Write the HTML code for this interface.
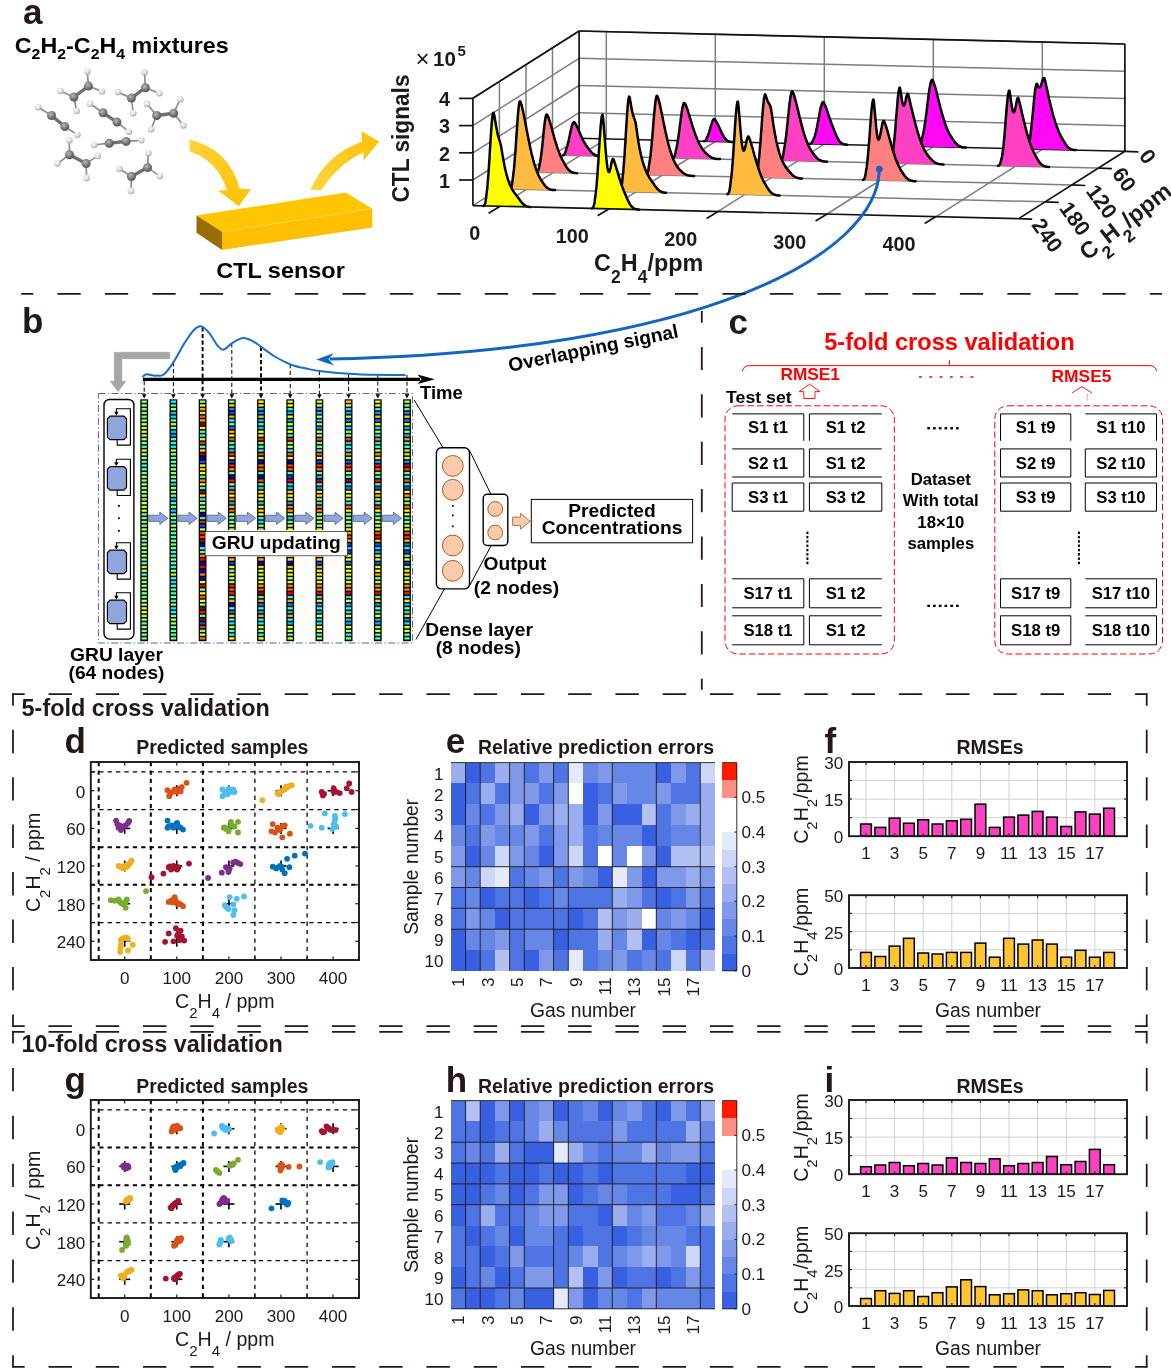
<!DOCTYPE html>
<html lang="en"><head><meta charset="utf-8"><title>Figure: GRU-based CTL sensor analysis</title>
<style>
html,body{margin:0;padding:0;background:#fff;}
svg{display:block;font-family:"Liberation Sans", sans-serif;}
text{white-space:pre;}
</style></head><body>
<svg width="1171" height="1370" viewBox="0 0 1171 1370">
<defs>
<radialGradient id="gC" cx="0.4" cy="0.35" r="0.7"><stop offset="0" stop-color="#b8b8b8"/><stop offset="0.55" stop-color="#7a7a7a"/><stop offset="1" stop-color="#4c4c4c"/></radialGradient>
<radialGradient id="gH" cx="0.4" cy="0.35" r="0.7"><stop offset="0" stop-color="#fbfbfb"/><stop offset="0.55" stop-color="#dcdcdc"/><stop offset="1" stop-color="#9c9c9c"/></radialGradient>
<linearGradient id="gA1" x1="0" y1="0" x2="1" y2="1"><stop offset="0" stop-color="#ffd23c"/><stop offset="1" stop-color="#fdc100"/></linearGradient>
<linearGradient id="gA2" x1="0" y1="1" x2="1" y2="0"><stop offset="0" stop-color="#ffd446"/><stop offset="1" stop-color="#fdc100"/></linearGradient>
</defs>
<rect width="1171" height="1370" fill="#fff"/>

<g id="panel-a">
<text x="23.0" y="23.5" font-size="35" font-weight="bold" fill="#231815">a</text>
<text x="14.8" y="53.2" font-size="22.3" font-weight="bold" textLength="213.8" lengthAdjust="spacingAndGlyphs">C<tspan font-size="15.2" dy="6.2">2</tspan><tspan dy="-6.2" font-size="22.3">&#8203;</tspan>H<tspan font-size="15.2" dy="6.2">2</tspan><tspan dy="-6.2" font-size="22.3">&#8203;</tspan>-C<tspan font-size="15.2" dy="6.2">2</tspan><tspan dy="-6.2" font-size="22.3">&#8203;</tspan>H<tspan font-size="15.2" dy="6.2">4</tspan><tspan dy="-6.2" font-size="22.3">&#8203;</tspan> mixtures</text>
<line x1="73.9" y1="97.0" x2="88.4" y2="86.1" stroke="#707070" stroke-width="3.4" stroke-linecap="round"/>
<line x1="73.9" y1="97.0" x2="60.4" y2="91.0" stroke="#8e8e8e" stroke-width="1.7" />
<line x1="73.9" y1="97.0" x2="76.6" y2="111.0" stroke="#8e8e8e" stroke-width="1.7" />
<line x1="88.4" y1="86.1" x2="87.3" y2="71.5" stroke="#8e8e8e" stroke-width="1.7" />
<line x1="88.4" y1="86.1" x2="102.1" y2="91.5" stroke="#8e8e8e" stroke-width="1.7" />
<circle cx="60.4" cy="91.0" r="3.3" fill="url(#gH)" stroke="none" stroke-width="1" />
<circle cx="76.6" cy="111.0" r="3.3" fill="url(#gH)" stroke="none" stroke-width="1" />
<circle cx="87.3" cy="71.5" r="3.3" fill="url(#gH)" stroke="none" stroke-width="1" />
<circle cx="102.1" cy="91.5" r="3.3" fill="url(#gH)" stroke="none" stroke-width="1" />
<circle cx="73.9" cy="97.0" r="4.5" fill="url(#gC)" stroke="none" stroke-width="1" />
<circle cx="88.4" cy="86.1" r="4.5" fill="url(#gC)" stroke="none" stroke-width="1" />
<line x1="131.4" y1="98.1" x2="145.4" y2="87.7" stroke="#707070" stroke-width="3.4" stroke-linecap="round"/>
<line x1="131.4" y1="98.1" x2="117.9" y2="92.1" stroke="#8e8e8e" stroke-width="1.7" />
<line x1="131.4" y1="98.1" x2="133.2" y2="113.2" stroke="#8e8e8e" stroke-width="1.7" />
<line x1="145.4" y1="87.7" x2="144.5" y2="72.2" stroke="#8e8e8e" stroke-width="1.7" />
<line x1="145.4" y1="87.7" x2="159.4" y2="93.3" stroke="#8e8e8e" stroke-width="1.7" />
<circle cx="117.9" cy="92.1" r="3.3" fill="url(#gH)" stroke="none" stroke-width="1" />
<circle cx="133.2" cy="113.2" r="3.3" fill="url(#gH)" stroke="none" stroke-width="1" />
<circle cx="144.5" cy="72.2" r="3.3" fill="url(#gH)" stroke="none" stroke-width="1" />
<circle cx="159.4" cy="93.3" r="3.3" fill="url(#gH)" stroke="none" stroke-width="1" />
<circle cx="131.4" cy="98.1" r="4.5" fill="url(#gC)" stroke="none" stroke-width="1" />
<circle cx="145.4" cy="87.7" r="4.5" fill="url(#gC)" stroke="none" stroke-width="1" />
<line x1="156.7" y1="115.5" x2="173.6" y2="113.2" stroke="#707070" stroke-width="3.4" stroke-linecap="round"/>
<line x1="156.7" y1="115.5" x2="147.0" y2="103.9" stroke="#8e8e8e" stroke-width="1.7" />
<line x1="156.7" y1="115.5" x2="151.0" y2="129.2" stroke="#8e8e8e" stroke-width="1.7" />
<line x1="173.6" y1="113.2" x2="180.3" y2="99.2" stroke="#8e8e8e" stroke-width="1.7" />
<line x1="173.6" y1="113.2" x2="183.4" y2="125.4" stroke="#8e8e8e" stroke-width="1.7" />
<circle cx="147.0" cy="103.9" r="3.3" fill="url(#gH)" stroke="none" stroke-width="1" />
<circle cx="151.0" cy="129.2" r="3.3" fill="url(#gH)" stroke="none" stroke-width="1" />
<circle cx="180.3" cy="99.2" r="3.3" fill="url(#gH)" stroke="none" stroke-width="1" />
<circle cx="183.4" cy="125.4" r="3.3" fill="url(#gH)" stroke="none" stroke-width="1" />
<circle cx="156.7" cy="115.5" r="4.5" fill="url(#gC)" stroke="none" stroke-width="1" />
<circle cx="173.6" cy="113.2" r="4.5" fill="url(#gC)" stroke="none" stroke-width="1" />
<line x1="51.5" y1="115.5" x2="64.8" y2="126.6" stroke="#707070" stroke-width="3.4" stroke-linecap="round"/>
<line x1="51.5" y1="115.5" x2="38.2" y2="107.2" stroke="#8e8e8e" stroke-width="1.7" />
<line x1="64.8" y1="126.6" x2="77.3" y2="134.8" stroke="#8e8e8e" stroke-width="1.7" />
<circle cx="38.2" cy="107.2" r="3.3" fill="url(#gH)" stroke="none" stroke-width="1" />
<circle cx="77.3" cy="134.8" r="3.3" fill="url(#gH)" stroke="none" stroke-width="1" />
<circle cx="51.5" cy="115.5" r="4.5" fill="url(#gC)" stroke="none" stroke-width="1" />
<circle cx="64.8" cy="126.6" r="4.5" fill="url(#gC)" stroke="none" stroke-width="1" />
<line x1="103.0" y1="112.8" x2="117.0" y2="122.1" stroke="#707070" stroke-width="3.4" stroke-linecap="round"/>
<line x1="103.0" y1="112.8" x2="90.1" y2="103.7" stroke="#8e8e8e" stroke-width="1.7" />
<line x1="117.0" y1="122.1" x2="128.8" y2="131.7" stroke="#8e8e8e" stroke-width="1.7" />
<circle cx="90.1" cy="103.7" r="3.3" fill="url(#gH)" stroke="none" stroke-width="1" />
<circle cx="128.8" cy="131.7" r="3.3" fill="url(#gH)" stroke="none" stroke-width="1" />
<circle cx="103.0" cy="112.8" r="4.5" fill="url(#gC)" stroke="none" stroke-width="1" />
<circle cx="117.0" cy="122.1" r="4.5" fill="url(#gC)" stroke="none" stroke-width="1" />
<line x1="109.2" y1="143.2" x2="126.1" y2="141.4" stroke="#707070" stroke-width="3.4" stroke-linecap="round"/>
<line x1="109.2" y1="143.2" x2="94.1" y2="145.0" stroke="#8e8e8e" stroke-width="1.7" />
<line x1="126.1" y1="141.4" x2="141.4" y2="140.3" stroke="#8e8e8e" stroke-width="1.7" />
<circle cx="94.1" cy="145.0" r="3.3" fill="url(#gH)" stroke="none" stroke-width="1" />
<circle cx="141.4" cy="140.3" r="3.3" fill="url(#gH)" stroke="none" stroke-width="1" />
<circle cx="109.2" cy="143.2" r="4.5" fill="url(#gC)" stroke="none" stroke-width="1" />
<circle cx="126.1" cy="141.4" r="4.5" fill="url(#gC)" stroke="none" stroke-width="1" />
<line x1="69.5" y1="154.8" x2="86.1" y2="163.6" stroke="#707070" stroke-width="3.4" stroke-linecap="round"/>
<line x1="69.5" y1="154.8" x2="69.3" y2="140.3" stroke="#8e8e8e" stroke-width="1.7" />
<line x1="69.5" y1="154.8" x2="57.3" y2="163.6" stroke="#8e8e8e" stroke-width="1.7" />
<line x1="86.1" y1="163.6" x2="97.7" y2="155.9" stroke="#8e8e8e" stroke-width="1.7" />
<line x1="86.1" y1="163.6" x2="86.6" y2="178.1" stroke="#8e8e8e" stroke-width="1.7" />
<circle cx="69.3" cy="140.3" r="3.3" fill="url(#gH)" stroke="none" stroke-width="1" />
<circle cx="57.3" cy="163.6" r="3.3" fill="url(#gH)" stroke="none" stroke-width="1" />
<circle cx="97.7" cy="155.9" r="3.3" fill="url(#gH)" stroke="none" stroke-width="1" />
<circle cx="86.6" cy="178.1" r="3.3" fill="url(#gH)" stroke="none" stroke-width="1" />
<circle cx="69.5" cy="154.8" r="4.5" fill="url(#gC)" stroke="none" stroke-width="1" />
<circle cx="86.1" cy="163.6" r="4.5" fill="url(#gC)" stroke="none" stroke-width="1" />
<line x1="131.4" y1="176.5" x2="147.6" y2="167.6" stroke="#707070" stroke-width="3.4" stroke-linecap="round"/>
<line x1="131.4" y1="176.5" x2="119.4" y2="168.7" stroke="#8e8e8e" stroke-width="1.7" />
<line x1="131.4" y1="176.5" x2="131.0" y2="190.9" stroke="#8e8e8e" stroke-width="1.7" />
<line x1="147.6" y1="167.6" x2="148.3" y2="153.2" stroke="#8e8e8e" stroke-width="1.7" />
<line x1="147.6" y1="167.6" x2="159.9" y2="176.1" stroke="#8e8e8e" stroke-width="1.7" />
<circle cx="119.4" cy="168.7" r="3.3" fill="url(#gH)" stroke="none" stroke-width="1" />
<circle cx="131.0" cy="190.9" r="3.3" fill="url(#gH)" stroke="none" stroke-width="1" />
<circle cx="148.3" cy="153.2" r="3.3" fill="url(#gH)" stroke="none" stroke-width="1" />
<circle cx="159.9" cy="176.1" r="3.3" fill="url(#gH)" stroke="none" stroke-width="1" />
<circle cx="131.4" cy="176.5" r="4.5" fill="url(#gC)" stroke="none" stroke-width="1" />
<circle cx="147.6" cy="167.6" r="4.5" fill="url(#gC)" stroke="none" stroke-width="1" />
<path d="M189.6,139.5 Q229,149 239.7,188.8 L250.9,189.2 L238.7,206.2 L218.1,190.5 L227,190.1 Q217,160 189.6,151.2 Z" fill="url(#gA1)" stroke="none" stroke-width="1" />
<path d="M310.4,189.8 Q325,155 362.1,141.4 L361.5,131.2 L379.2,141.4 L363.5,160.7 L363.5,152.2 Q337,165 321.6,190.1 Z" fill="url(#gA2)" stroke="none" stroke-width="1" />
<path d="M196.5,215.5 L345.8,192.5 L372.3,208.8 L222.1,231.8 Z" fill="#ffc600" stroke="none" stroke-width="1" />
<path d="M222.1,231.8 L372.3,208.8 L372.3,227.5 L222.1,249.9 Z" fill="#fdbf00" stroke="none" stroke-width="1" />
<path d="M196.5,215.5 L222.1,231.8 L222.1,249.9 L196.5,232.8 Z" fill="#9a6d00" stroke="none" stroke-width="1" />
<path d="M222.1,231.8 L372.3,208.8" fill="none" stroke="#ffd65a" stroke-width="0.6" />
<text x="280.5" y="277.8" font-size="22.4" font-weight="bold" text-anchor="middle" textLength="128.6" lengthAdjust="spacingAndGlyphs">CTL sensor</text>
<line x1="472.9" y1="180.0" x2="579.1" y2="112.7" stroke="#7d7d7d" stroke-width="1.5" />
<line x1="579.1" y1="112.7" x2="1124.9" y2="125.7" stroke="#7d7d7d" stroke-width="1.5" />
<line x1="472.9" y1="152.8" x2="579.1" y2="85.5" stroke="#7d7d7d" stroke-width="1.5" />
<line x1="579.1" y1="85.5" x2="1124.9" y2="98.5" stroke="#7d7d7d" stroke-width="1.5" />
<line x1="472.9" y1="125.6" x2="579.1" y2="58.3" stroke="#7d7d7d" stroke-width="1.5" />
<line x1="579.1" y1="58.3" x2="1124.9" y2="71.3" stroke="#7d7d7d" stroke-width="1.5" />
<line x1="472.9" y1="98.4" x2="579.1" y2="31.1" stroke="#7d7d7d" stroke-width="1.5" />
<line x1="579.1" y1="31.1" x2="1124.9" y2="44.1" stroke="#7d7d7d" stroke-width="1.5" />
<line x1="552.5" y1="155.1" x2="552.5" y2="47.8" stroke="#7d7d7d" stroke-width="1.5" />
<line x1="552.5" y1="155.1" x2="1098.4" y2="168.1" stroke="#7d7d7d" stroke-width="1.5" />
<line x1="526.0" y1="171.9" x2="526.0" y2="64.6" stroke="#7d7d7d" stroke-width="1.5" />
<line x1="526.0" y1="171.9" x2="1071.8" y2="184.9" stroke="#7d7d7d" stroke-width="1.5" />
<line x1="499.4" y1="188.8" x2="499.4" y2="81.5" stroke="#7d7d7d" stroke-width="1.5" />
<line x1="499.4" y1="188.8" x2="1045.2" y2="201.8" stroke="#7d7d7d" stroke-width="1.5" />
<line x1="606.3" y1="138.9" x2="606.3" y2="31.6" stroke="#7d7d7d" stroke-width="1.5" />
<line x1="606.3" y1="138.9" x2="500.1" y2="206.2" stroke="#7d7d7d" stroke-width="1.5" />
<line x1="715.3" y1="141.5" x2="715.3" y2="34.2" stroke="#7d7d7d" stroke-width="1.5" />
<line x1="715.3" y1="141.5" x2="609.1" y2="208.8" stroke="#7d7d7d" stroke-width="1.5" />
<line x1="824.3" y1="144.1" x2="824.3" y2="36.8" stroke="#7d7d7d" stroke-width="1.5" />
<line x1="824.3" y1="144.1" x2="718.1" y2="211.4" stroke="#7d7d7d" stroke-width="1.5" />
<line x1="933.3" y1="146.7" x2="933.3" y2="39.4" stroke="#7d7d7d" stroke-width="1.5" />
<line x1="933.3" y1="146.7" x2="827.1" y2="214.0" stroke="#7d7d7d" stroke-width="1.5" />
<line x1="1042.3" y1="149.3" x2="1042.3" y2="42.0" stroke="#7d7d7d" stroke-width="1.5" />
<line x1="1042.3" y1="149.3" x2="936.1" y2="216.6" stroke="#7d7d7d" stroke-width="1.5" />
<line x1="472.9" y1="205.6" x2="579.1" y2="138.3" stroke="#7d7d7d" stroke-width="1.5" />
<line x1="579.1" y1="138.3" x2="1124.9" y2="151.3" stroke="#111" stroke-width="1.5" />
<line x1="472.9" y1="205.6" x2="472.9" y2="98.3" stroke="#111" stroke-width="1.7" />
<line x1="472.9" y1="98.3" x2="579.1" y2="31.0" stroke="#111" stroke-width="1.7" />
<line x1="579.1" y1="31.0" x2="579.1" y2="138.3" stroke="#111" stroke-width="1.7" />
<line x1="579.1" y1="31.0" x2="1124.9" y2="44.0" stroke="#111" stroke-width="1.7" />
<line x1="1124.9" y1="44.0" x2="1124.9" y2="151.3" stroke="#111" stroke-width="1.7" />
<path d="M704.0,141.3 L704.2,141.2 L704.4,141.2 L704.6,141.1 L704.8,141.0 L705.0,140.8 L705.2,140.7 L705.5,140.5 L705.7,140.3 L705.9,140.0 L706.1,139.7 L706.3,139.3 L706.5,138.9 L706.7,138.4 L706.9,137.8 L707.1,137.3 L707.3,136.9 L707.5,136.4 L707.7,136.0 L707.9,135.5 L708.1,134.9 L708.4,134.4 L708.6,133.8 L708.8,133.2 L709.0,132.6 L709.2,131.9 L709.4,131.3 L709.6,130.6 L709.8,129.9 L710.0,129.2 L710.2,128.5 L710.4,127.7 L710.6,127.0 L710.8,126.3 L711.0,125.6 L711.2,124.9 L711.5,124.2 L711.7,123.6 L711.9,122.9 L712.1,122.4 L712.3,121.8 L712.5,121.3 L712.7,120.8 L712.9,120.4 L713.1,120.0 L713.3,119.7 L713.5,119.4 L713.7,119.2 L713.9,119.1 L714.1,119.0 L714.4,119.0 L714.6,119.1 L714.8,119.3 L715.0,119.5 L715.2,119.8 L715.4,120.1 L715.6,120.4 L715.8,120.7 L716.0,121.0 L716.2,121.4 L716.4,121.7 L716.6,122.1 L716.8,122.5 L717.0,122.9 L717.3,123.3 L717.5,123.7 L717.7,124.1 L717.9,124.5 L718.1,124.9 L718.3,125.3 L718.5,125.7 L718.7,126.1 L718.9,126.5 L719.1,127.0 L719.3,127.4 L719.5,127.8 L719.7,128.3 L720.0,128.7 L720.2,129.2 L720.4,129.7 L720.6,130.1 L720.8,130.6 L721.0,131.1 L721.2,131.6 L721.4,132.0 L721.6,132.5 L721.8,132.9 L722.0,133.4 L722.2,133.8 L722.4,134.2 L722.6,134.6 L722.9,135.0 L723.1,135.4 L723.3,135.8 L723.5,136.2 L723.7,136.5 L723.9,136.9 L724.1,137.2 L724.3,137.5 L724.5,137.8 L724.7,138.1 L724.9,138.4 L725.1,138.6 L725.3,138.9 L725.5,139.1 L725.8,139.3 L726.0,139.5 L726.2,139.7 L726.4,139.9 L726.6,140.1 L726.8,140.2 L727.0,140.4 L727.2,140.5 L727.4,140.7 L727.6,140.8 L727.8,140.9 L728.0,141.0 L728.2,141.1 L728.4,141.2 L728.6,141.3 L728.9,141.4 L729.1,141.4 L729.3,141.5 L729.5,141.6 L729.7,141.6 L729.9,141.7 L730.1,141.7 L730.3,141.7 L730.5,141.8 L730.7,141.8 L730.9,141.8 L731.1,141.9 L731.3,141.9 L731.5,141.9 L731.8,141.9 L732.0,141.9 L732.2,141.9 L732.4,141.9 L732.6,142.0 L732.8,142.0 L733.0,142.0 Z" fill="#ff08f4" stroke="none" stroke-width="1" />
<path d="M704.0,141.3 L704.2,141.2 L704.4,141.2 L704.6,141.1 L704.8,141.0 L705.0,140.8 L705.2,140.7 L705.5,140.5 L705.7,140.3 L705.9,140.0 L706.1,139.7 L706.3,139.3 L706.5,138.9 L706.7,138.4 L706.9,137.8 L707.1,137.3 L707.3,136.9 L707.5,136.4 L707.7,136.0 L707.9,135.5 L708.1,134.9 L708.4,134.4 L708.6,133.8 L708.8,133.2 L709.0,132.6 L709.2,131.9 L709.4,131.3 L709.6,130.6 L709.8,129.9 L710.0,129.2 L710.2,128.5 L710.4,127.7 L710.6,127.0 L710.8,126.3 L711.0,125.6 L711.2,124.9 L711.5,124.2 L711.7,123.6 L711.9,122.9 L712.1,122.4 L712.3,121.8 L712.5,121.3 L712.7,120.8 L712.9,120.4 L713.1,120.0 L713.3,119.7 L713.5,119.4 L713.7,119.2 L713.9,119.1 L714.1,119.0 L714.4,119.0 L714.6,119.1 L714.8,119.3 L715.0,119.5 L715.2,119.8 L715.4,120.1 L715.6,120.4 L715.8,120.7 L716.0,121.0 L716.2,121.4 L716.4,121.7 L716.6,122.1 L716.8,122.5 L717.0,122.9 L717.3,123.3 L717.5,123.7 L717.7,124.1 L717.9,124.5 L718.1,124.9 L718.3,125.3 L718.5,125.7 L718.7,126.1 L718.9,126.5 L719.1,127.0 L719.3,127.4 L719.5,127.8 L719.7,128.3 L720.0,128.7 L720.2,129.2 L720.4,129.7 L720.6,130.1 L720.8,130.6 L721.0,131.1 L721.2,131.6 L721.4,132.0 L721.6,132.5 L721.8,132.9 L722.0,133.4 L722.2,133.8 L722.4,134.2 L722.6,134.6 L722.9,135.0 L723.1,135.4 L723.3,135.8 L723.5,136.2 L723.7,136.5 L723.9,136.9 L724.1,137.2 L724.3,137.5 L724.5,137.8 L724.7,138.1 L724.9,138.4 L725.1,138.6 L725.3,138.9 L725.5,139.1 L725.8,139.3 L726.0,139.5 L726.2,139.7 L726.4,139.9 L726.6,140.1 L726.8,140.2 L727.0,140.4 L727.2,140.5 L727.4,140.7 L727.6,140.8 L727.8,140.9 L728.0,141.0 L728.2,141.1 L728.4,141.2 L728.6,141.3 L728.9,141.4 L729.1,141.4 L729.3,141.5 L729.5,141.6 L729.7,141.6 L729.9,141.7 L730.1,141.7 L730.3,141.7 L730.5,141.8 L730.7,141.8 L730.9,141.8 L731.1,141.9 L731.3,141.9 L731.5,141.9 L731.8,141.9 L732.0,141.9 L732.2,141.9 L732.4,141.9 L732.6,142.0 L732.8,142.0 L733.0,142.0" fill="none" stroke="#000" stroke-width="2.5" stroke-linejoin="round" stroke-linecap="round"/>
<path d="M810.0,143.8 L810.3,143.7 L810.5,143.6 L810.8,143.5 L811.1,143.4 L811.3,143.2 L811.6,142.9 L811.9,142.6 L812.1,142.2 L812.4,141.8 L812.6,141.2 L812.9,140.6 L813.2,140.0 L813.4,139.5 L813.7,138.9 L814.0,138.3 L814.2,137.6 L814.5,136.9 L814.8,136.1 L815.0,135.3 L815.3,134.4 L815.5,133.4 L815.8,132.4 L816.1,131.3 L816.3,130.1 L816.6,128.9 L816.9,127.7 L817.1,126.4 L817.4,125.0 L817.7,123.6 L817.9,122.2 L818.2,120.8 L818.5,119.3 L818.7,117.9 L819.0,116.4 L819.2,115.0 L819.5,113.6 L819.8,112.2 L820.0,110.9 L820.3,109.6 L820.6,108.4 L820.8,107.3 L821.1,106.2 L821.4,105.3 L821.6,104.5 L821.9,103.7 L822.2,103.2 L822.4,102.7 L822.7,102.4 L823.0,102.2 L823.2,102.1 L823.5,102.3 L823.7,102.6 L824.0,103.0 L824.3,103.5 L824.5,104.0 L824.8,104.6 L825.1,105.2 L825.3,105.8 L825.6,106.5 L825.9,107.2 L826.1,107.9 L826.4,108.7 L826.6,109.4 L826.9,110.2 L827.2,110.9 L827.4,111.7 L827.7,112.5 L828.0,113.3 L828.2,114.1 L828.5,114.9 L828.8,115.7 L829.0,116.5 L829.3,117.3 L829.6,118.0 L829.8,118.8 L830.1,119.6 L830.4,120.3 L830.6,121.1 L830.9,121.8 L831.1,122.6 L831.4,123.3 L831.7,124.0 L831.9,124.7 L832.2,125.3 L832.5,126.0 L832.7,126.6 L833.0,127.3 L833.3,127.9 L833.5,128.6 L833.8,129.2 L834.0,129.9 L834.3,130.6 L834.6,131.3 L834.8,131.9 L835.1,132.6 L835.4,133.3 L835.6,133.9 L835.9,134.5 L836.2,135.2 L836.4,135.8 L836.7,136.3 L837.0,136.9 L837.2,137.4 L837.5,137.9 L837.8,138.4 L838.0,138.9 L838.3,139.4 L838.5,139.8 L838.8,140.2 L839.1,140.6 L839.3,140.9 L839.6,141.3 L839.9,141.6 L840.1,141.9 L840.4,142.2 L840.7,142.4 L840.9,142.7 L841.2,142.9 L841.5,143.1 L841.7,143.3 L842.0,143.4 L842.2,143.6 L842.5,143.7 L842.8,143.9 L843.0,144.0 L843.3,144.1 L843.6,144.2 L843.8,144.3 L844.1,144.3 L844.4,144.4 L844.6,144.4 L844.9,144.5 L845.1,144.5 L845.4,144.6 L845.7,144.6 L845.9,144.6 L846.2,144.6 L846.5,144.7 L846.7,144.7 L847.0,144.7 Z" fill="#ff08f4" stroke="none" stroke-width="1" />
<path d="M810.0,143.8 L810.3,143.7 L810.5,143.6 L810.8,143.5 L811.1,143.4 L811.3,143.2 L811.6,142.9 L811.9,142.6 L812.1,142.2 L812.4,141.8 L812.6,141.2 L812.9,140.6 L813.2,140.0 L813.4,139.5 L813.7,138.9 L814.0,138.3 L814.2,137.6 L814.5,136.9 L814.8,136.1 L815.0,135.3 L815.3,134.4 L815.5,133.4 L815.8,132.4 L816.1,131.3 L816.3,130.1 L816.6,128.9 L816.9,127.7 L817.1,126.4 L817.4,125.0 L817.7,123.6 L817.9,122.2 L818.2,120.8 L818.5,119.3 L818.7,117.9 L819.0,116.4 L819.2,115.0 L819.5,113.6 L819.8,112.2 L820.0,110.9 L820.3,109.6 L820.6,108.4 L820.8,107.3 L821.1,106.2 L821.4,105.3 L821.6,104.5 L821.9,103.7 L822.2,103.2 L822.4,102.7 L822.7,102.4 L823.0,102.2 L823.2,102.1 L823.5,102.3 L823.7,102.6 L824.0,103.0 L824.3,103.5 L824.5,104.0 L824.8,104.6 L825.1,105.2 L825.3,105.8 L825.6,106.5 L825.9,107.2 L826.1,107.9 L826.4,108.7 L826.6,109.4 L826.9,110.2 L827.2,110.9 L827.4,111.7 L827.7,112.5 L828.0,113.3 L828.2,114.1 L828.5,114.9 L828.8,115.7 L829.0,116.5 L829.3,117.3 L829.6,118.0 L829.8,118.8 L830.1,119.6 L830.4,120.3 L830.6,121.1 L830.9,121.8 L831.1,122.6 L831.4,123.3 L831.7,124.0 L831.9,124.7 L832.2,125.3 L832.5,126.0 L832.7,126.6 L833.0,127.3 L833.3,127.9 L833.5,128.6 L833.8,129.2 L834.0,129.9 L834.3,130.6 L834.6,131.3 L834.8,131.9 L835.1,132.6 L835.4,133.3 L835.6,133.9 L835.9,134.5 L836.2,135.2 L836.4,135.8 L836.7,136.3 L837.0,136.9 L837.2,137.4 L837.5,137.9 L837.8,138.4 L838.0,138.9 L838.3,139.4 L838.5,139.8 L838.8,140.2 L839.1,140.6 L839.3,140.9 L839.6,141.3 L839.9,141.6 L840.1,141.9 L840.4,142.2 L840.7,142.4 L840.9,142.7 L841.2,142.9 L841.5,143.1 L841.7,143.3 L842.0,143.4 L842.2,143.6 L842.5,143.7 L842.8,143.9 L843.0,144.0 L843.3,144.1 L843.6,144.2 L843.8,144.3 L844.1,144.3 L844.4,144.4 L844.6,144.4 L844.9,144.5 L845.1,144.5 L845.4,144.6 L845.7,144.6 L845.9,144.6 L846.2,144.6 L846.5,144.7 L846.7,144.7 L847.0,144.7" fill="none" stroke="#000" stroke-width="2.5" stroke-linejoin="round" stroke-linecap="round"/>
<path d="M919.0,146.4 L919.3,146.1 L919.7,145.8 L920.0,145.3 L920.3,144.7 L920.7,143.9 L921.0,142.9 L921.4,141.7 L921.7,140.2 L922.0,138.4 L922.4,137.2 L922.7,135.9 L923.0,134.5 L923.4,132.9 L923.7,131.2 L924.0,129.3 L924.4,127.3 L924.7,125.2 L925.0,123.0 L925.4,120.6 L925.7,118.2 L926.0,115.6 L926.4,113.0 L926.7,110.3 L927.1,107.5 L927.4,104.8 L927.7,102.1 L928.1,99.4 L928.4,96.7 L928.7,94.2 L929.1,91.8 L929.4,89.5 L929.7,87.4 L930.1,85.5 L930.4,83.9 L930.8,82.5 L931.1,81.4 L931.4,80.5 L931.8,80.0 L932.1,79.7 L932.4,79.9 L932.8,80.4 L933.1,81.0 L933.4,81.8 L933.8,82.7 L934.1,83.6 L934.4,84.7 L934.8,85.8 L935.1,86.9 L935.5,88.1 L935.8,89.3 L936.1,90.6 L936.5,91.9 L936.8,93.2 L937.1,94.5 L937.5,95.9 L937.8,97.2 L938.1,98.5 L938.5,99.9 L938.8,101.2 L939.1,102.6 L939.5,103.9 L939.8,105.2 L940.1,106.6 L940.5,107.9 L940.8,109.1 L941.2,110.4 L941.5,111.6 L941.8,112.9 L942.2,114.1 L942.5,115.2 L942.8,116.4 L943.2,117.5 L943.5,118.6 L943.8,119.7 L944.2,120.8 L944.5,121.8 L944.9,122.8 L945.2,123.8 L945.5,124.7 L945.9,125.7 L946.2,126.5 L946.5,127.4 L946.9,128.3 L947.2,129.1 L947.5,129.9 L947.9,130.6 L948.2,131.4 L948.5,132.1 L948.9,132.8 L949.2,133.4 L949.5,134.1 L949.9,134.7 L950.2,135.3 L950.6,135.8 L950.9,136.4 L951.2,136.9 L951.6,137.4 L951.9,137.9 L952.2,138.4 L952.6,138.9 L952.9,139.4 L953.2,139.8 L953.6,140.3 L953.9,140.8 L954.2,141.2 L954.6,141.7 L954.9,142.1 L955.3,142.5 L955.6,142.9 L955.9,143.3 L956.3,143.7 L956.6,144.0 L956.9,144.3 L957.3,144.6 L957.6,144.9 L957.9,145.2 L958.3,145.4 L958.6,145.7 L959.0,145.9 L959.3,146.1 L959.6,146.2 L960.0,146.4 L960.3,146.5 L960.6,146.7 L961.0,146.8 L961.3,146.9 L961.6,147.0 L962.0,147.1 L962.3,147.2 L962.6,147.2 L963.0,147.3 L963.3,147.3 L963.6,147.4 L964.0,147.4 L964.3,147.4 L964.7,147.5 L965.0,147.5 L965.3,147.5 L965.7,147.5 L966.0,147.5 Z" fill="#ff08f4" stroke="none" stroke-width="1" />
<path d="M919.0,146.4 L919.3,146.1 L919.7,145.8 L920.0,145.3 L920.3,144.7 L920.7,143.9 L921.0,142.9 L921.4,141.7 L921.7,140.2 L922.0,138.4 L922.4,137.2 L922.7,135.9 L923.0,134.5 L923.4,132.9 L923.7,131.2 L924.0,129.3 L924.4,127.3 L924.7,125.2 L925.0,123.0 L925.4,120.6 L925.7,118.2 L926.0,115.6 L926.4,113.0 L926.7,110.3 L927.1,107.5 L927.4,104.8 L927.7,102.1 L928.1,99.4 L928.4,96.7 L928.7,94.2 L929.1,91.8 L929.4,89.5 L929.7,87.4 L930.1,85.5 L930.4,83.9 L930.8,82.5 L931.1,81.4 L931.4,80.5 L931.8,80.0 L932.1,79.7 L932.4,79.9 L932.8,80.4 L933.1,81.0 L933.4,81.8 L933.8,82.7 L934.1,83.6 L934.4,84.7 L934.8,85.8 L935.1,86.9 L935.5,88.1 L935.8,89.3 L936.1,90.6 L936.5,91.9 L936.8,93.2 L937.1,94.5 L937.5,95.9 L937.8,97.2 L938.1,98.5 L938.5,99.9 L938.8,101.2 L939.1,102.6 L939.5,103.9 L939.8,105.2 L940.1,106.6 L940.5,107.9 L940.8,109.1 L941.2,110.4 L941.5,111.6 L941.8,112.9 L942.2,114.1 L942.5,115.2 L942.8,116.4 L943.2,117.5 L943.5,118.6 L943.8,119.7 L944.2,120.8 L944.5,121.8 L944.9,122.8 L945.2,123.8 L945.5,124.7 L945.9,125.7 L946.2,126.5 L946.5,127.4 L946.9,128.3 L947.2,129.1 L947.5,129.9 L947.9,130.6 L948.2,131.4 L948.5,132.1 L948.9,132.8 L949.2,133.4 L949.5,134.1 L949.9,134.7 L950.2,135.3 L950.6,135.8 L950.9,136.4 L951.2,136.9 L951.6,137.4 L951.9,137.9 L952.2,138.4 L952.6,138.9 L952.9,139.4 L953.2,139.8 L953.6,140.3 L953.9,140.8 L954.2,141.2 L954.6,141.7 L954.9,142.1 L955.3,142.5 L955.6,142.9 L955.9,143.3 L956.3,143.7 L956.6,144.0 L956.9,144.3 L957.3,144.6 L957.6,144.9 L957.9,145.2 L958.3,145.4 L958.6,145.7 L959.0,145.9 L959.3,146.1 L959.6,146.2 L960.0,146.4 L960.3,146.5 L960.6,146.7 L961.0,146.8 L961.3,146.9 L961.6,147.0 L962.0,147.1 L962.3,147.2 L962.6,147.2 L963.0,147.3 L963.3,147.3 L963.6,147.4 L964.0,147.4 L964.3,147.4 L964.7,147.5 L965.0,147.5 L965.3,147.5 L965.7,147.5 L966.0,147.5" fill="none" stroke="#000" stroke-width="2.5" stroke-linejoin="round" stroke-linecap="round"/>
<path d="M1027.0,149.0 L1027.3,148.7 L1027.7,148.3 L1028.0,147.7 L1028.4,146.9 L1028.8,145.7 L1029.1,144.2 L1029.5,142.1 L1029.8,139.4 L1030.2,136.7 L1030.5,134.3 L1030.8,131.7 L1031.2,128.9 L1031.5,125.8 L1031.9,122.4 L1032.2,118.9 L1032.6,115.2 L1033.0,111.5 L1033.3,107.7 L1033.7,104.0 L1034.0,100.3 L1034.3,96.9 L1034.7,93.8 L1035.0,91.0 L1035.4,88.5 L1035.8,86.5 L1036.1,85.0 L1036.5,83.9 L1036.8,83.7 L1037.2,84.1 L1037.5,84.8 L1037.8,85.6 L1038.2,86.3 L1038.5,86.9 L1038.9,87.4 L1039.2,87.6 L1039.6,87.6 L1040.0,87.4 L1040.3,87.0 L1040.7,86.3 L1041.0,85.4 L1041.3,84.3 L1041.7,83.1 L1042.0,81.9 L1042.4,80.8 L1042.8,79.7 L1043.1,78.8 L1043.5,78.2 L1043.8,77.9 L1044.2,78.0 L1044.5,78.5 L1044.8,79.4 L1045.2,80.8 L1045.5,82.4 L1045.9,84.0 L1046.2,85.6 L1046.6,87.3 L1047.0,88.9 L1047.3,90.6 L1047.7,92.2 L1048.0,93.8 L1048.3,95.4 L1048.7,97.0 L1049.0,98.6 L1049.4,100.1 L1049.8,101.6 L1050.1,103.1 L1050.5,104.6 L1050.8,106.0 L1051.2,107.5 L1051.5,108.8 L1051.8,110.2 L1052.2,111.5 L1052.5,112.9 L1052.9,114.2 L1053.2,115.4 L1053.6,116.6 L1054.0,117.9 L1054.3,119.0 L1054.7,120.2 L1055.0,121.3 L1055.3,122.4 L1055.7,123.5 L1056.0,124.5 L1056.4,125.5 L1056.8,126.5 L1057.1,127.5 L1057.5,128.4 L1057.8,129.3 L1058.2,130.2 L1058.5,131.0 L1058.8,131.8 L1059.2,132.6 L1059.5,133.4 L1059.9,134.1 L1060.2,134.9 L1060.6,135.6 L1061.0,136.2 L1061.3,136.9 L1061.7,137.5 L1062.0,138.1 L1062.3,138.7 L1062.7,139.3 L1063.0,139.9 L1063.4,140.5 L1063.8,141.1 L1064.1,141.7 L1064.5,142.3 L1064.8,142.9 L1065.2,143.4 L1065.5,144.0 L1065.8,144.5 L1066.2,145.0 L1066.5,145.4 L1066.9,145.9 L1067.2,146.3 L1067.6,146.7 L1068.0,147.0 L1068.3,147.4 L1068.7,147.7 L1069.0,148.0 L1069.3,148.2 L1069.7,148.5 L1070.0,148.7 L1070.4,148.9 L1070.8,149.1 L1071.1,149.2 L1071.5,149.4 L1071.8,149.5 L1072.2,149.6 L1072.5,149.7 L1072.8,149.8 L1073.2,149.9 L1073.5,149.9 L1073.9,150.0 L1074.2,150.0 L1074.6,150.1 L1075.0,150.1 L1075.3,150.1 L1075.7,150.1 L1076.0,150.1 Z" fill="#ff08f4" stroke="none" stroke-width="1" />
<path d="M1027.0,149.0 L1027.3,148.7 L1027.7,148.3 L1028.0,147.7 L1028.4,146.9 L1028.8,145.7 L1029.1,144.2 L1029.5,142.1 L1029.8,139.4 L1030.2,136.7 L1030.5,134.3 L1030.8,131.7 L1031.2,128.9 L1031.5,125.8 L1031.9,122.4 L1032.2,118.9 L1032.6,115.2 L1033.0,111.5 L1033.3,107.7 L1033.7,104.0 L1034.0,100.3 L1034.3,96.9 L1034.7,93.8 L1035.0,91.0 L1035.4,88.5 L1035.8,86.5 L1036.1,85.0 L1036.5,83.9 L1036.8,83.7 L1037.2,84.1 L1037.5,84.8 L1037.8,85.6 L1038.2,86.3 L1038.5,86.9 L1038.9,87.4 L1039.2,87.6 L1039.6,87.6 L1040.0,87.4 L1040.3,87.0 L1040.7,86.3 L1041.0,85.4 L1041.3,84.3 L1041.7,83.1 L1042.0,81.9 L1042.4,80.8 L1042.8,79.7 L1043.1,78.8 L1043.5,78.2 L1043.8,77.9 L1044.2,78.0 L1044.5,78.5 L1044.8,79.4 L1045.2,80.8 L1045.5,82.4 L1045.9,84.0 L1046.2,85.6 L1046.6,87.3 L1047.0,88.9 L1047.3,90.6 L1047.7,92.2 L1048.0,93.8 L1048.3,95.4 L1048.7,97.0 L1049.0,98.6 L1049.4,100.1 L1049.8,101.6 L1050.1,103.1 L1050.5,104.6 L1050.8,106.0 L1051.2,107.5 L1051.5,108.8 L1051.8,110.2 L1052.2,111.5 L1052.5,112.9 L1052.9,114.2 L1053.2,115.4 L1053.6,116.6 L1054.0,117.9 L1054.3,119.0 L1054.7,120.2 L1055.0,121.3 L1055.3,122.4 L1055.7,123.5 L1056.0,124.5 L1056.4,125.5 L1056.8,126.5 L1057.1,127.5 L1057.5,128.4 L1057.8,129.3 L1058.2,130.2 L1058.5,131.0 L1058.8,131.8 L1059.2,132.6 L1059.5,133.4 L1059.9,134.1 L1060.2,134.9 L1060.6,135.6 L1061.0,136.2 L1061.3,136.9 L1061.7,137.5 L1062.0,138.1 L1062.3,138.7 L1062.7,139.3 L1063.0,139.9 L1063.4,140.5 L1063.8,141.1 L1064.1,141.7 L1064.5,142.3 L1064.8,142.9 L1065.2,143.4 L1065.5,144.0 L1065.8,144.5 L1066.2,145.0 L1066.5,145.4 L1066.9,145.9 L1067.2,146.3 L1067.6,146.7 L1068.0,147.0 L1068.3,147.4 L1068.7,147.7 L1069.0,148.0 L1069.3,148.2 L1069.7,148.5 L1070.0,148.7 L1070.4,148.9 L1070.8,149.1 L1071.1,149.2 L1071.5,149.4 L1071.8,149.5 L1072.2,149.6 L1072.5,149.7 L1072.8,149.8 L1073.2,149.9 L1073.5,149.9 L1073.9,150.0 L1074.2,150.0 L1074.6,150.1 L1075.0,150.1 L1075.3,150.1 L1075.7,150.1 L1076.0,150.1" fill="none" stroke="#000" stroke-width="2.5" stroke-linejoin="round" stroke-linecap="round"/>
<path d="M563.0,155.4 L563.3,155.3 L563.6,155.1 L563.8,154.9 L564.1,154.6 L564.4,154.2 L564.7,153.7 L565.0,153.2 L565.2,152.5 L565.5,151.7 L565.8,150.7 L566.1,149.6 L566.3,148.9 L566.6,148.1 L566.9,147.2 L567.2,146.3 L567.5,145.3 L567.7,144.2 L568.0,143.1 L568.3,141.9 L568.6,140.7 L568.9,139.5 L569.1,138.2 L569.4,136.9 L569.7,135.6 L570.0,134.2 L570.2,132.9 L570.5,131.6 L570.8,130.4 L571.1,129.1 L571.4,128.0 L571.6,126.9 L571.9,125.9 L572.2,125.0 L572.5,124.2 L572.8,123.5 L573.0,123.0 L573.3,122.6 L573.6,122.3 L573.9,122.1 L574.1,122.2 L574.4,122.4 L574.7,122.7 L575.0,123.0 L575.3,123.4 L575.5,123.9 L575.8,124.3 L576.1,124.9 L576.4,125.4 L576.6,125.9 L576.9,126.5 L577.2,127.1 L577.5,127.7 L577.8,128.3 L578.0,128.9 L578.3,129.6 L578.6,130.2 L578.9,130.8 L579.2,131.5 L579.4,132.1 L579.7,132.7 L580.0,133.4 L580.3,134.0 L580.5,134.6 L580.8,135.3 L581.1,135.9 L581.4,136.5 L581.7,137.1 L581.9,137.7 L582.2,138.3 L582.5,138.9 L582.8,139.4 L583.1,140.0 L583.3,140.5 L583.6,141.1 L583.9,141.6 L584.2,142.1 L584.5,142.6 L584.7,143.1 L585.0,143.6 L585.3,144.1 L585.6,144.5 L585.8,145.0 L586.1,145.4 L586.4,145.8 L586.7,146.2 L587.0,146.6 L587.2,147.0 L587.5,147.4 L587.8,147.7 L588.1,148.1 L588.4,148.4 L588.6,148.8 L588.9,149.2 L589.2,149.5 L589.5,149.9 L589.7,150.2 L590.0,150.6 L590.3,150.9 L590.6,151.2 L590.9,151.6 L591.1,151.9 L591.4,152.2 L591.7,152.5 L592.0,152.7 L592.2,153.0 L592.5,153.2 L592.8,153.5 L593.1,153.7 L593.4,153.9 L593.6,154.1 L593.9,154.3 L594.2,154.5 L594.5,154.7 L594.8,154.8 L595.0,155.0 L595.3,155.1 L595.6,155.2 L595.9,155.3 L596.1,155.4 L596.4,155.5 L596.7,155.6 L597.0,155.7 L597.3,155.8 L597.5,155.8 L597.8,155.9 L598.1,156.0 L598.4,156.0 L598.7,156.1 L598.9,156.1 L599.2,156.1 L599.5,156.2 L599.8,156.2 L600.0,156.2 L600.3,156.2 L600.6,156.2 L600.9,156.3 L601.2,156.3 L601.4,156.3 L601.7,156.3 L602.0,156.3 Z" fill="#ff40c2" stroke="none" stroke-width="1" />
<path d="M563.0,155.4 L563.3,155.3 L563.6,155.1 L563.8,154.9 L564.1,154.6 L564.4,154.2 L564.7,153.7 L565.0,153.2 L565.2,152.5 L565.5,151.7 L565.8,150.7 L566.1,149.6 L566.3,148.9 L566.6,148.1 L566.9,147.2 L567.2,146.3 L567.5,145.3 L567.7,144.2 L568.0,143.1 L568.3,141.9 L568.6,140.7 L568.9,139.5 L569.1,138.2 L569.4,136.9 L569.7,135.6 L570.0,134.2 L570.2,132.9 L570.5,131.6 L570.8,130.4 L571.1,129.1 L571.4,128.0 L571.6,126.9 L571.9,125.9 L572.2,125.0 L572.5,124.2 L572.8,123.5 L573.0,123.0 L573.3,122.6 L573.6,122.3 L573.9,122.1 L574.1,122.2 L574.4,122.4 L574.7,122.7 L575.0,123.0 L575.3,123.4 L575.5,123.9 L575.8,124.3 L576.1,124.9 L576.4,125.4 L576.6,125.9 L576.9,126.5 L577.2,127.1 L577.5,127.7 L577.8,128.3 L578.0,128.9 L578.3,129.6 L578.6,130.2 L578.9,130.8 L579.2,131.5 L579.4,132.1 L579.7,132.7 L580.0,133.4 L580.3,134.0 L580.5,134.6 L580.8,135.3 L581.1,135.9 L581.4,136.5 L581.7,137.1 L581.9,137.7 L582.2,138.3 L582.5,138.9 L582.8,139.4 L583.1,140.0 L583.3,140.5 L583.6,141.1 L583.9,141.6 L584.2,142.1 L584.5,142.6 L584.7,143.1 L585.0,143.6 L585.3,144.1 L585.6,144.5 L585.8,145.0 L586.1,145.4 L586.4,145.8 L586.7,146.2 L587.0,146.6 L587.2,147.0 L587.5,147.4 L587.8,147.7 L588.1,148.1 L588.4,148.4 L588.6,148.8 L588.9,149.2 L589.2,149.5 L589.5,149.9 L589.7,150.2 L590.0,150.6 L590.3,150.9 L590.6,151.2 L590.9,151.6 L591.1,151.9 L591.4,152.2 L591.7,152.5 L592.0,152.7 L592.2,153.0 L592.5,153.2 L592.8,153.5 L593.1,153.7 L593.4,153.9 L593.6,154.1 L593.9,154.3 L594.2,154.5 L594.5,154.7 L594.8,154.8 L595.0,155.0 L595.3,155.1 L595.6,155.2 L595.9,155.3 L596.1,155.4 L596.4,155.5 L596.7,155.6 L597.0,155.7 L597.3,155.8 L597.5,155.8 L597.8,155.9 L598.1,156.0 L598.4,156.0 L598.7,156.1 L598.9,156.1 L599.2,156.1 L599.5,156.2 L599.8,156.2 L600.0,156.2 L600.3,156.2 L600.6,156.2 L600.9,156.3 L601.2,156.3 L601.4,156.3 L601.7,156.3 L602.0,156.3" fill="none" stroke="#000" stroke-width="2.5" stroke-linejoin="round" stroke-linecap="round"/>
<path d="M673.0,158.0 L673.3,157.8 L673.7,157.5 L674.0,157.0 L674.3,156.4 L674.7,155.7 L675.0,154.7 L675.4,153.4 L675.7,151.7 L676.0,149.8 L676.4,148.5 L676.7,147.0 L677.0,145.3 L677.4,143.5 L677.7,141.6 L678.0,139.5 L678.4,137.3 L678.7,134.9 L679.0,132.4 L679.4,129.9 L679.7,127.3 L680.0,124.6 L680.4,122.0 L680.7,119.4 L681.1,116.8 L681.4,114.4 L681.7,112.1 L682.1,110.0 L682.4,108.1 L682.7,106.5 L683.1,105.1 L683.4,104.1 L683.7,103.3 L684.1,102.9 L684.4,102.9 L684.8,103.3 L685.1,103.7 L685.4,104.4 L685.8,105.1 L686.1,105.8 L686.4,106.7 L686.8,107.6 L687.1,108.5 L687.4,109.5 L687.8,110.5 L688.1,111.5 L688.4,112.6 L688.8,113.7 L689.1,114.8 L689.5,115.9 L689.8,117.0 L690.1,118.1 L690.5,119.2 L690.8,120.3 L691.1,121.4 L691.5,122.5 L691.8,123.6 L692.1,124.7 L692.5,125.8 L692.8,126.9 L693.1,127.9 L693.5,129.0 L693.8,130.0 L694.1,131.0 L694.5,132.0 L694.8,132.9 L695.2,133.9 L695.5,134.8 L695.8,135.7 L696.2,136.6 L696.5,137.4 L696.8,138.3 L697.2,139.1 L697.5,139.9 L697.8,140.6 L698.2,141.4 L698.5,142.1 L698.9,142.8 L699.2,143.5 L699.5,144.2 L699.9,144.8 L700.2,145.4 L700.5,146.0 L700.9,146.6 L701.2,147.2 L701.5,147.7 L701.9,148.2 L702.2,148.7 L702.5,149.2 L702.9,149.7 L703.2,150.1 L703.5,150.5 L703.9,150.9 L704.2,151.3 L704.6,151.7 L704.9,152.1 L705.2,152.4 L705.6,152.7 L705.9,153.1 L706.2,153.4 L706.6,153.7 L706.9,154.0 L707.2,154.3 L707.6,154.6 L707.9,154.9 L708.2,155.2 L708.6,155.5 L708.9,155.8 L709.3,156.0 L709.6,156.3 L709.9,156.5 L710.3,156.7 L710.6,156.9 L710.9,157.1 L711.3,157.3 L711.6,157.5 L711.9,157.7 L712.3,157.8 L712.6,157.9 L713.0,158.1 L713.3,158.2 L713.6,158.3 L714.0,158.4 L714.3,158.5 L714.6,158.6 L715.0,158.6 L715.3,158.7 L715.6,158.8 L716.0,158.8 L716.3,158.9 L716.6,158.9 L717.0,158.9 L717.3,159.0 L717.6,159.0 L718.0,159.0 L718.3,159.0 L718.7,159.1 L719.0,159.1 L719.3,159.1 L719.7,159.1 L720.0,159.1 Z" fill="#ff40c2" stroke="none" stroke-width="1" />
<path d="M673.0,158.0 L673.3,157.8 L673.7,157.5 L674.0,157.0 L674.3,156.4 L674.7,155.7 L675.0,154.7 L675.4,153.4 L675.7,151.7 L676.0,149.8 L676.4,148.5 L676.7,147.0 L677.0,145.3 L677.4,143.5 L677.7,141.6 L678.0,139.5 L678.4,137.3 L678.7,134.9 L679.0,132.4 L679.4,129.9 L679.7,127.3 L680.0,124.6 L680.4,122.0 L680.7,119.4 L681.1,116.8 L681.4,114.4 L681.7,112.1 L682.1,110.0 L682.4,108.1 L682.7,106.5 L683.1,105.1 L683.4,104.1 L683.7,103.3 L684.1,102.9 L684.4,102.9 L684.8,103.3 L685.1,103.7 L685.4,104.4 L685.8,105.1 L686.1,105.8 L686.4,106.7 L686.8,107.6 L687.1,108.5 L687.4,109.5 L687.8,110.5 L688.1,111.5 L688.4,112.6 L688.8,113.7 L689.1,114.8 L689.5,115.9 L689.8,117.0 L690.1,118.1 L690.5,119.2 L690.8,120.3 L691.1,121.4 L691.5,122.5 L691.8,123.6 L692.1,124.7 L692.5,125.8 L692.8,126.9 L693.1,127.9 L693.5,129.0 L693.8,130.0 L694.1,131.0 L694.5,132.0 L694.8,132.9 L695.2,133.9 L695.5,134.8 L695.8,135.7 L696.2,136.6 L696.5,137.4 L696.8,138.3 L697.2,139.1 L697.5,139.9 L697.8,140.6 L698.2,141.4 L698.5,142.1 L698.9,142.8 L699.2,143.5 L699.5,144.2 L699.9,144.8 L700.2,145.4 L700.5,146.0 L700.9,146.6 L701.2,147.2 L701.5,147.7 L701.9,148.2 L702.2,148.7 L702.5,149.2 L702.9,149.7 L703.2,150.1 L703.5,150.5 L703.9,150.9 L704.2,151.3 L704.6,151.7 L704.9,152.1 L705.2,152.4 L705.6,152.7 L705.9,153.1 L706.2,153.4 L706.6,153.7 L706.9,154.0 L707.2,154.3 L707.6,154.6 L707.9,154.9 L708.2,155.2 L708.6,155.5 L708.9,155.8 L709.3,156.0 L709.6,156.3 L709.9,156.5 L710.3,156.7 L710.6,156.9 L710.9,157.1 L711.3,157.3 L711.6,157.5 L711.9,157.7 L712.3,157.8 L712.6,157.9 L713.0,158.1 L713.3,158.2 L713.6,158.3 L714.0,158.4 L714.3,158.5 L714.6,158.6 L715.0,158.6 L715.3,158.7 L715.6,158.8 L716.0,158.8 L716.3,158.9 L716.6,158.9 L717.0,158.9 L717.3,159.0 L717.6,159.0 L718.0,159.0 L718.3,159.0 L718.7,159.1 L719.0,159.1 L719.3,159.1 L719.7,159.1 L720.0,159.1" fill="none" stroke="#000" stroke-width="2.5" stroke-linejoin="round" stroke-linecap="round"/>
<path d="M781.0,160.6 L781.3,160.3 L781.7,159.9 L782.0,159.3 L782.3,158.6 L782.6,157.6 L783.0,156.3 L783.3,154.7 L783.6,152.7 L784.0,150.3 L784.3,148.4 L784.6,146.6 L784.9,144.6 L785.3,142.4 L785.6,140.0 L785.9,137.4 L786.3,134.6 L786.6,131.7 L786.9,128.7 L787.2,125.6 L787.6,122.4 L787.9,119.1 L788.2,115.9 L788.6,112.7 L788.9,109.5 L789.2,106.5 L789.5,103.6 L789.9,101.0 L790.2,98.6 L790.5,96.5 L790.9,94.7 L791.2,93.3 L791.5,92.2 L791.8,91.6 L792.2,91.3 L792.5,91.6 L792.8,92.1 L793.2,92.8 L793.5,93.6 L793.8,94.5 L794.1,95.5 L794.5,96.6 L794.8,97.7 L795.1,98.9 L795.5,100.1 L795.8,101.3 L796.1,102.6 L796.4,103.9 L796.8,105.2 L797.1,106.6 L797.4,107.9 L797.8,109.3 L798.1,110.7 L798.4,112.0 L798.7,113.4 L799.1,114.8 L799.4,116.1 L799.7,117.5 L800.1,118.8 L800.4,120.1 L800.7,121.4 L801.0,122.7 L801.4,124.0 L801.7,125.2 L802.0,126.5 L802.4,127.7 L802.7,128.8 L803.0,130.0 L803.3,131.1 L803.7,132.3 L804.0,133.3 L804.3,134.4 L804.7,135.4 L805.0,136.4 L805.3,137.4 L805.6,138.4 L806.0,139.3 L806.3,140.2 L806.6,141.1 L807.0,141.9 L807.3,142.7 L807.6,143.5 L807.9,144.3 L808.3,145.0 L808.6,145.8 L808.9,146.5 L809.3,147.1 L809.6,147.8 L809.9,148.4 L810.2,149.0 L810.6,149.6 L810.9,150.1 L811.2,150.7 L811.6,151.2 L811.9,151.7 L812.2,152.1 L812.5,152.6 L812.9,153.0 L813.2,153.5 L813.5,153.9 L813.9,154.3 L814.2,154.7 L814.5,155.2 L814.8,155.6 L815.2,156.0 L815.5,156.4 L815.8,156.8 L816.2,157.1 L816.5,157.5 L816.8,157.8 L817.1,158.2 L817.5,158.5 L817.8,158.7 L818.1,159.0 L818.5,159.3 L818.8,159.5 L819.1,159.7 L819.4,159.9 L819.8,160.1 L820.1,160.3 L820.4,160.4 L820.8,160.6 L821.1,160.7 L821.4,160.8 L821.7,161.0 L822.1,161.1 L822.4,161.1 L822.7,161.2 L823.1,161.3 L823.4,161.4 L823.7,161.4 L824.0,161.5 L824.4,161.5 L824.7,161.5 L825.0,161.6 L825.4,161.6 L825.7,161.6 L826.0,161.6 L826.3,161.6 L826.7,161.7 L827.0,161.7 Z" fill="#ff40c2" stroke="none" stroke-width="1" />
<path d="M781.0,160.6 L781.3,160.3 L781.7,159.9 L782.0,159.3 L782.3,158.6 L782.6,157.6 L783.0,156.3 L783.3,154.7 L783.6,152.7 L784.0,150.3 L784.3,148.4 L784.6,146.6 L784.9,144.6 L785.3,142.4 L785.6,140.0 L785.9,137.4 L786.3,134.6 L786.6,131.7 L786.9,128.7 L787.2,125.6 L787.6,122.4 L787.9,119.1 L788.2,115.9 L788.6,112.7 L788.9,109.5 L789.2,106.5 L789.5,103.6 L789.9,101.0 L790.2,98.6 L790.5,96.5 L790.9,94.7 L791.2,93.3 L791.5,92.2 L791.8,91.6 L792.2,91.3 L792.5,91.6 L792.8,92.1 L793.2,92.8 L793.5,93.6 L793.8,94.5 L794.1,95.5 L794.5,96.6 L794.8,97.7 L795.1,98.9 L795.5,100.1 L795.8,101.3 L796.1,102.6 L796.4,103.9 L796.8,105.2 L797.1,106.6 L797.4,107.9 L797.8,109.3 L798.1,110.7 L798.4,112.0 L798.7,113.4 L799.1,114.8 L799.4,116.1 L799.7,117.5 L800.1,118.8 L800.4,120.1 L800.7,121.4 L801.0,122.7 L801.4,124.0 L801.7,125.2 L802.0,126.5 L802.4,127.7 L802.7,128.8 L803.0,130.0 L803.3,131.1 L803.7,132.3 L804.0,133.3 L804.3,134.4 L804.7,135.4 L805.0,136.4 L805.3,137.4 L805.6,138.4 L806.0,139.3 L806.3,140.2 L806.6,141.1 L807.0,141.9 L807.3,142.7 L807.6,143.5 L807.9,144.3 L808.3,145.0 L808.6,145.8 L808.9,146.5 L809.3,147.1 L809.6,147.8 L809.9,148.4 L810.2,149.0 L810.6,149.6 L810.9,150.1 L811.2,150.7 L811.6,151.2 L811.9,151.7 L812.2,152.1 L812.5,152.6 L812.9,153.0 L813.2,153.5 L813.5,153.9 L813.9,154.3 L814.2,154.7 L814.5,155.2 L814.8,155.6 L815.2,156.0 L815.5,156.4 L815.8,156.8 L816.2,157.1 L816.5,157.5 L816.8,157.8 L817.1,158.2 L817.5,158.5 L817.8,158.7 L818.1,159.0 L818.5,159.3 L818.8,159.5 L819.1,159.7 L819.4,159.9 L819.8,160.1 L820.1,160.3 L820.4,160.4 L820.8,160.6 L821.1,160.7 L821.4,160.8 L821.7,161.0 L822.1,161.1 L822.4,161.1 L822.7,161.2 L823.1,161.3 L823.4,161.4 L823.7,161.4 L824.0,161.5 L824.4,161.5 L824.7,161.5 L825.0,161.6 L825.4,161.6 L825.7,161.6 L826.0,161.6 L826.3,161.6 L826.7,161.7 L827.0,161.7" fill="none" stroke="#000" stroke-width="2.5" stroke-linejoin="round" stroke-linecap="round"/>
<path d="M890.0,163.2 L890.4,162.9 L890.8,162.4 L891.1,161.7 L891.5,160.6 L891.9,159.0 L892.3,156.9 L892.7,154.0 L893.1,150.5 L893.4,147.7 L893.8,144.6 L894.2,141.0 L894.6,137.1 L895.0,132.9 L895.4,128.3 L895.7,123.6 L896.1,118.7 L896.5,113.8 L896.9,109.0 L897.3,104.5 L897.6,100.2 L898.0,96.4 L898.4,93.2 L898.8,90.6 L899.2,88.7 L899.6,87.6 L899.9,87.7 L900.3,89.5 L900.7,91.8 L901.1,94.3 L901.5,97.0 L901.8,99.4 L902.2,101.6 L902.6,103.3 L903.0,104.6 L903.4,105.4 L903.8,105.6 L904.1,105.3 L904.5,104.5 L904.9,103.2 L905.3,101.7 L905.7,100.0 L906.0,98.2 L906.4,96.6 L906.8,95.2 L907.2,94.3 L907.6,93.8 L908.0,94.0 L908.3,94.9 L908.7,96.4 L909.1,98.0 L909.5,99.6 L909.9,101.2 L910.3,102.8 L910.6,104.5 L911.0,106.1 L911.4,107.7 L911.8,109.3 L912.2,110.9 L912.5,112.4 L912.9,114.0 L913.3,115.6 L913.7,117.1 L914.1,118.6 L914.5,120.1 L914.8,121.6 L915.2,123.0 L915.6,124.5 L916.0,125.9 L916.4,127.3 L916.8,128.7 L917.1,130.0 L917.5,131.3 L917.9,132.6 L918.3,133.9 L918.7,135.1 L919.0,136.3 L919.4,137.5 L919.8,138.6 L920.2,139.7 L920.6,140.8 L921.0,141.9 L921.3,142.9 L921.7,143.9 L922.1,144.8 L922.5,145.7 L922.9,146.6 L923.2,147.5 L923.6,148.3 L924.0,149.1 L924.4,149.8 L924.8,150.6 L925.2,151.3 L925.5,151.9 L925.9,152.6 L926.3,153.2 L926.7,153.8 L927.1,154.4 L927.5,154.9 L927.8,155.4 L928.2,155.9 L928.6,156.4 L929.0,156.8 L929.4,157.3 L929.7,157.7 L930.1,158.1 L930.5,158.5 L930.9,158.9 L931.3,159.3 L931.7,159.7 L932.0,160.1 L932.4,160.5 L932.8,160.8 L933.2,161.1 L933.6,161.5 L933.9,161.8 L934.3,162.0 L934.7,162.3 L935.1,162.5 L935.5,162.7 L935.9,162.9 L936.2,163.1 L936.6,163.3 L937.0,163.4 L937.4,163.6 L937.8,163.7 L938.1,163.8 L938.5,163.9 L938.9,164.0 L939.3,164.1 L939.7,164.1 L940.1,164.2 L940.4,164.2 L940.8,164.3 L941.2,164.3 L941.6,164.4 L942.0,164.4 L942.4,164.4 L942.7,164.4 L943.1,164.4 L943.5,164.4 Z" fill="#ff40c2" stroke="none" stroke-width="1" />
<path d="M890.0,163.2 L890.4,162.9 L890.8,162.4 L891.1,161.7 L891.5,160.6 L891.9,159.0 L892.3,156.9 L892.7,154.0 L893.1,150.5 L893.4,147.7 L893.8,144.6 L894.2,141.0 L894.6,137.1 L895.0,132.9 L895.4,128.3 L895.7,123.6 L896.1,118.7 L896.5,113.8 L896.9,109.0 L897.3,104.5 L897.6,100.2 L898.0,96.4 L898.4,93.2 L898.8,90.6 L899.2,88.7 L899.6,87.6 L899.9,87.7 L900.3,89.5 L900.7,91.8 L901.1,94.3 L901.5,97.0 L901.8,99.4 L902.2,101.6 L902.6,103.3 L903.0,104.6 L903.4,105.4 L903.8,105.6 L904.1,105.3 L904.5,104.5 L904.9,103.2 L905.3,101.7 L905.7,100.0 L906.0,98.2 L906.4,96.6 L906.8,95.2 L907.2,94.3 L907.6,93.8 L908.0,94.0 L908.3,94.9 L908.7,96.4 L909.1,98.0 L909.5,99.6 L909.9,101.2 L910.3,102.8 L910.6,104.5 L911.0,106.1 L911.4,107.7 L911.8,109.3 L912.2,110.9 L912.5,112.4 L912.9,114.0 L913.3,115.6 L913.7,117.1 L914.1,118.6 L914.5,120.1 L914.8,121.6 L915.2,123.0 L915.6,124.5 L916.0,125.9 L916.4,127.3 L916.8,128.7 L917.1,130.0 L917.5,131.3 L917.9,132.6 L918.3,133.9 L918.7,135.1 L919.0,136.3 L919.4,137.5 L919.8,138.6 L920.2,139.7 L920.6,140.8 L921.0,141.9 L921.3,142.9 L921.7,143.9 L922.1,144.8 L922.5,145.7 L922.9,146.6 L923.2,147.5 L923.6,148.3 L924.0,149.1 L924.4,149.8 L924.8,150.6 L925.2,151.3 L925.5,151.9 L925.9,152.6 L926.3,153.2 L926.7,153.8 L927.1,154.4 L927.5,154.9 L927.8,155.4 L928.2,155.9 L928.6,156.4 L929.0,156.8 L929.4,157.3 L929.7,157.7 L930.1,158.1 L930.5,158.5 L930.9,158.9 L931.3,159.3 L931.7,159.7 L932.0,160.1 L932.4,160.5 L932.8,160.8 L933.2,161.1 L933.6,161.5 L933.9,161.8 L934.3,162.0 L934.7,162.3 L935.1,162.5 L935.5,162.7 L935.9,162.9 L936.2,163.1 L936.6,163.3 L937.0,163.4 L937.4,163.6 L937.8,163.7 L938.1,163.8 L938.5,163.9 L938.9,164.0 L939.3,164.1 L939.7,164.1 L940.1,164.2 L940.4,164.2 L940.8,164.3 L941.2,164.3 L941.6,164.4 L942.0,164.4 L942.4,164.4 L942.7,164.4 L943.1,164.4 L943.5,164.4" fill="none" stroke="#000" stroke-width="2.5" stroke-linejoin="round" stroke-linecap="round"/>
<path d="M998.0,165.7 L998.4,165.7 L998.7,165.5 L999.1,165.3 L999.5,165.0 L999.8,164.4 L1000.2,163.7 L1000.5,162.6 L1000.9,161.1 L1001.3,159.7 L1001.6,158.2 L1002.0,156.4 L1002.4,154.3 L1002.7,151.8 L1003.1,149.0 L1003.5,145.8 L1003.8,142.3 L1004.2,138.5 L1004.6,134.3 L1004.9,130.0 L1005.3,125.4 L1005.6,120.8 L1006.0,116.1 L1006.4,111.6 L1006.7,107.2 L1007.1,103.2 L1007.5,99.5 L1007.8,96.4 L1008.2,93.9 L1008.6,92.1 L1008.9,90.9 L1009.3,90.6 L1009.7,91.9 L1010.0,93.9 L1010.4,96.3 L1010.8,98.9 L1011.1,101.5 L1011.5,104.0 L1011.8,106.3 L1012.2,108.3 L1012.6,110.0 L1012.9,111.2 L1013.3,112.0 L1013.7,112.3 L1014.0,112.1 L1014.4,111.5 L1014.8,110.4 L1015.1,109.0 L1015.5,107.3 L1015.9,105.4 L1016.2,103.6 L1016.6,101.8 L1016.9,100.2 L1017.3,98.9 L1017.7,98.1 L1018.0,97.9 L1018.4,98.3 L1018.8,99.3 L1019.1,100.7 L1019.5,102.2 L1019.9,103.7 L1020.2,105.3 L1020.6,106.8 L1021.0,108.4 L1021.3,110.0 L1021.7,111.6 L1022.0,113.2 L1022.4,114.7 L1022.8,116.3 L1023.1,117.8 L1023.5,119.4 L1023.9,120.9 L1024.2,122.4 L1024.6,123.9 L1025.0,125.3 L1025.3,126.8 L1025.7,128.2 L1026.0,129.6 L1026.4,130.9 L1026.8,132.3 L1027.1,133.6 L1027.5,134.9 L1027.9,136.1 L1028.2,137.4 L1028.6,138.6 L1029.0,139.7 L1029.3,140.9 L1029.7,142.0 L1030.1,143.0 L1030.4,144.1 L1030.8,145.1 L1031.2,146.1 L1031.5,147.0 L1031.9,147.9 L1032.2,148.8 L1032.6,149.7 L1033.0,150.5 L1033.3,151.3 L1033.7,152.1 L1034.1,152.8 L1034.4,153.5 L1034.8,154.2 L1035.2,154.9 L1035.5,155.5 L1035.9,156.2 L1036.2,156.9 L1036.6,157.5 L1037.0,158.2 L1037.3,158.9 L1037.7,159.5 L1038.1,160.1 L1038.4,160.7 L1038.8,161.2 L1039.2,161.7 L1039.5,162.2 L1039.9,162.7 L1040.3,163.1 L1040.6,163.6 L1041.0,163.9 L1041.3,164.3 L1041.7,164.6 L1042.1,164.9 L1042.4,165.2 L1042.8,165.4 L1043.2,165.6 L1043.5,165.8 L1043.9,166.0 L1044.3,166.1 L1044.6,166.3 L1045.0,166.4 L1045.4,166.5 L1045.7,166.6 L1046.1,166.7 L1046.5,166.7 L1046.8,166.8 L1047.2,166.8 L1047.5,166.9 L1047.9,166.9 L1048.3,166.9 L1048.6,166.9 L1049.0,166.9 Z" fill="#ff40c2" stroke="none" stroke-width="1" />
<path d="M998.0,165.7 L998.4,165.7 L998.7,165.5 L999.1,165.3 L999.5,165.0 L999.8,164.4 L1000.2,163.7 L1000.5,162.6 L1000.9,161.1 L1001.3,159.7 L1001.6,158.2 L1002.0,156.4 L1002.4,154.3 L1002.7,151.8 L1003.1,149.0 L1003.5,145.8 L1003.8,142.3 L1004.2,138.5 L1004.6,134.3 L1004.9,130.0 L1005.3,125.4 L1005.6,120.8 L1006.0,116.1 L1006.4,111.6 L1006.7,107.2 L1007.1,103.2 L1007.5,99.5 L1007.8,96.4 L1008.2,93.9 L1008.6,92.1 L1008.9,90.9 L1009.3,90.6 L1009.7,91.9 L1010.0,93.9 L1010.4,96.3 L1010.8,98.9 L1011.1,101.5 L1011.5,104.0 L1011.8,106.3 L1012.2,108.3 L1012.6,110.0 L1012.9,111.2 L1013.3,112.0 L1013.7,112.3 L1014.0,112.1 L1014.4,111.5 L1014.8,110.4 L1015.1,109.0 L1015.5,107.3 L1015.9,105.4 L1016.2,103.6 L1016.6,101.8 L1016.9,100.2 L1017.3,98.9 L1017.7,98.1 L1018.0,97.9 L1018.4,98.3 L1018.8,99.3 L1019.1,100.7 L1019.5,102.2 L1019.9,103.7 L1020.2,105.3 L1020.6,106.8 L1021.0,108.4 L1021.3,110.0 L1021.7,111.6 L1022.0,113.2 L1022.4,114.7 L1022.8,116.3 L1023.1,117.8 L1023.5,119.4 L1023.9,120.9 L1024.2,122.4 L1024.6,123.9 L1025.0,125.3 L1025.3,126.8 L1025.7,128.2 L1026.0,129.6 L1026.4,130.9 L1026.8,132.3 L1027.1,133.6 L1027.5,134.9 L1027.9,136.1 L1028.2,137.4 L1028.6,138.6 L1029.0,139.7 L1029.3,140.9 L1029.7,142.0 L1030.1,143.0 L1030.4,144.1 L1030.8,145.1 L1031.2,146.1 L1031.5,147.0 L1031.9,147.9 L1032.2,148.8 L1032.6,149.7 L1033.0,150.5 L1033.3,151.3 L1033.7,152.1 L1034.1,152.8 L1034.4,153.5 L1034.8,154.2 L1035.2,154.9 L1035.5,155.5 L1035.9,156.2 L1036.2,156.9 L1036.6,157.5 L1037.0,158.2 L1037.3,158.9 L1037.7,159.5 L1038.1,160.1 L1038.4,160.7 L1038.8,161.2 L1039.2,161.7 L1039.5,162.2 L1039.9,162.7 L1040.3,163.1 L1040.6,163.6 L1041.0,163.9 L1041.3,164.3 L1041.7,164.6 L1042.1,164.9 L1042.4,165.2 L1042.8,165.4 L1043.2,165.6 L1043.5,165.8 L1043.9,166.0 L1044.3,166.1 L1044.6,166.3 L1045.0,166.4 L1045.4,166.5 L1045.7,166.6 L1046.1,166.7 L1046.5,166.7 L1046.8,166.8 L1047.2,166.8 L1047.5,166.9 L1047.9,166.9 L1048.3,166.9 L1048.6,166.9 L1049.0,166.9" fill="none" stroke="#000" stroke-width="2.5" stroke-linejoin="round" stroke-linecap="round"/>
<path d="M536.5,172.2 L536.8,172.1 L537.1,171.9 L537.4,171.7 L537.7,171.4 L537.9,170.9 L538.2,170.3 L538.5,169.5 L538.8,168.5 L539.1,167.3 L539.4,165.7 L539.7,164.2 L540.0,162.8 L540.3,161.2 L540.5,159.5 L540.8,157.6 L541.1,155.6 L541.4,153.3 L541.7,150.9 L542.0,148.4 L542.3,145.7 L542.6,143.0 L542.9,140.2 L543.2,137.3 L543.4,134.4 L543.7,131.6 L544.0,128.8 L544.3,126.2 L544.6,123.8 L544.9,121.5 L545.2,119.5 L545.5,117.8 L545.8,116.4 L546.0,115.4 L546.3,114.7 L546.6,114.5 L546.9,114.6 L547.2,115.0 L547.5,115.4 L547.8,116.0 L548.1,116.7 L548.4,117.4 L548.6,118.2 L548.9,119.0 L549.2,119.9 L549.5,120.7 L549.8,121.7 L550.1,122.6 L550.4,123.6 L550.7,124.6 L551.0,125.6 L551.3,126.6 L551.5,127.7 L551.8,128.7 L552.1,129.8 L552.4,130.8 L552.7,131.9 L553.0,132.9 L553.3,134.0 L553.6,135.0 L553.9,136.0 L554.1,137.0 L554.4,138.1 L554.7,139.1 L555.0,140.1 L555.3,141.0 L555.6,142.0 L555.9,143.0 L556.2,143.9 L556.5,144.8 L556.8,145.7 L557.0,146.6 L557.3,147.5 L557.6,148.4 L557.9,149.2 L558.2,150.0 L558.5,150.8 L558.8,151.6 L559.1,152.4 L559.4,153.1 L559.6,153.8 L559.9,154.5 L560.2,155.2 L560.5,155.9 L560.8,156.6 L561.1,157.2 L561.4,157.8 L561.7,158.4 L562.0,159.0 L562.2,159.5 L562.5,160.1 L562.8,160.6 L563.1,161.1 L563.4,161.6 L563.7,162.2 L564.0,162.7 L564.3,163.2 L564.6,163.8 L564.9,164.3 L565.1,164.8 L565.4,165.3 L565.7,165.8 L566.0,166.3 L566.3,166.7 L566.6,167.2 L566.9,167.6 L567.2,168.0 L567.5,168.4 L567.7,168.8 L568.0,169.1 L568.3,169.5 L568.6,169.8 L568.9,170.1 L569.2,170.4 L569.5,170.6 L569.8,170.9 L570.1,171.1 L570.3,171.3 L570.6,171.5 L570.9,171.7 L571.2,171.9 L571.5,172.0 L571.8,172.2 L572.1,172.3 L572.4,172.4 L572.7,172.5 L573.0,172.6 L573.2,172.7 L573.5,172.8 L573.8,172.8 L574.1,172.9 L574.4,172.9 L574.7,173.0 L575.0,173.0 L575.3,173.1 L575.6,173.1 L575.8,173.1 L576.1,173.1 L576.4,173.1 L576.7,173.2 L577.0,173.2 Z" fill="#ff8080" stroke="none" stroke-width="1" />
<path d="M536.5,172.2 L536.8,172.1 L537.1,171.9 L537.4,171.7 L537.7,171.4 L537.9,170.9 L538.2,170.3 L538.5,169.5 L538.8,168.5 L539.1,167.3 L539.4,165.7 L539.7,164.2 L540.0,162.8 L540.3,161.2 L540.5,159.5 L540.8,157.6 L541.1,155.6 L541.4,153.3 L541.7,150.9 L542.0,148.4 L542.3,145.7 L542.6,143.0 L542.9,140.2 L543.2,137.3 L543.4,134.4 L543.7,131.6 L544.0,128.8 L544.3,126.2 L544.6,123.8 L544.9,121.5 L545.2,119.5 L545.5,117.8 L545.8,116.4 L546.0,115.4 L546.3,114.7 L546.6,114.5 L546.9,114.6 L547.2,115.0 L547.5,115.4 L547.8,116.0 L548.1,116.7 L548.4,117.4 L548.6,118.2 L548.9,119.0 L549.2,119.9 L549.5,120.7 L549.8,121.7 L550.1,122.6 L550.4,123.6 L550.7,124.6 L551.0,125.6 L551.3,126.6 L551.5,127.7 L551.8,128.7 L552.1,129.8 L552.4,130.8 L552.7,131.9 L553.0,132.9 L553.3,134.0 L553.6,135.0 L553.9,136.0 L554.1,137.0 L554.4,138.1 L554.7,139.1 L555.0,140.1 L555.3,141.0 L555.6,142.0 L555.9,143.0 L556.2,143.9 L556.5,144.8 L556.8,145.7 L557.0,146.6 L557.3,147.5 L557.6,148.4 L557.9,149.2 L558.2,150.0 L558.5,150.8 L558.8,151.6 L559.1,152.4 L559.4,153.1 L559.6,153.8 L559.9,154.5 L560.2,155.2 L560.5,155.9 L560.8,156.6 L561.1,157.2 L561.4,157.8 L561.7,158.4 L562.0,159.0 L562.2,159.5 L562.5,160.1 L562.8,160.6 L563.1,161.1 L563.4,161.6 L563.7,162.2 L564.0,162.7 L564.3,163.2 L564.6,163.8 L564.9,164.3 L565.1,164.8 L565.4,165.3 L565.7,165.8 L566.0,166.3 L566.3,166.7 L566.6,167.2 L566.9,167.6 L567.2,168.0 L567.5,168.4 L567.7,168.8 L568.0,169.1 L568.3,169.5 L568.6,169.8 L568.9,170.1 L569.2,170.4 L569.5,170.6 L569.8,170.9 L570.1,171.1 L570.3,171.3 L570.6,171.5 L570.9,171.7 L571.2,171.9 L571.5,172.0 L571.8,172.2 L572.1,172.3 L572.4,172.4 L572.7,172.5 L573.0,172.6 L573.2,172.7 L573.5,172.8 L573.8,172.8 L574.1,172.9 L574.4,172.9 L574.7,173.0 L575.0,173.0 L575.3,173.1 L575.6,173.1 L575.8,173.1 L576.1,173.1 L576.4,173.1 L576.7,173.2 L577.0,173.2" fill="none" stroke="#000" stroke-width="2.5" stroke-linejoin="round" stroke-linecap="round"/>
<path d="M646.0,174.8 L646.3,174.6 L646.7,174.3 L647.0,173.8 L647.4,173.1 L647.7,172.2 L648.1,171.0 L648.4,169.4 L648.7,167.3 L649.1,164.9 L649.4,163.0 L649.8,160.8 L650.1,158.4 L650.5,155.7 L650.8,152.7 L651.1,149.4 L651.5,145.9 L651.8,142.2 L652.2,138.3 L652.5,134.2 L652.9,130.0 L653.2,125.8 L653.5,121.6 L653.9,117.4 L654.2,113.5 L654.6,109.8 L654.9,106.3 L655.3,103.3 L655.6,100.7 L655.9,98.6 L656.3,97.1 L656.6,96.1 L657.0,95.8 L657.3,96.1 L657.7,96.8 L658.0,97.7 L658.3,98.7 L658.7,99.9 L659.0,101.1 L659.4,102.5 L659.7,103.9 L660.1,105.4 L660.4,107.0 L660.7,108.5 L661.1,110.2 L661.4,111.8 L661.8,113.5 L662.1,115.2 L662.5,116.8 L662.8,118.5 L663.1,120.2 L663.5,121.9 L663.8,123.6 L664.2,125.3 L664.5,126.9 L664.9,128.6 L665.2,130.2 L665.5,131.8 L665.9,133.3 L666.2,134.9 L666.6,136.4 L666.9,137.9 L667.3,139.3 L667.6,140.8 L667.9,142.1 L668.3,143.5 L668.6,144.8 L669.0,146.1 L669.3,147.3 L669.7,148.5 L670.0,149.7 L670.3,150.8 L670.7,151.9 L671.0,153.0 L671.4,154.0 L671.7,155.0 L672.1,156.0 L672.4,156.9 L672.7,157.8 L673.1,158.7 L673.4,159.5 L673.8,160.3 L674.1,161.0 L674.5,161.8 L674.8,162.5 L675.1,163.1 L675.5,163.8 L675.8,164.4 L676.2,165.0 L676.5,165.6 L676.9,166.1 L677.2,166.6 L677.5,167.1 L677.9,167.6 L678.2,168.0 L678.6,168.5 L678.9,168.9 L679.3,169.3 L679.6,169.6 L679.9,170.0 L680.3,170.3 L680.6,170.7 L681.0,171.0 L681.3,171.3 L681.7,171.6 L682.0,172.0 L682.3,172.3 L682.7,172.6 L683.0,172.8 L683.4,173.1 L683.7,173.3 L684.1,173.6 L684.4,173.8 L684.7,174.0 L685.1,174.2 L685.4,174.4 L685.8,174.5 L686.1,174.7 L686.5,174.8 L686.8,175.0 L687.1,175.1 L687.5,175.2 L687.8,175.3 L688.2,175.4 L688.5,175.4 L688.9,175.5 L689.2,175.6 L689.5,175.6 L689.9,175.7 L690.2,175.7 L690.6,175.8 L690.9,175.8 L691.3,175.8 L691.6,175.8 L691.9,175.9 L692.3,175.9 L692.6,175.9 L693.0,175.9 L693.3,175.9 L693.7,175.9 L694.0,176.0 Z" fill="#ff8080" stroke="none" stroke-width="1" />
<path d="M646.0,174.8 L646.3,174.6 L646.7,174.3 L647.0,173.8 L647.4,173.1 L647.7,172.2 L648.1,171.0 L648.4,169.4 L648.7,167.3 L649.1,164.9 L649.4,163.0 L649.8,160.8 L650.1,158.4 L650.5,155.7 L650.8,152.7 L651.1,149.4 L651.5,145.9 L651.8,142.2 L652.2,138.3 L652.5,134.2 L652.9,130.0 L653.2,125.8 L653.5,121.6 L653.9,117.4 L654.2,113.5 L654.6,109.8 L654.9,106.3 L655.3,103.3 L655.6,100.7 L655.9,98.6 L656.3,97.1 L656.6,96.1 L657.0,95.8 L657.3,96.1 L657.7,96.8 L658.0,97.7 L658.3,98.7 L658.7,99.9 L659.0,101.1 L659.4,102.5 L659.7,103.9 L660.1,105.4 L660.4,107.0 L660.7,108.5 L661.1,110.2 L661.4,111.8 L661.8,113.5 L662.1,115.2 L662.5,116.8 L662.8,118.5 L663.1,120.2 L663.5,121.9 L663.8,123.6 L664.2,125.3 L664.5,126.9 L664.9,128.6 L665.2,130.2 L665.5,131.8 L665.9,133.3 L666.2,134.9 L666.6,136.4 L666.9,137.9 L667.3,139.3 L667.6,140.8 L667.9,142.1 L668.3,143.5 L668.6,144.8 L669.0,146.1 L669.3,147.3 L669.7,148.5 L670.0,149.7 L670.3,150.8 L670.7,151.9 L671.0,153.0 L671.4,154.0 L671.7,155.0 L672.1,156.0 L672.4,156.9 L672.7,157.8 L673.1,158.7 L673.4,159.5 L673.8,160.3 L674.1,161.0 L674.5,161.8 L674.8,162.5 L675.1,163.1 L675.5,163.8 L675.8,164.4 L676.2,165.0 L676.5,165.6 L676.9,166.1 L677.2,166.6 L677.5,167.1 L677.9,167.6 L678.2,168.0 L678.6,168.5 L678.9,168.9 L679.3,169.3 L679.6,169.6 L679.9,170.0 L680.3,170.3 L680.6,170.7 L681.0,171.0 L681.3,171.3 L681.7,171.6 L682.0,172.0 L682.3,172.3 L682.7,172.6 L683.0,172.8 L683.4,173.1 L683.7,173.3 L684.1,173.6 L684.4,173.8 L684.7,174.0 L685.1,174.2 L685.4,174.4 L685.8,174.5 L686.1,174.7 L686.5,174.8 L686.8,175.0 L687.1,175.1 L687.5,175.2 L687.8,175.3 L688.2,175.4 L688.5,175.4 L688.9,175.5 L689.2,175.6 L689.5,175.6 L689.9,175.7 L690.2,175.7 L690.6,175.8 L690.9,175.8 L691.3,175.8 L691.6,175.8 L691.9,175.9 L692.3,175.9 L692.6,175.9 L693.0,175.9 L693.3,175.9 L693.7,175.9 L694.0,176.0" fill="none" stroke="#000" stroke-width="2.5" stroke-linejoin="round" stroke-linecap="round"/>
<path d="M755.5,177.4 L755.8,177.1 L756.2,176.6 L756.5,175.9 L756.8,175.0 L757.2,173.6 L757.5,171.8 L757.8,169.5 L758.2,166.5 L758.5,162.7 L758.8,159.9 L759.2,156.9 L759.5,153.5 L759.8,149.8 L760.1,145.9 L760.5,141.7 L760.8,137.3 L761.1,132.8 L761.5,128.2 L761.8,123.6 L762.1,119.0 L762.5,114.6 L762.8,110.5 L763.1,106.7 L763.5,103.3 L763.8,100.4 L764.1,98.0 L764.5,96.2 L764.8,94.9 L765.1,94.4 L765.5,94.9 L765.8,95.7 L766.1,96.7 L766.5,97.7 L766.8,98.7 L767.1,99.7 L767.5,100.6 L767.8,101.4 L768.1,102.1 L768.5,102.7 L768.8,103.2 L769.1,103.7 L769.5,104.2 L769.8,104.9 L770.1,105.6 L770.4,106.6 L770.8,107.9 L771.1,109.4 L771.4,111.4 L771.8,113.6 L772.1,115.9 L772.4,118.3 L772.8,120.6 L773.1,122.8 L773.4,125.0 L773.8,127.1 L774.1,129.1 L774.4,131.1 L774.8,133.0 L775.1,134.9 L775.4,136.6 L775.8,138.3 L776.1,140.0 L776.4,141.5 L776.8,143.0 L777.1,144.5 L777.4,145.9 L777.8,147.2 L778.1,148.5 L778.4,149.7 L778.8,150.9 L779.1,152.0 L779.4,153.1 L779.7,154.1 L780.1,155.1 L780.4,156.0 L780.7,156.9 L781.1,157.8 L781.4,158.7 L781.7,159.5 L782.1,160.2 L782.4,161.0 L782.7,161.7 L783.1,162.4 L783.4,163.0 L783.7,163.7 L784.1,164.3 L784.4,164.9 L784.7,165.4 L785.1,166.0 L785.4,166.5 L785.7,167.0 L786.1,167.5 L786.4,168.0 L786.7,168.4 L787.1,168.8 L787.4,169.3 L787.7,169.7 L788.0,170.0 L788.4,170.4 L788.7,170.8 L789.0,171.2 L789.4,171.6 L789.7,172.0 L790.0,172.4 L790.4,172.8 L790.7,173.2 L791.0,173.5 L791.4,173.9 L791.7,174.3 L792.0,174.6 L792.4,174.9 L792.7,175.2 L793.0,175.5 L793.4,175.8 L793.7,176.0 L794.0,176.3 L794.4,176.5 L794.7,176.7 L795.0,176.9 L795.4,177.1 L795.7,177.2 L796.0,177.4 L796.4,177.5 L796.7,177.7 L797.0,177.8 L797.4,177.9 L797.7,178.0 L798.0,178.1 L798.3,178.1 L798.7,178.2 L799.0,178.3 L799.3,178.3 L799.7,178.4 L800.0,178.4 L800.3,178.4 L800.7,178.5 L801.0,178.5 L801.3,178.5 L801.7,178.5 L802.0,178.5 Z" fill="#ff8080" stroke="none" stroke-width="1" />
<path d="M755.5,177.4 L755.8,177.1 L756.2,176.6 L756.5,175.9 L756.8,175.0 L757.2,173.6 L757.5,171.8 L757.8,169.5 L758.2,166.5 L758.5,162.7 L758.8,159.9 L759.2,156.9 L759.5,153.5 L759.8,149.8 L760.1,145.9 L760.5,141.7 L760.8,137.3 L761.1,132.8 L761.5,128.2 L761.8,123.6 L762.1,119.0 L762.5,114.6 L762.8,110.5 L763.1,106.7 L763.5,103.3 L763.8,100.4 L764.1,98.0 L764.5,96.2 L764.8,94.9 L765.1,94.4 L765.5,94.9 L765.8,95.7 L766.1,96.7 L766.5,97.7 L766.8,98.7 L767.1,99.7 L767.5,100.6 L767.8,101.4 L768.1,102.1 L768.5,102.7 L768.8,103.2 L769.1,103.7 L769.5,104.2 L769.8,104.9 L770.1,105.6 L770.4,106.6 L770.8,107.9 L771.1,109.4 L771.4,111.4 L771.8,113.6 L772.1,115.9 L772.4,118.3 L772.8,120.6 L773.1,122.8 L773.4,125.0 L773.8,127.1 L774.1,129.1 L774.4,131.1 L774.8,133.0 L775.1,134.9 L775.4,136.6 L775.8,138.3 L776.1,140.0 L776.4,141.5 L776.8,143.0 L777.1,144.5 L777.4,145.9 L777.8,147.2 L778.1,148.5 L778.4,149.7 L778.8,150.9 L779.1,152.0 L779.4,153.1 L779.7,154.1 L780.1,155.1 L780.4,156.0 L780.7,156.9 L781.1,157.8 L781.4,158.7 L781.7,159.5 L782.1,160.2 L782.4,161.0 L782.7,161.7 L783.1,162.4 L783.4,163.0 L783.7,163.7 L784.1,164.3 L784.4,164.9 L784.7,165.4 L785.1,166.0 L785.4,166.5 L785.7,167.0 L786.1,167.5 L786.4,168.0 L786.7,168.4 L787.1,168.8 L787.4,169.3 L787.7,169.7 L788.0,170.0 L788.4,170.4 L788.7,170.8 L789.0,171.2 L789.4,171.6 L789.7,172.0 L790.0,172.4 L790.4,172.8 L790.7,173.2 L791.0,173.5 L791.4,173.9 L791.7,174.3 L792.0,174.6 L792.4,174.9 L792.7,175.2 L793.0,175.5 L793.4,175.8 L793.7,176.0 L794.0,176.3 L794.4,176.5 L794.7,176.7 L795.0,176.9 L795.4,177.1 L795.7,177.2 L796.0,177.4 L796.4,177.5 L796.7,177.7 L797.0,177.8 L797.4,177.9 L797.7,178.0 L798.0,178.1 L798.3,178.1 L798.7,178.2 L799.0,178.3 L799.3,178.3 L799.7,178.4 L800.0,178.4 L800.3,178.4 L800.7,178.5 L801.0,178.5 L801.3,178.5 L801.7,178.5 L802.0,178.5" fill="none" stroke="#000" stroke-width="2.5" stroke-linejoin="round" stroke-linecap="round"/>
<path d="M863.0,180.0 L863.4,179.8 L863.8,179.5 L864.1,179.0 L864.5,178.3 L864.9,177.3 L865.2,175.8 L865.6,173.8 L866.0,171.1 L866.4,168.9 L866.8,166.4 L867.1,163.5 L867.5,160.2 L867.9,156.5 L868.2,152.4 L868.6,148.0 L869.0,143.2 L869.4,138.3 L869.8,133.2 L870.1,128.0 L870.5,122.9 L870.9,118.1 L871.2,113.5 L871.6,109.4 L872.0,105.9 L872.4,103.1 L872.8,101.0 L873.1,99.7 L873.5,99.5 L873.9,101.8 L874.2,105.4 L874.6,109.5 L875.0,113.9 L875.4,118.4 L875.8,122.7 L876.1,126.6 L876.5,130.2 L876.9,133.3 L877.2,135.8 L877.6,137.6 L878.0,138.9 L878.4,139.5 L878.8,139.6 L879.1,139.1 L879.5,138.1 L879.9,136.7 L880.2,135.0 L880.6,133.0 L881.0,130.9 L881.4,128.8 L881.8,126.7 L882.1,124.8 L882.5,123.2 L882.9,122.0 L883.2,121.2 L883.6,120.8 L884.0,121.1 L884.4,121.8 L884.8,122.6 L885.1,123.6 L885.5,124.7 L885.9,125.8 L886.2,127.0 L886.6,128.2 L887.0,129.4 L887.4,130.7 L887.8,132.1 L888.1,133.4 L888.5,134.8 L888.9,136.1 L889.2,137.5 L889.6,138.9 L890.0,140.2 L890.4,141.6 L890.8,142.9 L891.1,144.3 L891.5,145.6 L891.9,146.9 L892.2,148.2 L892.6,149.5 L893.0,150.7 L893.4,151.9 L893.8,153.1 L894.1,154.3 L894.5,155.4 L894.9,156.5 L895.2,157.6 L895.6,158.7 L896.0,159.7 L896.4,160.7 L896.8,161.6 L897.1,162.6 L897.5,163.4 L897.9,164.3 L898.2,165.1 L898.6,165.9 L899.0,166.7 L899.4,167.4 L899.8,168.1 L900.1,168.8 L900.5,169.5 L900.9,170.1 L901.2,170.7 L901.6,171.3 L902.0,171.8 L902.4,172.4 L902.8,173.0 L903.1,173.6 L903.5,174.1 L903.9,174.7 L904.2,175.2 L904.6,175.7 L905.0,176.2 L905.4,176.7 L905.8,177.1 L906.1,177.5 L906.5,177.9 L906.9,178.3 L907.2,178.6 L907.6,178.9 L908.0,179.2 L908.4,179.4 L908.8,179.7 L909.1,179.9 L909.5,180.1 L909.9,180.2 L910.2,180.4 L910.6,180.5 L911.0,180.6 L911.4,180.7 L911.8,180.8 L912.1,180.9 L912.5,181.0 L912.9,181.0 L913.2,181.1 L913.6,181.1 L914.0,181.2 L914.4,181.2 L914.8,181.2 L915.1,181.2 L915.5,181.2 Z" fill="#ff8080" stroke="none" stroke-width="1" />
<path d="M863.0,180.0 L863.4,179.8 L863.8,179.5 L864.1,179.0 L864.5,178.3 L864.9,177.3 L865.2,175.8 L865.6,173.8 L866.0,171.1 L866.4,168.9 L866.8,166.4 L867.1,163.5 L867.5,160.2 L867.9,156.5 L868.2,152.4 L868.6,148.0 L869.0,143.2 L869.4,138.3 L869.8,133.2 L870.1,128.0 L870.5,122.9 L870.9,118.1 L871.2,113.5 L871.6,109.4 L872.0,105.9 L872.4,103.1 L872.8,101.0 L873.1,99.7 L873.5,99.5 L873.9,101.8 L874.2,105.4 L874.6,109.5 L875.0,113.9 L875.4,118.4 L875.8,122.7 L876.1,126.6 L876.5,130.2 L876.9,133.3 L877.2,135.8 L877.6,137.6 L878.0,138.9 L878.4,139.5 L878.8,139.6 L879.1,139.1 L879.5,138.1 L879.9,136.7 L880.2,135.0 L880.6,133.0 L881.0,130.9 L881.4,128.8 L881.8,126.7 L882.1,124.8 L882.5,123.2 L882.9,122.0 L883.2,121.2 L883.6,120.8 L884.0,121.1 L884.4,121.8 L884.8,122.6 L885.1,123.6 L885.5,124.7 L885.9,125.8 L886.2,127.0 L886.6,128.2 L887.0,129.4 L887.4,130.7 L887.8,132.1 L888.1,133.4 L888.5,134.8 L888.9,136.1 L889.2,137.5 L889.6,138.9 L890.0,140.2 L890.4,141.6 L890.8,142.9 L891.1,144.3 L891.5,145.6 L891.9,146.9 L892.2,148.2 L892.6,149.5 L893.0,150.7 L893.4,151.9 L893.8,153.1 L894.1,154.3 L894.5,155.4 L894.9,156.5 L895.2,157.6 L895.6,158.7 L896.0,159.7 L896.4,160.7 L896.8,161.6 L897.1,162.6 L897.5,163.4 L897.9,164.3 L898.2,165.1 L898.6,165.9 L899.0,166.7 L899.4,167.4 L899.8,168.1 L900.1,168.8 L900.5,169.5 L900.9,170.1 L901.2,170.7 L901.6,171.3 L902.0,171.8 L902.4,172.4 L902.8,173.0 L903.1,173.6 L903.5,174.1 L903.9,174.7 L904.2,175.2 L904.6,175.7 L905.0,176.2 L905.4,176.7 L905.8,177.1 L906.1,177.5 L906.5,177.9 L906.9,178.3 L907.2,178.6 L907.6,178.9 L908.0,179.2 L908.4,179.4 L908.8,179.7 L909.1,179.9 L909.5,180.1 L909.9,180.2 L910.2,180.4 L910.6,180.5 L911.0,180.6 L911.4,180.7 L911.8,180.8 L912.1,180.9 L912.5,181.0 L912.9,181.0 L913.2,181.1 L913.6,181.1 L914.0,181.2 L914.4,181.2 L914.8,181.2 L915.1,181.2 L915.5,181.2" fill="none" stroke="#000" stroke-width="2.5" stroke-linejoin="round" stroke-linecap="round"/>
<path d="M510.0,189.0 L510.3,188.8 L510.6,188.5 L511.0,188.0 L511.3,187.2 L511.6,186.2 L511.9,184.9 L512.2,183.1 L512.6,180.8 L512.9,177.8 L513.2,175.2 L513.5,172.6 L513.9,169.7 L514.2,166.4 L514.5,162.9 L514.8,159.0 L515.1,154.9 L515.5,150.5 L515.8,145.9 L516.1,141.2 L516.4,136.3 L516.8,131.5 L517.1,126.8 L517.4,122.2 L517.7,117.8 L518.0,113.8 L518.4,110.2 L518.7,107.2 L519.0,104.7 L519.3,102.9 L519.6,101.7 L520.0,101.3 L520.3,101.6 L520.6,102.2 L520.9,103.1 L521.2,104.0 L521.6,105.1 L521.9,106.3 L522.2,107.6 L522.5,109.0 L522.9,110.4 L523.2,111.9 L523.5,113.5 L523.8,115.0 L524.1,116.6 L524.5,118.3 L524.8,119.9 L525.1,121.6 L525.4,123.3 L525.8,125.0 L526.1,126.7 L526.4,128.4 L526.7,130.1 L527.0,131.7 L527.4,133.4 L527.7,135.1 L528.0,136.7 L528.3,138.3 L528.6,139.9 L529.0,141.5 L529.3,143.1 L529.6,144.6 L529.9,146.1 L530.2,147.6 L530.6,149.1 L530.9,150.5 L531.2,151.9 L531.5,153.3 L531.9,154.6 L532.2,155.9 L532.5,157.2 L532.8,158.4 L533.1,159.6 L533.5,160.8 L533.8,162.0 L534.1,163.1 L534.4,164.1 L534.8,165.2 L535.1,166.2 L535.4,167.2 L535.7,168.1 L536.0,169.1 L536.4,170.0 L536.7,170.8 L537.0,171.7 L537.3,172.5 L537.6,173.2 L538.0,174.0 L538.3,174.7 L538.6,175.4 L538.9,176.1 L539.2,176.7 L539.6,177.3 L539.9,177.9 L540.2,178.5 L540.5,179.0 L540.9,179.6 L541.2,180.1 L541.5,180.6 L541.8,181.1 L542.1,181.6 L542.5,182.1 L542.8,182.6 L543.1,183.1 L543.4,183.6 L543.8,184.1 L544.1,184.5 L544.4,184.9 L544.7,185.3 L545.0,185.7 L545.4,186.1 L545.7,186.5 L546.0,186.8 L546.3,187.1 L546.6,187.4 L547.0,187.6 L547.3,187.9 L547.6,188.1 L547.9,188.3 L548.2,188.5 L548.6,188.7 L548.9,188.9 L549.2,189.0 L549.5,189.2 L549.9,189.3 L550.2,189.4 L550.5,189.5 L550.8,189.6 L551.1,189.7 L551.5,189.8 L551.8,189.8 L552.1,189.9 L552.4,189.9 L552.8,190.0 L553.1,190.0 L553.4,190.0 L553.7,190.0 L554.0,190.1 L554.4,190.1 L554.7,190.1 L555.0,190.1 Z" fill="#ffbb40" stroke="none" stroke-width="1" />
<path d="M510.0,189.0 L510.3,188.8 L510.6,188.5 L511.0,188.0 L511.3,187.2 L511.6,186.2 L511.9,184.9 L512.2,183.1 L512.6,180.8 L512.9,177.8 L513.2,175.2 L513.5,172.6 L513.9,169.7 L514.2,166.4 L514.5,162.9 L514.8,159.0 L515.1,154.9 L515.5,150.5 L515.8,145.9 L516.1,141.2 L516.4,136.3 L516.8,131.5 L517.1,126.8 L517.4,122.2 L517.7,117.8 L518.0,113.8 L518.4,110.2 L518.7,107.2 L519.0,104.7 L519.3,102.9 L519.6,101.7 L520.0,101.3 L520.3,101.6 L520.6,102.2 L520.9,103.1 L521.2,104.0 L521.6,105.1 L521.9,106.3 L522.2,107.6 L522.5,109.0 L522.9,110.4 L523.2,111.9 L523.5,113.5 L523.8,115.0 L524.1,116.6 L524.5,118.3 L524.8,119.9 L525.1,121.6 L525.4,123.3 L525.8,125.0 L526.1,126.7 L526.4,128.4 L526.7,130.1 L527.0,131.7 L527.4,133.4 L527.7,135.1 L528.0,136.7 L528.3,138.3 L528.6,139.9 L529.0,141.5 L529.3,143.1 L529.6,144.6 L529.9,146.1 L530.2,147.6 L530.6,149.1 L530.9,150.5 L531.2,151.9 L531.5,153.3 L531.9,154.6 L532.2,155.9 L532.5,157.2 L532.8,158.4 L533.1,159.6 L533.5,160.8 L533.8,162.0 L534.1,163.1 L534.4,164.1 L534.8,165.2 L535.1,166.2 L535.4,167.2 L535.7,168.1 L536.0,169.1 L536.4,170.0 L536.7,170.8 L537.0,171.7 L537.3,172.5 L537.6,173.2 L538.0,174.0 L538.3,174.7 L538.6,175.4 L538.9,176.1 L539.2,176.7 L539.6,177.3 L539.9,177.9 L540.2,178.5 L540.5,179.0 L540.9,179.6 L541.2,180.1 L541.5,180.6 L541.8,181.1 L542.1,181.6 L542.5,182.1 L542.8,182.6 L543.1,183.1 L543.4,183.6 L543.8,184.1 L544.1,184.5 L544.4,184.9 L544.7,185.3 L545.0,185.7 L545.4,186.1 L545.7,186.5 L546.0,186.8 L546.3,187.1 L546.6,187.4 L547.0,187.6 L547.3,187.9 L547.6,188.1 L547.9,188.3 L548.2,188.5 L548.6,188.7 L548.9,188.9 L549.2,189.0 L549.5,189.2 L549.9,189.3 L550.2,189.4 L550.5,189.5 L550.8,189.6 L551.1,189.7 L551.5,189.8 L551.8,189.8 L552.1,189.9 L552.4,189.9 L552.8,190.0 L553.1,190.0 L553.4,190.0 L553.7,190.0 L554.0,190.1 L554.4,190.1 L554.7,190.1 L555.0,190.1" fill="none" stroke="#000" stroke-width="2.5" stroke-linejoin="round" stroke-linecap="round"/>
<path d="M619.5,191.6 L619.8,191.4 L620.2,191.0 L620.5,190.5 L620.8,189.7 L621.2,188.5 L621.5,186.9 L621.8,184.8 L622.2,182.0 L622.5,178.4 L622.8,175.6 L623.2,172.5 L623.5,168.9 L623.8,165.0 L624.1,160.7 L624.5,156.0 L624.8,151.0 L625.1,145.7 L625.5,140.2 L625.8,134.7 L626.1,129.1 L626.5,123.6 L626.8,118.4 L627.1,113.5 L627.5,109.0 L627.8,105.1 L628.1,101.9 L628.5,99.3 L628.8,97.6 L629.1,96.6 L629.5,96.9 L629.8,98.2 L630.1,99.8 L630.5,101.7 L630.8,103.7 L631.1,105.8 L631.5,107.7 L631.8,109.6 L632.1,111.2 L632.5,112.8 L632.8,114.1 L633.1,115.2 L633.5,116.2 L633.8,117.2 L634.1,118.0 L634.4,118.9 L634.8,119.9 L635.1,121.0 L635.4,122.3 L635.8,123.9 L636.1,125.8 L636.4,128.0 L636.8,130.5 L637.1,132.9 L637.4,135.2 L637.8,137.4 L638.1,139.6 L638.4,141.7 L638.8,143.7 L639.1,145.6 L639.4,147.4 L639.8,149.2 L640.1,150.8 L640.4,152.4 L640.8,153.9 L641.1,155.4 L641.4,156.8 L641.8,158.1 L642.1,159.4 L642.4,160.6 L642.8,161.8 L643.1,162.9 L643.4,163.9 L643.7,165.0 L644.1,166.0 L644.4,166.9 L644.7,167.8 L645.1,168.7 L645.4,169.5 L645.7,170.3 L646.1,171.1 L646.4,171.9 L646.7,172.6 L647.1,173.3 L647.4,174.0 L647.7,174.6 L648.1,175.3 L648.4,175.9 L648.7,176.5 L649.1,177.1 L649.4,177.6 L649.7,178.2 L650.1,178.7 L650.4,179.2 L650.7,179.7 L651.1,180.2 L651.4,180.7 L651.7,181.1 L652.0,181.5 L652.4,182.0 L652.7,182.5 L653.0,182.9 L653.4,183.4 L653.7,183.9 L654.0,184.4 L654.4,184.9 L654.7,185.4 L655.0,185.8 L655.4,186.3 L655.7,186.7 L656.0,187.2 L656.4,187.6 L656.7,188.0 L657.0,188.4 L657.4,188.8 L657.7,189.1 L658.0,189.5 L658.4,189.8 L658.7,190.1 L659.0,190.3 L659.4,190.6 L659.7,190.8 L660.0,191.1 L660.4,191.3 L660.7,191.5 L661.0,191.6 L661.4,191.8 L661.7,191.9 L662.0,192.1 L662.3,192.2 L662.7,192.3 L663.0,192.4 L663.3,192.4 L663.7,192.5 L664.0,192.6 L664.3,192.6 L664.7,192.7 L665.0,192.7 L665.3,192.7 L665.7,192.7 L666.0,192.7 Z" fill="#ffbb40" stroke="none" stroke-width="1" />
<path d="M619.5,191.6 L619.8,191.4 L620.2,191.0 L620.5,190.5 L620.8,189.7 L621.2,188.5 L621.5,186.9 L621.8,184.8 L622.2,182.0 L622.5,178.4 L622.8,175.6 L623.2,172.5 L623.5,168.9 L623.8,165.0 L624.1,160.7 L624.5,156.0 L624.8,151.0 L625.1,145.7 L625.5,140.2 L625.8,134.7 L626.1,129.1 L626.5,123.6 L626.8,118.4 L627.1,113.5 L627.5,109.0 L627.8,105.1 L628.1,101.9 L628.5,99.3 L628.8,97.6 L629.1,96.6 L629.5,96.9 L629.8,98.2 L630.1,99.8 L630.5,101.7 L630.8,103.7 L631.1,105.8 L631.5,107.7 L631.8,109.6 L632.1,111.2 L632.5,112.8 L632.8,114.1 L633.1,115.2 L633.5,116.2 L633.8,117.2 L634.1,118.0 L634.4,118.9 L634.8,119.9 L635.1,121.0 L635.4,122.3 L635.8,123.9 L636.1,125.8 L636.4,128.0 L636.8,130.5 L637.1,132.9 L637.4,135.2 L637.8,137.4 L638.1,139.6 L638.4,141.7 L638.8,143.7 L639.1,145.6 L639.4,147.4 L639.8,149.2 L640.1,150.8 L640.4,152.4 L640.8,153.9 L641.1,155.4 L641.4,156.8 L641.8,158.1 L642.1,159.4 L642.4,160.6 L642.8,161.8 L643.1,162.9 L643.4,163.9 L643.7,165.0 L644.1,166.0 L644.4,166.9 L644.7,167.8 L645.1,168.7 L645.4,169.5 L645.7,170.3 L646.1,171.1 L646.4,171.9 L646.7,172.6 L647.1,173.3 L647.4,174.0 L647.7,174.6 L648.1,175.3 L648.4,175.9 L648.7,176.5 L649.1,177.1 L649.4,177.6 L649.7,178.2 L650.1,178.7 L650.4,179.2 L650.7,179.7 L651.1,180.2 L651.4,180.7 L651.7,181.1 L652.0,181.5 L652.4,182.0 L652.7,182.5 L653.0,182.9 L653.4,183.4 L653.7,183.9 L654.0,184.4 L654.4,184.9 L654.7,185.4 L655.0,185.8 L655.4,186.3 L655.7,186.7 L656.0,187.2 L656.4,187.6 L656.7,188.0 L657.0,188.4 L657.4,188.8 L657.7,189.1 L658.0,189.5 L658.4,189.8 L658.7,190.1 L659.0,190.3 L659.4,190.6 L659.7,190.8 L660.0,191.1 L660.4,191.3 L660.7,191.5 L661.0,191.6 L661.4,191.8 L661.7,191.9 L662.0,192.1 L662.3,192.2 L662.7,192.3 L663.0,192.4 L663.3,192.4 L663.7,192.5 L664.0,192.6 L664.3,192.6 L664.7,192.7 L665.0,192.7 L665.3,192.7 L665.7,192.7 L666.0,192.7" fill="none" stroke="#000" stroke-width="2.5" stroke-linejoin="round" stroke-linecap="round"/>
<path d="M727.5,194.2 L727.9,194.0 L728.2,193.6 L728.6,193.1 L729.0,192.2 L729.4,190.9 L729.7,189.2 L730.1,186.8 L730.5,183.6 L730.8,180.9 L731.2,178.0 L731.6,174.6 L732.0,170.7 L732.3,166.4 L732.7,161.6 L733.1,156.5 L733.4,151.1 L733.8,145.4 L734.2,139.5 L734.6,133.6 L734.9,127.8 L735.3,122.3 L735.7,117.2 L736.0,112.6 L736.4,108.6 L736.8,105.5 L737.2,103.2 L737.5,101.8 L737.9,101.7 L738.3,104.1 L738.6,107.6 L739.0,111.7 L739.4,116.3 L739.8,121.0 L740.1,125.6 L740.5,130.1 L740.9,134.3 L741.2,138.2 L741.6,141.6 L742.0,144.5 L742.4,146.9 L742.7,148.7 L743.1,149.9 L743.5,150.6 L743.8,150.7 L744.2,150.3 L744.6,149.4 L745.0,148.2 L745.3,146.8 L745.7,145.1 L746.1,143.3 L746.4,141.5 L746.8,139.9 L747.2,138.5 L747.6,137.4 L747.9,136.7 L748.3,136.4 L748.7,136.7 L749.0,137.4 L749.4,138.4 L749.8,139.4 L750.2,140.5 L750.5,141.7 L750.9,142.9 L751.3,144.1 L751.6,145.4 L752.0,146.7 L752.4,147.9 L752.8,149.2 L753.1,150.6 L753.5,151.9 L753.9,153.2 L754.2,154.5 L754.6,155.8 L755.0,157.1 L755.4,158.4 L755.7,159.7 L756.1,160.9 L756.5,162.2 L756.8,163.4 L757.2,164.6 L757.6,165.8 L758.0,167.0 L758.3,168.1 L758.7,169.2 L759.1,170.3 L759.4,171.4 L759.8,172.4 L760.2,173.4 L760.6,174.4 L760.9,175.3 L761.3,176.3 L761.7,177.1 L762.0,178.0 L762.4,178.8 L762.8,179.6 L763.2,180.4 L763.5,181.1 L763.9,181.9 L764.3,182.5 L764.6,183.2 L765.0,183.8 L765.4,184.4 L765.8,185.0 L766.1,185.6 L766.5,186.2 L766.9,186.8 L767.2,187.4 L767.6,188.0 L768.0,188.6 L768.4,189.2 L768.7,189.7 L769.1,190.2 L769.5,190.7 L769.8,191.1 L770.2,191.6 L770.6,192.0 L771.0,192.3 L771.3,192.7 L771.7,193.0 L772.1,193.3 L772.4,193.6 L772.8,193.8 L773.2,194.0 L773.6,194.2 L773.9,194.4 L774.3,194.6 L774.7,194.7 L775.0,194.8 L775.4,194.9 L775.8,195.0 L776.2,195.1 L776.5,195.2 L776.9,195.2 L777.3,195.3 L777.6,195.3 L778.0,195.4 L778.4,195.4 L778.8,195.4 L779.1,195.4 L779.5,195.4 Z" fill="#ffbb40" stroke="none" stroke-width="1" />
<path d="M727.5,194.2 L727.9,194.0 L728.2,193.6 L728.6,193.1 L729.0,192.2 L729.4,190.9 L729.7,189.2 L730.1,186.8 L730.5,183.6 L730.8,180.9 L731.2,178.0 L731.6,174.6 L732.0,170.7 L732.3,166.4 L732.7,161.6 L733.1,156.5 L733.4,151.1 L733.8,145.4 L734.2,139.5 L734.6,133.6 L734.9,127.8 L735.3,122.3 L735.7,117.2 L736.0,112.6 L736.4,108.6 L736.8,105.5 L737.2,103.2 L737.5,101.8 L737.9,101.7 L738.3,104.1 L738.6,107.6 L739.0,111.7 L739.4,116.3 L739.8,121.0 L740.1,125.6 L740.5,130.1 L740.9,134.3 L741.2,138.2 L741.6,141.6 L742.0,144.5 L742.4,146.9 L742.7,148.7 L743.1,149.9 L743.5,150.6 L743.8,150.7 L744.2,150.3 L744.6,149.4 L745.0,148.2 L745.3,146.8 L745.7,145.1 L746.1,143.3 L746.4,141.5 L746.8,139.9 L747.2,138.5 L747.6,137.4 L747.9,136.7 L748.3,136.4 L748.7,136.7 L749.0,137.4 L749.4,138.4 L749.8,139.4 L750.2,140.5 L750.5,141.7 L750.9,142.9 L751.3,144.1 L751.6,145.4 L752.0,146.7 L752.4,147.9 L752.8,149.2 L753.1,150.6 L753.5,151.9 L753.9,153.2 L754.2,154.5 L754.6,155.8 L755.0,157.1 L755.4,158.4 L755.7,159.7 L756.1,160.9 L756.5,162.2 L756.8,163.4 L757.2,164.6 L757.6,165.8 L758.0,167.0 L758.3,168.1 L758.7,169.2 L759.1,170.3 L759.4,171.4 L759.8,172.4 L760.2,173.4 L760.6,174.4 L760.9,175.3 L761.3,176.3 L761.7,177.1 L762.0,178.0 L762.4,178.8 L762.8,179.6 L763.2,180.4 L763.5,181.1 L763.9,181.9 L764.3,182.5 L764.6,183.2 L765.0,183.8 L765.4,184.4 L765.8,185.0 L766.1,185.6 L766.5,186.2 L766.9,186.8 L767.2,187.4 L767.6,188.0 L768.0,188.6 L768.4,189.2 L768.7,189.7 L769.1,190.2 L769.5,190.7 L769.8,191.1 L770.2,191.6 L770.6,192.0 L771.0,192.3 L771.3,192.7 L771.7,193.0 L772.1,193.3 L772.4,193.6 L772.8,193.8 L773.2,194.0 L773.6,194.2 L773.9,194.4 L774.3,194.6 L774.7,194.7 L775.0,194.8 L775.4,194.9 L775.8,195.0 L776.2,195.1 L776.5,195.2 L776.9,195.2 L777.3,195.3 L777.6,195.3 L778.0,195.4 L778.4,195.4 L778.8,195.4 L779.1,195.4 L779.5,195.4" fill="none" stroke="#000" stroke-width="2.5" stroke-linejoin="round" stroke-linecap="round"/>
<path d="M483.5,205.9 L483.8,205.7 L484.2,205.4 L484.5,204.9 L484.8,204.2 L485.2,203.2 L485.5,201.8 L485.8,199.9 L486.2,197.5 L486.5,194.3 L486.8,191.7 L487.2,188.8 L487.5,185.6 L487.8,181.9 L488.1,177.8 L488.5,173.4 L488.8,168.6 L489.1,163.6 L489.5,158.3 L489.8,152.8 L490.1,147.3 L490.5,141.9 L490.8,136.5 L491.1,131.5 L491.5,126.9 L491.8,122.7 L492.1,119.2 L492.5,116.4 L492.8,114.3 L493.1,113.1 L493.5,112.8 L493.8,113.6 L494.1,114.9 L494.5,116.5 L494.8,118.3 L495.1,120.2 L495.5,122.2 L495.8,124.2 L496.1,126.2 L496.5,128.1 L496.8,129.9 L497.1,131.6 L497.4,133.1 L497.8,134.5 L498.1,135.8 L498.4,137.0 L498.8,138.0 L499.1,139.1 L499.4,140.1 L499.8,141.1 L500.1,142.2 L500.4,143.5 L500.8,144.9 L501.1,146.5 L501.4,148.3 L501.8,150.4 L502.1,152.5 L502.4,154.5 L502.8,156.5 L503.1,158.4 L503.4,160.3 L503.8,162.1 L504.1,163.8 L504.4,165.5 L504.8,167.1 L505.1,168.6 L505.4,170.1 L505.8,171.5 L506.1,172.8 L506.4,174.1 L506.8,175.3 L507.1,176.5 L507.4,177.6 L507.7,178.7 L508.1,179.7 L508.4,180.7 L508.7,181.6 L509.1,182.5 L509.4,183.4 L509.7,184.2 L510.1,185.0 L510.4,185.8 L510.7,186.5 L511.1,187.2 L511.4,187.8 L511.7,188.5 L512.1,189.1 L512.4,189.7 L512.7,190.2 L513.1,190.8 L513.4,191.3 L513.7,191.8 L514.1,192.3 L514.4,192.8 L514.7,193.2 L515.1,193.7 L515.4,194.1 L515.7,194.5 L516.0,194.9 L516.4,195.3 L516.7,195.7 L517.0,196.1 L517.4,196.6 L517.7,197.1 L518.0,197.5 L518.4,198.0 L518.7,198.5 L519.0,199.0 L519.4,199.4 L519.7,199.9 L520.0,200.4 L520.4,200.8 L520.7,201.2 L521.0,201.7 L521.4,202.1 L521.7,202.5 L522.0,202.8 L522.4,203.2 L522.7,203.5 L523.0,203.9 L523.4,204.2 L523.7,204.5 L524.0,204.7 L524.4,205.0 L524.7,205.2 L525.0,205.5 L525.4,205.7 L525.7,205.8 L526.0,206.0 L526.3,206.2 L526.7,206.3 L527.0,206.4 L527.3,206.5 L527.7,206.6 L528.0,206.7 L528.3,206.8 L528.7,206.8 L529.0,206.9 L529.3,206.9 L529.7,206.9 L530.0,207.0 Z" fill="#ffff00" stroke="none" stroke-width="1" />
<path d="M483.5,205.9 L483.8,205.7 L484.2,205.4 L484.5,204.9 L484.8,204.2 L485.2,203.2 L485.5,201.8 L485.8,199.9 L486.2,197.5 L486.5,194.3 L486.8,191.7 L487.2,188.8 L487.5,185.6 L487.8,181.9 L488.1,177.8 L488.5,173.4 L488.8,168.6 L489.1,163.6 L489.5,158.3 L489.8,152.8 L490.1,147.3 L490.5,141.9 L490.8,136.5 L491.1,131.5 L491.5,126.9 L491.8,122.7 L492.1,119.2 L492.5,116.4 L492.8,114.3 L493.1,113.1 L493.5,112.8 L493.8,113.6 L494.1,114.9 L494.5,116.5 L494.8,118.3 L495.1,120.2 L495.5,122.2 L495.8,124.2 L496.1,126.2 L496.5,128.1 L496.8,129.9 L497.1,131.6 L497.4,133.1 L497.8,134.5 L498.1,135.8 L498.4,137.0 L498.8,138.0 L499.1,139.1 L499.4,140.1 L499.8,141.1 L500.1,142.2 L500.4,143.5 L500.8,144.9 L501.1,146.5 L501.4,148.3 L501.8,150.4 L502.1,152.5 L502.4,154.5 L502.8,156.5 L503.1,158.4 L503.4,160.3 L503.8,162.1 L504.1,163.8 L504.4,165.5 L504.8,167.1 L505.1,168.6 L505.4,170.1 L505.8,171.5 L506.1,172.8 L506.4,174.1 L506.8,175.3 L507.1,176.5 L507.4,177.6 L507.7,178.7 L508.1,179.7 L508.4,180.7 L508.7,181.6 L509.1,182.5 L509.4,183.4 L509.7,184.2 L510.1,185.0 L510.4,185.8 L510.7,186.5 L511.1,187.2 L511.4,187.8 L511.7,188.5 L512.1,189.1 L512.4,189.7 L512.7,190.2 L513.1,190.8 L513.4,191.3 L513.7,191.8 L514.1,192.3 L514.4,192.8 L514.7,193.2 L515.1,193.7 L515.4,194.1 L515.7,194.5 L516.0,194.9 L516.4,195.3 L516.7,195.7 L517.0,196.1 L517.4,196.6 L517.7,197.1 L518.0,197.5 L518.4,198.0 L518.7,198.5 L519.0,199.0 L519.4,199.4 L519.7,199.9 L520.0,200.4 L520.4,200.8 L520.7,201.2 L521.0,201.7 L521.4,202.1 L521.7,202.5 L522.0,202.8 L522.4,203.2 L522.7,203.5 L523.0,203.9 L523.4,204.2 L523.7,204.5 L524.0,204.7 L524.4,205.0 L524.7,205.2 L525.0,205.5 L525.4,205.7 L525.7,205.8 L526.0,206.0 L526.3,206.2 L526.7,206.3 L527.0,206.4 L527.3,206.5 L527.7,206.6 L528.0,206.7 L528.3,206.8 L528.7,206.8 L529.0,206.9 L529.3,206.9 L529.7,206.9 L530.0,207.0" fill="none" stroke="#000" stroke-width="2.5" stroke-linejoin="round" stroke-linecap="round"/>
<path d="M592.0,208.4 L592.3,208.3 L592.7,208.0 L593.0,207.6 L593.3,207.0 L593.7,206.1 L594.0,204.9 L594.4,203.3 L594.7,201.2 L595.0,198.5 L595.4,196.3 L595.7,193.8 L596.0,190.9 L596.4,187.7 L596.7,184.1 L597.0,180.1 L597.4,175.7 L597.7,171.1 L598.0,166.1 L598.4,160.9 L598.7,155.6 L599.0,150.2 L599.4,144.8 L599.7,139.6 L600.1,134.6 L600.4,129.9 L600.7,125.7 L601.1,122.1 L601.4,119.1 L601.7,116.8 L602.1,115.3 L602.4,114.7 L602.7,115.6 L603.1,118.2 L603.4,121.6 L603.8,125.5 L604.1,129.8 L604.4,134.2 L604.8,138.7 L605.1,143.1 L605.4,147.5 L605.8,151.6 L606.1,155.5 L606.4,159.1 L606.8,162.3 L607.1,165.1 L607.4,167.5 L607.8,169.4 L608.1,170.8 L608.5,171.7 L608.8,172.1 L609.1,172.1 L609.5,171.6 L609.8,170.7 L610.1,169.5 L610.5,168.1 L610.8,166.5 L611.1,164.8 L611.5,163.1 L611.8,161.7 L612.1,160.4 L612.5,159.5 L612.8,159.0 L613.1,158.9 L613.5,159.4 L613.8,160.2 L614.2,161.1 L614.5,162.1 L614.8,163.1 L615.2,164.2 L615.5,165.3 L615.8,166.4 L616.2,167.5 L616.5,168.6 L616.8,169.7 L617.2,170.8 L617.5,171.9 L617.9,173.1 L618.2,174.2 L618.5,175.3 L618.9,176.4 L619.2,177.5 L619.5,178.6 L619.9,179.6 L620.2,180.7 L620.5,181.7 L620.9,182.8 L621.2,183.8 L621.5,184.8 L621.9,185.7 L622.2,186.7 L622.5,187.6 L622.9,188.5 L623.2,189.4 L623.6,190.2 L623.9,191.1 L624.2,191.9 L624.6,192.7 L624.9,193.4 L625.2,194.2 L625.6,194.9 L625.9,195.7 L626.2,196.5 L626.6,197.3 L626.9,198.1 L627.2,198.9 L627.6,199.6 L627.9,200.3 L628.3,201.0 L628.6,201.7 L628.9,202.4 L629.3,203.0 L629.6,203.6 L629.9,204.1 L630.3,204.7 L630.6,205.1 L630.9,205.6 L631.3,206.0 L631.6,206.4 L632.0,206.8 L632.3,207.1 L632.6,207.4 L633.0,207.7 L633.3,208.0 L633.6,208.2 L634.0,208.4 L634.3,208.6 L634.6,208.7 L635.0,208.9 L635.3,209.0 L635.6,209.1 L636.0,209.2 L636.3,209.3 L636.6,209.3 L637.0,209.4 L637.3,209.4 L637.7,209.5 L638.0,209.5 L638.3,209.5 L638.7,209.5 L639.0,209.6 Z" fill="#ffff00" stroke="none" stroke-width="1" />
<path d="M592.0,208.4 L592.3,208.3 L592.7,208.0 L593.0,207.6 L593.3,207.0 L593.7,206.1 L594.0,204.9 L594.4,203.3 L594.7,201.2 L595.0,198.5 L595.4,196.3 L595.7,193.8 L596.0,190.9 L596.4,187.7 L596.7,184.1 L597.0,180.1 L597.4,175.7 L597.7,171.1 L598.0,166.1 L598.4,160.9 L598.7,155.6 L599.0,150.2 L599.4,144.8 L599.7,139.6 L600.1,134.6 L600.4,129.9 L600.7,125.7 L601.1,122.1 L601.4,119.1 L601.7,116.8 L602.1,115.3 L602.4,114.7 L602.7,115.6 L603.1,118.2 L603.4,121.6 L603.8,125.5 L604.1,129.8 L604.4,134.2 L604.8,138.7 L605.1,143.1 L605.4,147.5 L605.8,151.6 L606.1,155.5 L606.4,159.1 L606.8,162.3 L607.1,165.1 L607.4,167.5 L607.8,169.4 L608.1,170.8 L608.5,171.7 L608.8,172.1 L609.1,172.1 L609.5,171.6 L609.8,170.7 L610.1,169.5 L610.5,168.1 L610.8,166.5 L611.1,164.8 L611.5,163.1 L611.8,161.7 L612.1,160.4 L612.5,159.5 L612.8,159.0 L613.1,158.9 L613.5,159.4 L613.8,160.2 L614.2,161.1 L614.5,162.1 L614.8,163.1 L615.2,164.2 L615.5,165.3 L615.8,166.4 L616.2,167.5 L616.5,168.6 L616.8,169.7 L617.2,170.8 L617.5,171.9 L617.9,173.1 L618.2,174.2 L618.5,175.3 L618.9,176.4 L619.2,177.5 L619.5,178.6 L619.9,179.6 L620.2,180.7 L620.5,181.7 L620.9,182.8 L621.2,183.8 L621.5,184.8 L621.9,185.7 L622.2,186.7 L622.5,187.6 L622.9,188.5 L623.2,189.4 L623.6,190.2 L623.9,191.1 L624.2,191.9 L624.6,192.7 L624.9,193.4 L625.2,194.2 L625.6,194.9 L625.9,195.7 L626.2,196.5 L626.6,197.3 L626.9,198.1 L627.2,198.9 L627.6,199.6 L627.9,200.3 L628.3,201.0 L628.6,201.7 L628.9,202.4 L629.3,203.0 L629.6,203.6 L629.9,204.1 L630.3,204.7 L630.6,205.1 L630.9,205.6 L631.3,206.0 L631.6,206.4 L632.0,206.8 L632.3,207.1 L632.6,207.4 L633.0,207.7 L633.3,208.0 L633.6,208.2 L634.0,208.4 L634.3,208.6 L634.6,208.7 L635.0,208.9 L635.3,209.0 L635.6,209.1 L636.0,209.2 L636.3,209.3 L636.6,209.3 L637.0,209.4 L637.3,209.4 L637.7,209.5 L638.0,209.5 L638.3,209.5 L638.7,209.5 L639.0,209.6" fill="none" stroke="#000" stroke-width="2.5" stroke-linejoin="round" stroke-linecap="round"/>
<line x1="472.9" y1="205.6" x2="1018.7" y2="218.6" stroke="#111" stroke-width="1.7" />
<line x1="1018.7" y1="218.6" x2="1124.9" y2="151.3" stroke="#111" stroke-width="1.7" />
<line x1="459.1" y1="180.0" x2="472.9" y2="180.0" stroke="#111" stroke-width="1.7" />
<line x1="459.1" y1="152.8" x2="472.9" y2="152.8" stroke="#111" stroke-width="1.7" />
<line x1="459.1" y1="125.6" x2="472.9" y2="125.6" stroke="#111" stroke-width="1.7" />
<line x1="459.1" y1="98.4" x2="472.9" y2="98.4" stroke="#111" stroke-width="1.7" />
<line x1="500.1" y1="206.2" x2="488.6" y2="213.2" stroke="#111" stroke-width="1.7" />
<line x1="609.1" y1="208.8" x2="597.6" y2="215.8" stroke="#111" stroke-width="1.7" />
<line x1="718.1" y1="211.4" x2="706.6" y2="218.4" stroke="#111" stroke-width="1.7" />
<line x1="827.1" y1="214.0" x2="815.6" y2="221.0" stroke="#111" stroke-width="1.7" />
<line x1="936.1" y1="216.6" x2="924.6" y2="223.6" stroke="#111" stroke-width="1.7" />
<line x1="1124.9" y1="151.3" x2="1138.4" y2="151.9" stroke="#111" stroke-width="1.7" />
<line x1="1098.4" y1="168.1" x2="1111.9" y2="168.7" stroke="#111" stroke-width="1.7" />
<line x1="1071.8" y1="184.9" x2="1085.3" y2="185.5" stroke="#111" stroke-width="1.7" />
<line x1="1045.2" y1="201.8" x2="1058.8" y2="202.4" stroke="#111" stroke-width="1.7" />
<line x1="1018.7" y1="218.6" x2="1032.2" y2="219.2" stroke="#111" stroke-width="1.7" />
<text x="444.5" y="106.0" font-size="19.8" font-weight="bold" text-anchor="middle" fill="#1a1a1a">4</text>
<text x="444.5" y="133.4" font-size="19.8" font-weight="bold" text-anchor="middle" fill="#1a1a1a">3</text>
<text x="444.5" y="160.7" font-size="19.8" font-weight="bold" text-anchor="middle" fill="#1a1a1a">2</text>
<text x="444.5" y="188.0" font-size="19.8" font-weight="bold" text-anchor="middle" fill="#1a1a1a">1</text>
<text x="474.7" y="239.7" font-size="19.8" font-weight="bold" text-anchor="middle" fill="#1a1a1a">0</text>
<text x="572.3" y="242.9" font-size="19.8" font-weight="bold" text-anchor="middle" fill="#1a1a1a">100</text>
<text x="680.8" y="245.7" font-size="19.8" font-weight="bold" text-anchor="middle" fill="#1a1a1a">200</text>
<text x="789.8" y="248.6" font-size="19.8" font-weight="bold" text-anchor="middle" fill="#1a1a1a">300</text>
<text x="899.0" y="251.1" font-size="19.8" font-weight="bold" text-anchor="middle" fill="#1a1a1a">400</text>
<text font-size="21.5" font-weight="bold" text-anchor="middle" fill="#1a1a1a" transform="translate(1148.0,156.3) rotate(54)" y="7.7">0</text>
<text font-size="21.5" font-weight="bold" text-anchor="middle" fill="#1a1a1a" transform="translate(1124.5,179.1) rotate(54)" y="7.7">60</text>
<text font-size="21.5" font-weight="bold" text-anchor="middle" fill="#1a1a1a" transform="translate(1102.0,201.4) rotate(54)" y="7.7">120</text>
<text font-size="21.5" font-weight="bold" text-anchor="middle" fill="#1a1a1a" transform="translate(1075.2,218.5) rotate(54)" y="7.7">180</text>
<text font-size="21.5" font-weight="bold" text-anchor="middle" fill="#1a1a1a" transform="translate(1047.5,235.1) rotate(54)" y="7.7">240</text>
<text x="415.6" y="67.0" font-size="24" fill="#1a1a1a">×</text>
<text x="433.0" y="66.2" font-size="20.5" font-weight="bold" fill="#1a1a1a">10</text>
<text x="457.6" y="56.3" font-size="15" font-weight="bold" fill="#1a1a1a">5</text>
<text font-size="23.6" font-weight="bold" text-anchor="middle" fill="#1a1a1a" transform="translate(408.8,138.5) rotate(-90)" textLength="128" lengthAdjust="spacingAndGlyphs">CTL signals</text>
<text x="648.7" y="271.3" font-size="23.4" font-weight="bold" text-anchor="middle" fill="#1a1a1a">C<tspan font-size="17.5" dy="11.4">2</tspan><tspan dy="-11.4" font-size="23.4">&#8203;</tspan>H<tspan font-size="17.5" dy="11.4">4</tspan><tspan dy="-11.4" font-size="23.4">&#8203;</tspan>/ppm</text>
<text font-size="23.4" font-weight="bold" text-anchor="middle" fill="#1a1a1a" transform="translate(1130.3,227.6) rotate(-38)">C<tspan font-size="17.5" dy="11.4">2</tspan><tspan dy="-11.4" font-size="23.4">&#8203;</tspan>H<tspan font-size="17.5" dy="11.4">2</tspan><tspan dy="-11.4" font-size="23.4">&#8203;</tspan>/ppm</text>
<circle cx="879.3" cy="169.1" r="3.4" fill="#1464c4" stroke="none" stroke-width="1" />
<path d="M879.3,169.1 C879,255 700,352 330,358.9" fill="none" stroke="#1464c4" stroke-width="3.0" />
<path d="M316.4,359.6 L333.5,353.2 L328.5,359.2 L334,365.6 Z" fill="#1464c4" stroke="none" stroke-width="1" />
</g>
<line x1="21.2" y1="293.8" x2="1162.0" y2="293.8" stroke="#231815" stroke-width="1.8" stroke-dasharray="23.3 24.2" stroke-dashoffset="11.3"/>
<line x1="701.8" y1="311.0" x2="701.8" y2="689.7" stroke="#231815" stroke-width="1.8" stroke-dasharray="23.2 24.2" stroke-dashoffset="11.5"/>
<g id="panel-b">
<text x="22.0" y="332.7" font-size="35" font-weight="bold" fill="#231815">b</text>
<path d="M169.7,352.3 L114.3,352.3 L114.3,381.2 L110.2,381.2 L118.1,391.6 L125.9,381.2 L121.8,381.2 L121.8,358.7 L169.7,358.7 Z" fill="#a6a6a6" stroke="#999" stroke-width="0.5" />
<rect x="98.4" y="393.5" width="314.1" height="249.5" fill="none" stroke="#3558a0" stroke-width="0.9" rx="0" stroke-dasharray="7 2.5 1.2 2.5"/>
<rect x="104.0" y="399.5" width="29.9" height="239.6" fill="#fff" stroke="#000" stroke-width="1.4" rx="5.5" />
<path d="M110.0,416.2 L123.9,416.2 L126.5,418.8 L126.5,437.1 L123.9,439.7 L110.0,439.7 L107.4,437.1 L107.4,418.8 Z" fill="#8ea6dc" stroke="#000" stroke-width="1.2" />
<path d="M117.2,439.7 L117.2,445.1 L130.4,445.1 L130.4,408.8 L116.4,408.8 L116.4,414.7" fill="none" stroke="#000" stroke-width="1.1" />
<path d="M114.2,411.8 L118.6,411.8 L116.4,415.6 Z" fill="#000" stroke="none" stroke-width="1" />
<path d="M110.0,466.6 L123.9,466.6 L126.5,469.2 L126.5,487.5 L123.9,490.1 L110.0,490.1 L107.4,487.5 L107.4,469.2 Z" fill="#8ea6dc" stroke="#000" stroke-width="1.2" />
<path d="M117.2,490.1 L117.2,495.5 L130.4,495.5 L130.4,459.2 L116.4,459.2 L116.4,465.1" fill="none" stroke="#000" stroke-width="1.1" />
<path d="M114.2,462.2 L118.6,462.2 L116.4,466.0 Z" fill="#000" stroke="none" stroke-width="1" />
<path d="M110.0,550.2 L123.9,550.2 L126.5,552.8 L126.5,571.1 L123.9,573.7 L110.0,573.7 L107.4,571.1 L107.4,552.8 Z" fill="#8ea6dc" stroke="#000" stroke-width="1.2" />
<path d="M117.2,573.7 L117.2,579.1 L130.4,579.1 L130.4,542.8 L116.4,542.8 L116.4,548.7" fill="none" stroke="#000" stroke-width="1.1" />
<path d="M114.2,545.8 L118.6,545.8 L116.4,549.6 Z" fill="#000" stroke="none" stroke-width="1" />
<path d="M110.0,600.2 L123.9,600.2 L126.5,602.8 L126.5,621.1 L123.9,623.7 L110.0,623.7 L107.4,621.1 L107.4,602.8 Z" fill="#8ea6dc" stroke="#000" stroke-width="1.2" />
<path d="M117.2,623.7 L117.2,629.1 L130.4,629.1 L130.4,592.8 L116.4,592.8 L116.4,598.7" fill="none" stroke="#000" stroke-width="1.1" />
<path d="M114.2,595.8 L118.6,595.8 L116.4,599.6 Z" fill="#000" stroke="none" stroke-width="1" />
<rect x="118.0" y="505.0" width="1.8" height="1.8" fill="#000" stroke="none" stroke-width="1" rx="0" />
<rect x="118.0" y="517.3" width="1.8" height="1.8" fill="#000" stroke="none" stroke-width="1" rx="0" />
<rect x="118.0" y="529.9" width="1.8" height="1.8" fill="#000" stroke="none" stroke-width="1" rx="0" />
<line x1="142.9" y1="379.3" x2="420.0" y2="379.3" stroke="#000" stroke-width="3.3" />
<path d="M434.8,379.3 L417.5,374.6 L421.5,379.3 L417.5,384.0 Z" fill="#000" stroke="none" stroke-width="1" />
<text x="420.0" y="398.5" font-size="18.5" font-weight="bold">Time</text>
<rect x="140.3" y="399.3" width="7.8" height="241.9" fill="#000" stroke="none" stroke-width="1" rx="0" />
<rect x="141.6" y="400.50" width="5.2" height="2.33" fill="#85ff79"/><rect x="141.6" y="404.26" width="5.2" height="2.33" fill="#b0ff4e"/><rect x="141.6" y="408.02" width="5.2" height="2.33" fill="#87ff77"/><rect x="141.6" y="411.77" width="5.2" height="2.33" fill="#82ff7c"/><rect x="141.6" y="415.53" width="5.2" height="2.33" fill="#5fff9f"/><rect x="141.6" y="419.29" width="5.2" height="2.33" fill="#87ff77"/><rect x="141.6" y="423.05" width="5.2" height="2.33" fill="#d2ff2c"/><rect x="141.6" y="426.80" width="5.2" height="2.33" fill="#abff53"/><rect x="141.6" y="430.56" width="5.2" height="2.33" fill="#ceff30"/><rect x="141.6" y="434.32" width="5.2" height="2.33" fill="#a1ff5d"/><rect x="141.6" y="438.08" width="5.2" height="2.33" fill="#aaff54"/><rect x="141.6" y="441.84" width="5.2" height="2.33" fill="#9eff60"/><rect x="141.6" y="445.59" width="5.2" height="2.33" fill="#36ffc8"/><rect x="141.6" y="449.35" width="5.2" height="2.33" fill="#c3ff3b"/><rect x="141.6" y="453.11" width="5.2" height="2.33" fill="#b0ff4e"/><rect x="141.6" y="456.87" width="5.2" height="2.33" fill="#afff4f"/><rect x="141.6" y="460.62" width="5.2" height="2.33" fill="#35ffc9"/><rect x="141.6" y="464.38" width="5.2" height="2.33" fill="#32ffcc"/><rect x="141.6" y="468.14" width="5.2" height="2.33" fill="#61ff9d"/><rect x="141.6" y="471.90" width="5.2" height="2.33" fill="#79ff85"/><rect x="141.6" y="475.66" width="5.2" height="2.33" fill="#a5ff59"/><rect x="141.6" y="479.41" width="5.2" height="2.33" fill="#91ff6d"/><rect x="141.6" y="483.17" width="5.2" height="2.33" fill="#b1ff4d"/><rect x="141.6" y="486.93" width="5.2" height="2.33" fill="#6fff8f"/><rect x="141.6" y="490.69" width="5.2" height="2.33" fill="#a5ff59"/><rect x="141.6" y="494.45" width="5.2" height="2.33" fill="#aaff54"/><rect x="141.6" y="498.20" width="5.2" height="2.33" fill="#6eff90"/><rect x="141.6" y="501.96" width="5.2" height="2.33" fill="#f4ff0a"/><rect x="141.6" y="505.72" width="5.2" height="2.33" fill="#b3ff4b"/><rect x="141.6" y="509.48" width="5.2" height="2.33" fill="#d7ff27"/><rect x="141.6" y="513.23" width="5.2" height="2.33" fill="#71ff8d"/><rect x="141.6" y="516.99" width="5.2" height="2.33" fill="#6aff94"/><rect x="141.6" y="520.75" width="5.2" height="2.33" fill="#80ff7e"/><rect x="141.6" y="524.51" width="5.2" height="2.33" fill="#8dff71"/><rect x="141.6" y="528.27" width="5.2" height="2.33" fill="#b7ff47"/><rect x="141.6" y="532.02" width="5.2" height="2.33" fill="#a1ff5d"/><rect x="141.6" y="535.78" width="5.2" height="2.33" fill="#7aff84"/><rect x="141.6" y="539.54" width="5.2" height="2.33" fill="#5effa0"/><rect x="141.6" y="543.30" width="5.2" height="2.33" fill="#76ff88"/><rect x="141.6" y="547.05" width="5.2" height="2.33" fill="#d8ff26"/><rect x="141.6" y="550.81" width="5.2" height="2.33" fill="#66ff98"/><rect x="141.6" y="554.57" width="5.2" height="2.33" fill="#a1ff5d"/><rect x="141.6" y="558.33" width="5.2" height="2.33" fill="#abff53"/><rect x="141.6" y="562.09" width="5.2" height="2.33" fill="#40ffbe"/><rect x="141.6" y="565.84" width="5.2" height="2.33" fill="#96ff68"/><rect x="141.6" y="569.60" width="5.2" height="2.33" fill="#ddff21"/><rect x="141.6" y="573.36" width="5.2" height="2.33" fill="#22ffdc"/><rect x="141.6" y="577.12" width="5.2" height="2.33" fill="#81ff7d"/><rect x="141.6" y="580.88" width="5.2" height="2.33" fill="#8dff71"/><rect x="141.6" y="584.63" width="5.2" height="2.33" fill="#66ff98"/><rect x="141.6" y="588.39" width="5.2" height="2.33" fill="#afff4f"/><rect x="141.6" y="592.15" width="5.2" height="2.33" fill="#90ff6e"/><rect x="141.6" y="595.91" width="5.2" height="2.33" fill="#41ffbd"/><rect x="141.6" y="599.66" width="5.2" height="2.33" fill="#c2ff3c"/><rect x="141.6" y="603.42" width="5.2" height="2.33" fill="#b9ff45"/><rect x="141.6" y="607.18" width="5.2" height="2.33" fill="#c8ff36"/><rect x="141.6" y="610.94" width="5.2" height="2.33" fill="#e4ff1a"/><rect x="141.6" y="614.70" width="5.2" height="2.33" fill="#a8ff56"/><rect x="141.6" y="618.45" width="5.2" height="2.33" fill="#9aff64"/><rect x="141.6" y="622.21" width="5.2" height="2.33" fill="#4bffb3"/><rect x="141.6" y="625.97" width="5.2" height="2.33" fill="#b6ff48"/><rect x="141.6" y="629.73" width="5.2" height="2.33" fill="#71ff8d"/><rect x="141.6" y="633.48" width="5.2" height="2.33" fill="#7aff84"/><rect x="141.6" y="637.24" width="5.2" height="2.33" fill="#4cffb2"/>
<rect x="169.5" y="399.3" width="7.8" height="241.9" fill="#000" stroke="none" stroke-width="1" rx="0" />
<rect x="170.8" y="400.50" width="5.2" height="2.33" fill="#07fff7"/><rect x="170.8" y="404.26" width="5.2" height="2.33" fill="#26ffd8"/><rect x="170.8" y="408.02" width="5.2" height="2.33" fill="#a8ff56"/><rect x="170.8" y="411.77" width="5.2" height="2.33" fill="#00baff"/><rect x="170.8" y="415.53" width="5.2" height="2.33" fill="#00e3ff"/><rect x="170.8" y="419.29" width="5.2" height="2.33" fill="#5dffa1"/><rect x="170.8" y="423.05" width="5.2" height="2.33" fill="#b3ff4b"/><rect x="170.8" y="426.80" width="5.2" height="2.33" fill="#75ff89"/><rect x="170.8" y="430.56" width="5.2" height="2.33" fill="#00c3ff"/><rect x="170.8" y="434.32" width="5.2" height="2.33" fill="#0097ff"/><rect x="170.8" y="438.08" width="5.2" height="2.33" fill="#66ff98"/><rect x="170.8" y="441.84" width="5.2" height="2.33" fill="#17ffe7"/><rect x="170.8" y="445.59" width="5.2" height="2.33" fill="#00fbff"/><rect x="170.8" y="449.35" width="5.2" height="2.33" fill="#92ff6c"/><rect x="170.8" y="453.11" width="5.2" height="2.33" fill="#9bff63"/><rect x="170.8" y="456.87" width="5.2" height="2.33" fill="#57ffa7"/><rect x="170.8" y="460.62" width="5.2" height="2.33" fill="#5effa0"/><rect x="170.8" y="464.38" width="5.2" height="2.33" fill="#6bff93"/><rect x="170.8" y="468.14" width="5.2" height="2.33" fill="#beff40"/><rect x="170.8" y="471.90" width="5.2" height="2.33" fill="#78ff86"/><rect x="170.8" y="475.66" width="5.2" height="2.33" fill="#71ff8d"/><rect x="170.8" y="479.41" width="5.2" height="2.33" fill="#73ff8b"/><rect x="170.8" y="483.17" width="5.2" height="2.33" fill="#00dbff"/><rect x="170.8" y="486.93" width="5.2" height="2.33" fill="#a8ff56"/><rect x="170.8" y="490.69" width="5.2" height="2.33" fill="#90ff6e"/><rect x="170.8" y="494.45" width="5.2" height="2.33" fill="#72ff8c"/><rect x="170.8" y="498.20" width="5.2" height="2.33" fill="#00beff"/><rect x="170.8" y="501.96" width="5.2" height="2.33" fill="#1fffdf"/><rect x="170.8" y="505.72" width="5.2" height="2.33" fill="#88ff76"/><rect x="170.8" y="509.48" width="5.2" height="2.33" fill="#00caff"/><rect x="170.8" y="513.23" width="5.2" height="2.33" fill="#3fffbf"/><rect x="170.8" y="516.99" width="5.2" height="2.33" fill="#95ff69"/><rect x="170.8" y="520.75" width="5.2" height="2.33" fill="#00edff"/><rect x="170.8" y="524.51" width="5.2" height="2.33" fill="#bfff3f"/><rect x="170.8" y="528.27" width="5.2" height="2.33" fill="#73ff8b"/><rect x="170.8" y="532.02" width="5.2" height="2.33" fill="#41ffbd"/><rect x="170.8" y="535.78" width="5.2" height="2.33" fill="#63ff9b"/><rect x="170.8" y="539.54" width="5.2" height="2.33" fill="#7aff84"/><rect x="170.8" y="543.30" width="5.2" height="2.33" fill="#55ffa9"/><rect x="170.8" y="547.05" width="5.2" height="2.33" fill="#9eff60"/><rect x="170.8" y="550.81" width="5.2" height="2.33" fill="#1dffe1"/><rect x="170.8" y="554.57" width="5.2" height="2.33" fill="#2effd0"/><rect x="170.8" y="558.33" width="5.2" height="2.33" fill="#96ff68"/><rect x="170.8" y="562.09" width="5.2" height="2.33" fill="#4effb0"/><rect x="170.8" y="565.84" width="5.2" height="2.33" fill="#0dfff1"/><rect x="170.8" y="569.60" width="5.2" height="2.33" fill="#90ff6e"/><rect x="170.8" y="573.36" width="5.2" height="2.33" fill="#b5ff49"/><rect x="170.8" y="577.12" width="5.2" height="2.33" fill="#2cffd2"/><rect x="170.8" y="580.88" width="5.2" height="2.33" fill="#00e8ff"/><rect x="170.8" y="584.63" width="5.2" height="2.33" fill="#42ffbc"/><rect x="170.8" y="588.39" width="5.2" height="2.33" fill="#41ffbd"/><rect x="170.8" y="592.15" width="5.2" height="2.33" fill="#37ffc7"/><rect x="170.8" y="595.91" width="5.2" height="2.33" fill="#b0ff4e"/><rect x="170.8" y="599.66" width="5.2" height="2.33" fill="#03fffb"/><rect x="170.8" y="603.42" width="5.2" height="2.33" fill="#a6ff58"/><rect x="170.8" y="607.18" width="5.2" height="2.33" fill="#00f0ff"/><rect x="170.8" y="610.94" width="5.2" height="2.33" fill="#14ffea"/><rect x="170.8" y="614.70" width="5.2" height="2.33" fill="#79ff85"/><rect x="170.8" y="618.45" width="5.2" height="2.33" fill="#9dff61"/><rect x="170.8" y="622.21" width="5.2" height="2.33" fill="#89ff75"/><rect x="170.8" y="625.97" width="5.2" height="2.33" fill="#65ff99"/><rect x="170.8" y="629.73" width="5.2" height="2.33" fill="#56ffa8"/><rect x="170.8" y="633.48" width="5.2" height="2.33" fill="#57ffa7"/><rect x="170.8" y="637.24" width="5.2" height="2.33" fill="#75ff89"/>
<rect x="198.7" y="399.3" width="7.8" height="241.9" fill="#000" stroke="none" stroke-width="1" rx="0" />
<rect x="200.0" y="400.50" width="5.2" height="2.33" fill="#7cff82"/><rect x="200.0" y="404.26" width="5.2" height="2.33" fill="#fff600"/><rect x="200.0" y="408.02" width="5.2" height="2.33" fill="#ff9c00"/><rect x="200.0" y="411.77" width="5.2" height="2.33" fill="#b2ff4c"/><rect x="200.0" y="415.53" width="5.2" height="2.33" fill="#ff6100"/><rect x="200.0" y="419.29" width="5.2" height="2.33" fill="#ff9e00"/><rect x="200.0" y="423.05" width="5.2" height="2.33" fill="#9e0000"/><rect x="200.0" y="426.80" width="5.2" height="2.33" fill="#ffe800"/><rect x="200.0" y="430.56" width="5.2" height="2.33" fill="#2fffcf"/><rect x="200.0" y="434.32" width="5.2" height="2.33" fill="#40ffbe"/><rect x="200.0" y="438.08" width="5.2" height="2.33" fill="#aeff50"/><rect x="200.0" y="441.84" width="5.2" height="2.33" fill="#ff3000"/><rect x="200.0" y="445.59" width="5.2" height="2.33" fill="#4bffb3"/><rect x="200.0" y="449.35" width="5.2" height="2.33" fill="#ffd500"/><rect x="200.0" y="453.11" width="5.2" height="2.33" fill="#9e0000"/><rect x="200.0" y="456.87" width="5.2" height="2.33" fill="#0000bc"/><rect x="200.0" y="460.62" width="5.2" height="2.33" fill="#0059ff"/><rect x="200.0" y="464.38" width="5.2" height="2.33" fill="#fdff01"/><rect x="200.0" y="468.14" width="5.2" height="2.33" fill="#ffd100"/><rect x="200.0" y="471.90" width="5.2" height="2.33" fill="#fbff03"/><rect x="200.0" y="475.66" width="5.2" height="2.33" fill="#2effd0"/><rect x="200.0" y="479.41" width="5.2" height="2.33" fill="#ff8300"/><rect x="200.0" y="483.17" width="5.2" height="2.33" fill="#fff500"/><rect x="200.0" y="486.93" width="5.2" height="2.33" fill="#12ffec"/><rect x="200.0" y="490.69" width="5.2" height="2.33" fill="#9e0000"/><rect x="200.0" y="494.45" width="5.2" height="2.33" fill="#ffde00"/><rect x="200.0" y="498.20" width="5.2" height="2.33" fill="#08fff6"/><rect x="200.0" y="501.96" width="5.2" height="2.33" fill="#94ff6a"/><rect x="200.0" y="505.72" width="5.2" height="2.33" fill="#6dff91"/><rect x="200.0" y="509.48" width="5.2" height="2.33" fill="#9fff5f"/><rect x="200.0" y="513.23" width="5.2" height="2.33" fill="#0000bc"/><rect x="200.0" y="516.99" width="5.2" height="2.33" fill="#1dffe1"/><rect x="200.0" y="520.75" width="5.2" height="2.33" fill="#ff1600"/><rect x="200.0" y="524.51" width="5.2" height="2.33" fill="#004bff"/><rect x="200.0" y="528.27" width="5.2" height="2.33" fill="#9eff60"/><rect x="200.0" y="532.02" width="5.2" height="2.33" fill="#ff2700"/><rect x="200.0" y="535.78" width="5.2" height="2.33" fill="#ff4500"/><rect x="200.0" y="539.54" width="5.2" height="2.33" fill="#9e0000"/><rect x="200.0" y="543.30" width="5.2" height="2.33" fill="#0000bc"/><rect x="200.0" y="547.05" width="5.2" height="2.33" fill="#46ffb8"/><rect x="200.0" y="550.81" width="5.2" height="2.33" fill="#4affb4"/><rect x="200.0" y="554.57" width="5.2" height="2.33" fill="#ff8c00"/><rect x="200.0" y="558.33" width="5.2" height="2.33" fill="#fc0000"/><rect x="200.0" y="562.09" width="5.2" height="2.33" fill="#0000bc"/><rect x="200.0" y="565.84" width="5.2" height="2.33" fill="#fd0000"/><rect x="200.0" y="569.60" width="5.2" height="2.33" fill="#0000f5"/><rect x="200.0" y="573.36" width="5.2" height="2.33" fill="#ff7a00"/><rect x="200.0" y="577.12" width="5.2" height="2.33" fill="#0000e7"/><rect x="200.0" y="580.88" width="5.2" height="2.33" fill="#e8ff16"/><rect x="200.0" y="584.63" width="5.2" height="2.33" fill="#dc0000"/><rect x="200.0" y="588.39" width="5.2" height="2.33" fill="#84ff7a"/><rect x="200.0" y="592.15" width="5.2" height="2.33" fill="#ecff12"/><rect x="200.0" y="595.91" width="5.2" height="2.33" fill="#ff5700"/><rect x="200.0" y="599.66" width="5.2" height="2.33" fill="#ddff21"/><rect x="200.0" y="603.42" width="5.2" height="2.33" fill="#97ff67"/><rect x="200.0" y="607.18" width="5.2" height="2.33" fill="#9e0000"/><rect x="200.0" y="610.94" width="5.2" height="2.33" fill="#ff0a00"/><rect x="200.0" y="614.70" width="5.2" height="2.33" fill="#58ffa6"/><rect x="200.0" y="618.45" width="5.2" height="2.33" fill="#9e0000"/><rect x="200.0" y="622.21" width="5.2" height="2.33" fill="#0052ff"/><rect x="200.0" y="625.97" width="5.2" height="2.33" fill="#ff3300"/><rect x="200.0" y="629.73" width="5.2" height="2.33" fill="#61ff9d"/><rect x="200.0" y="633.48" width="5.2" height="2.33" fill="#dbff23"/><rect x="200.0" y="637.24" width="5.2" height="2.33" fill="#ff7300"/>
<rect x="227.9" y="399.3" width="7.8" height="241.9" fill="#000" stroke="none" stroke-width="1" rx="0" />
<rect x="229.2" y="400.50" width="5.2" height="2.33" fill="#97ff67"/><rect x="229.2" y="404.26" width="5.2" height="2.33" fill="#ffda00"/><rect x="229.2" y="408.02" width="5.2" height="2.33" fill="#008dff"/><rect x="229.2" y="411.77" width="5.2" height="2.33" fill="#004aff"/><rect x="229.2" y="415.53" width="5.2" height="2.33" fill="#ffa300"/><rect x="229.2" y="419.29" width="5.2" height="2.33" fill="#00fffe"/><rect x="229.2" y="423.05" width="5.2" height="2.33" fill="#59ffa5"/><rect x="229.2" y="426.80" width="5.2" height="2.33" fill="#007aff"/><rect x="229.2" y="430.56" width="5.2" height="2.33" fill="#ffb000"/><rect x="229.2" y="434.32" width="5.2" height="2.33" fill="#eaff14"/><rect x="229.2" y="438.08" width="5.2" height="2.33" fill="#ff5300"/><rect x="229.2" y="441.84" width="5.2" height="2.33" fill="#31ffcd"/><rect x="229.2" y="445.59" width="5.2" height="2.33" fill="#56ffa8"/><rect x="229.2" y="449.35" width="5.2" height="2.33" fill="#00c5ff"/><rect x="229.2" y="453.11" width="5.2" height="2.33" fill="#ff3600"/><rect x="229.2" y="456.87" width="5.2" height="2.33" fill="#fbff03"/><rect x="229.2" y="460.62" width="5.2" height="2.33" fill="#003fff"/><rect x="229.2" y="464.38" width="5.2" height="2.33" fill="#ff2200"/><rect x="229.2" y="468.14" width="5.2" height="2.33" fill="#ff8400"/><rect x="229.2" y="471.90" width="5.2" height="2.33" fill="#78ff86"/><rect x="229.2" y="475.66" width="5.2" height="2.33" fill="#0000bc"/><rect x="229.2" y="479.41" width="5.2" height="2.33" fill="#ff0f00"/><rect x="229.2" y="483.17" width="5.2" height="2.33" fill="#8eff70"/><rect x="229.2" y="486.93" width="5.2" height="2.33" fill="#00c3ff"/><rect x="229.2" y="490.69" width="5.2" height="2.33" fill="#ff8100"/><rect x="229.2" y="494.45" width="5.2" height="2.33" fill="#feff00"/><rect x="229.2" y="498.20" width="5.2" height="2.33" fill="#ff9000"/><rect x="229.2" y="501.96" width="5.2" height="2.33" fill="#00a2ff"/><rect x="229.2" y="505.72" width="5.2" height="2.33" fill="#ffb200"/><rect x="229.2" y="509.48" width="5.2" height="2.33" fill="#ff5600"/><rect x="229.2" y="513.23" width="5.2" height="2.33" fill="#dfff1f"/><rect x="229.2" y="516.99" width="5.2" height="2.33" fill="#1fffdf"/><rect x="229.2" y="520.75" width="5.2" height="2.33" fill="#63ff9b"/><rect x="229.2" y="524.51" width="5.2" height="2.33" fill="#c0ff3e"/><rect x="229.2" y="528.27" width="5.2" height="2.33" fill="#8eff70"/><rect x="229.2" y="532.02" width="5.2" height="2.33" fill="#fff000"/><rect x="229.2" y="535.78" width="5.2" height="2.33" fill="#f20000"/><rect x="229.2" y="539.54" width="5.2" height="2.33" fill="#f5ff09"/><rect x="229.2" y="543.30" width="5.2" height="2.33" fill="#0000bc"/><rect x="229.2" y="547.05" width="5.2" height="2.33" fill="#05fff9"/><rect x="229.2" y="550.81" width="5.2" height="2.33" fill="#0000d9"/><rect x="229.2" y="554.57" width="5.2" height="2.33" fill="#ff8b00"/><rect x="229.2" y="558.33" width="5.2" height="2.33" fill="#ffb800"/><rect x="229.2" y="562.09" width="5.2" height="2.33" fill="#0039ff"/><rect x="229.2" y="565.84" width="5.2" height="2.33" fill="#fffb00"/><rect x="229.2" y="569.60" width="5.2" height="2.33" fill="#78ff86"/><rect x="229.2" y="573.36" width="5.2" height="2.33" fill="#e3ff1b"/><rect x="229.2" y="577.12" width="5.2" height="2.33" fill="#d7ff27"/><rect x="229.2" y="580.88" width="5.2" height="2.33" fill="#88ff76"/><rect x="229.2" y="584.63" width="5.2" height="2.33" fill="#ff1800"/><rect x="229.2" y="588.39" width="5.2" height="2.33" fill="#ff6000"/><rect x="229.2" y="592.15" width="5.2" height="2.33" fill="#ff1e00"/><rect x="229.2" y="595.91" width="5.2" height="2.33" fill="#58ffa6"/><rect x="229.2" y="599.66" width="5.2" height="2.33" fill="#ffb900"/><rect x="229.2" y="603.42" width="5.2" height="2.33" fill="#0000f3"/><rect x="229.2" y="607.18" width="5.2" height="2.33" fill="#4dffb1"/><rect x="229.2" y="610.94" width="5.2" height="2.33" fill="#006eff"/><rect x="229.2" y="614.70" width="5.2" height="2.33" fill="#ffc800"/><rect x="229.2" y="618.45" width="5.2" height="2.33" fill="#2fffcf"/><rect x="229.2" y="622.21" width="5.2" height="2.33" fill="#00efff"/><rect x="229.2" y="625.97" width="5.2" height="2.33" fill="#c8ff36"/><rect x="229.2" y="629.73" width="5.2" height="2.33" fill="#59ffa5"/><rect x="229.2" y="633.48" width="5.2" height="2.33" fill="#17ffe7"/><rect x="229.2" y="637.24" width="5.2" height="2.33" fill="#fff800"/>
<rect x="257.1" y="399.3" width="7.8" height="241.9" fill="#000" stroke="none" stroke-width="1" rx="0" />
<rect x="258.4" y="400.50" width="5.2" height="2.33" fill="#fbff03"/><rect x="258.4" y="404.26" width="5.2" height="2.33" fill="#ffe200"/><rect x="258.4" y="408.02" width="5.2" height="2.33" fill="#00bcff"/><rect x="258.4" y="411.77" width="5.2" height="2.33" fill="#0099ff"/><rect x="258.4" y="415.53" width="5.2" height="2.33" fill="#ffbc00"/><rect x="258.4" y="419.29" width="5.2" height="2.33" fill="#00c2ff"/><rect x="258.4" y="423.05" width="5.2" height="2.33" fill="#3dffc1"/><rect x="258.4" y="426.80" width="5.2" height="2.33" fill="#00c9ff"/><rect x="258.4" y="430.56" width="5.2" height="2.33" fill="#e3ff1b"/><rect x="258.4" y="434.32" width="5.2" height="2.33" fill="#c2ff3c"/><rect x="258.4" y="438.08" width="5.2" height="2.33" fill="#ff2e00"/><rect x="258.4" y="441.84" width="5.2" height="2.33" fill="#64ff9a"/><rect x="258.4" y="445.59" width="5.2" height="2.33" fill="#5affa4"/><rect x="258.4" y="449.35" width="5.2" height="2.33" fill="#01fffd"/><rect x="258.4" y="453.11" width="5.2" height="2.33" fill="#ff4300"/><rect x="258.4" y="456.87" width="5.2" height="2.33" fill="#b2ff4c"/><rect x="258.4" y="460.62" width="5.2" height="2.33" fill="#0000fd"/><rect x="258.4" y="464.38" width="5.2" height="2.33" fill="#ff5d00"/><rect x="258.4" y="468.14" width="5.2" height="2.33" fill="#ff6000"/><rect x="258.4" y="471.90" width="5.2" height="2.33" fill="#5affa4"/><rect x="258.4" y="475.66" width="5.2" height="2.33" fill="#0000d1"/><rect x="258.4" y="479.41" width="5.2" height="2.33" fill="#ff5300"/><rect x="258.4" y="483.17" width="5.2" height="2.33" fill="#38ffc6"/><rect x="258.4" y="486.93" width="5.2" height="2.33" fill="#00cbff"/><rect x="258.4" y="490.69" width="5.2" height="2.33" fill="#ffd400"/><rect x="258.4" y="494.45" width="5.2" height="2.33" fill="#fff200"/><rect x="258.4" y="498.20" width="5.2" height="2.33" fill="#d9ff25"/><rect x="258.4" y="501.96" width="5.2" height="2.33" fill="#00c5ff"/><rect x="258.4" y="505.72" width="5.2" height="2.33" fill="#ffe300"/><rect x="258.4" y="509.48" width="5.2" height="2.33" fill="#ffd700"/><rect x="258.4" y="513.23" width="5.2" height="2.33" fill="#fffb00"/><rect x="258.4" y="516.99" width="5.2" height="2.33" fill="#17ffe7"/><rect x="258.4" y="520.75" width="5.2" height="2.33" fill="#00e8ff"/><rect x="258.4" y="524.51" width="5.2" height="2.33" fill="#8bff73"/><rect x="258.4" y="528.27" width="5.2" height="2.33" fill="#9fff5f"/><rect x="258.4" y="532.02" width="5.2" height="2.33" fill="#eaff14"/><rect x="258.4" y="535.78" width="5.2" height="2.33" fill="#e10000"/><rect x="258.4" y="539.54" width="5.2" height="2.33" fill="#ffe600"/><rect x="258.4" y="543.30" width="5.2" height="2.33" fill="#0003ff"/><rect x="258.4" y="547.05" width="5.2" height="2.33" fill="#21ffdd"/><rect x="258.4" y="550.81" width="5.2" height="2.33" fill="#0043ff"/><rect x="258.4" y="554.57" width="5.2" height="2.33" fill="#ff7600"/><rect x="258.4" y="558.33" width="5.2" height="2.33" fill="#ffab00"/><rect x="258.4" y="562.09" width="5.2" height="2.33" fill="#0000db"/><rect x="258.4" y="565.84" width="5.2" height="2.33" fill="#ffd100"/><rect x="258.4" y="569.60" width="5.2" height="2.33" fill="#c3ff3b"/><rect x="258.4" y="573.36" width="5.2" height="2.33" fill="#ccff32"/><rect x="258.4" y="577.12" width="5.2" height="2.33" fill="#b7ff47"/><rect x="258.4" y="580.88" width="5.2" height="2.33" fill="#f5ff09"/><rect x="258.4" y="584.63" width="5.2" height="2.33" fill="#ff9200"/><rect x="258.4" y="588.39" width="5.2" height="2.33" fill="#ff5900"/><rect x="258.4" y="592.15" width="5.2" height="2.33" fill="#b20000"/><rect x="258.4" y="595.91" width="5.2" height="2.33" fill="#27ffd7"/><rect x="258.4" y="599.66" width="5.2" height="2.33" fill="#ff9f00"/><rect x="258.4" y="603.42" width="5.2" height="2.33" fill="#007bff"/><rect x="258.4" y="607.18" width="5.2" height="2.33" fill="#4bffb3"/><rect x="258.4" y="610.94" width="5.2" height="2.33" fill="#00a1ff"/><rect x="258.4" y="614.70" width="5.2" height="2.33" fill="#ffa100"/><rect x="258.4" y="618.45" width="5.2" height="2.33" fill="#03fffb"/><rect x="258.4" y="622.21" width="5.2" height="2.33" fill="#00f5ff"/><rect x="258.4" y="625.97" width="5.2" height="2.33" fill="#d4ff2a"/><rect x="258.4" y="629.73" width="5.2" height="2.33" fill="#8bff73"/><rect x="258.4" y="633.48" width="5.2" height="2.33" fill="#1dffe1"/><rect x="258.4" y="637.24" width="5.2" height="2.33" fill="#f2ff0c"/>
<rect x="286.3" y="399.3" width="7.8" height="241.9" fill="#000" stroke="none" stroke-width="1" rx="0" />
<rect x="287.6" y="400.50" width="5.2" height="2.33" fill="#baff44"/><rect x="287.6" y="404.26" width="5.2" height="2.33" fill="#fdff01"/><rect x="287.6" y="408.02" width="5.2" height="2.33" fill="#00fdff"/><rect x="287.6" y="411.77" width="5.2" height="2.33" fill="#00b0ff"/><rect x="287.6" y="415.53" width="5.2" height="2.33" fill="#fff900"/><rect x="287.6" y="419.29" width="5.2" height="2.33" fill="#00a1ff"/><rect x="287.6" y="423.05" width="5.2" height="2.33" fill="#d9ff25"/><rect x="287.6" y="426.80" width="5.2" height="2.33" fill="#18ffe6"/><rect x="287.6" y="430.56" width="5.2" height="2.33" fill="#fffc00"/><rect x="287.6" y="434.32" width="5.2" height="2.33" fill="#2dffd1"/><rect x="287.6" y="438.08" width="5.2" height="2.33" fill="#ff2200"/><rect x="287.6" y="441.84" width="5.2" height="2.33" fill="#82ff7c"/><rect x="287.6" y="445.59" width="5.2" height="2.33" fill="#bcff42"/><rect x="287.6" y="449.35" width="5.2" height="2.33" fill="#23ffdb"/><rect x="287.6" y="453.11" width="5.2" height="2.33" fill="#ff5c00"/><rect x="287.6" y="456.87" width="5.2" height="2.33" fill="#ccff32"/><rect x="287.6" y="460.62" width="5.2" height="2.33" fill="#0000d1"/><rect x="287.6" y="464.38" width="5.2" height="2.33" fill="#ff3600"/><rect x="287.6" y="468.14" width="5.2" height="2.33" fill="#ff6100"/><rect x="287.6" y="471.90" width="5.2" height="2.33" fill="#36ffc8"/><rect x="287.6" y="475.66" width="5.2" height="2.33" fill="#003bff"/><rect x="287.6" y="479.41" width="5.2" height="2.33" fill="#ff0100"/><rect x="287.6" y="483.17" width="5.2" height="2.33" fill="#00eeff"/><rect x="287.6" y="486.93" width="5.2" height="2.33" fill="#00b3ff"/><rect x="287.6" y="490.69" width="5.2" height="2.33" fill="#ffcf00"/><rect x="287.6" y="494.45" width="5.2" height="2.33" fill="#fff100"/><rect x="287.6" y="498.20" width="5.2" height="2.33" fill="#bdff41"/><rect x="287.6" y="501.96" width="5.2" height="2.33" fill="#009cff"/><rect x="287.6" y="505.72" width="5.2" height="2.33" fill="#ff7600"/><rect x="287.6" y="509.48" width="5.2" height="2.33" fill="#ffa700"/><rect x="287.6" y="513.23" width="5.2" height="2.33" fill="#b7ff47"/><rect x="287.6" y="516.99" width="5.2" height="2.33" fill="#00d3ff"/><rect x="287.6" y="520.75" width="5.2" height="2.33" fill="#54ffaa"/><rect x="287.6" y="524.51" width="5.2" height="2.33" fill="#c3ff3b"/><rect x="287.6" y="528.27" width="5.2" height="2.33" fill="#fff900"/><rect x="287.6" y="532.02" width="5.2" height="2.33" fill="#ffec00"/><rect x="287.6" y="535.78" width="5.2" height="2.33" fill="#ff2e00"/><rect x="287.6" y="539.54" width="5.2" height="2.33" fill="#ffe100"/><rect x="287.6" y="543.30" width="5.2" height="2.33" fill="#0000d1"/><rect x="287.6" y="547.05" width="5.2" height="2.33" fill="#00fdff"/><rect x="287.6" y="550.81" width="5.2" height="2.33" fill="#0057ff"/><rect x="287.6" y="554.57" width="5.2" height="2.33" fill="#ff6a00"/><rect x="287.6" y="558.33" width="5.2" height="2.33" fill="#ffe200"/><rect x="287.6" y="562.09" width="5.2" height="2.33" fill="#0000f3"/><rect x="287.6" y="565.84" width="5.2" height="2.33" fill="#ffc200"/><rect x="287.6" y="569.60" width="5.2" height="2.33" fill="#d4ff2a"/><rect x="287.6" y="573.36" width="5.2" height="2.33" fill="#ecff12"/><rect x="287.6" y="577.12" width="5.2" height="2.33" fill="#c0ff3e"/><rect x="287.6" y="580.88" width="5.2" height="2.33" fill="#dcff22"/><rect x="287.6" y="584.63" width="5.2" height="2.33" fill="#ff7500"/><rect x="287.6" y="588.39" width="5.2" height="2.33" fill="#ff6900"/><rect x="287.6" y="592.15" width="5.2" height="2.33" fill="#ff0000"/><rect x="287.6" y="595.91" width="5.2" height="2.33" fill="#0bfff3"/><rect x="287.6" y="599.66" width="5.2" height="2.33" fill="#ffae00"/><rect x="287.6" y="603.42" width="5.2" height="2.33" fill="#0088ff"/><rect x="287.6" y="607.18" width="5.2" height="2.33" fill="#59ffa5"/><rect x="287.6" y="610.94" width="5.2" height="2.33" fill="#00b2ff"/><rect x="287.6" y="614.70" width="5.2" height="2.33" fill="#ffa600"/><rect x="287.6" y="618.45" width="5.2" height="2.33" fill="#05fff9"/><rect x="287.6" y="622.21" width="5.2" height="2.33" fill="#00b9ff"/><rect x="287.6" y="625.97" width="5.2" height="2.33" fill="#e7ff17"/><rect x="287.6" y="629.73" width="5.2" height="2.33" fill="#c6ff38"/><rect x="287.6" y="633.48" width="5.2" height="2.33" fill="#3dffc1"/><rect x="287.6" y="637.24" width="5.2" height="2.33" fill="#e0ff1e"/>
<rect x="315.5" y="399.3" width="7.8" height="241.9" fill="#000" stroke="none" stroke-width="1" rx="0" />
<rect x="316.8" y="400.50" width="5.2" height="2.33" fill="#d0ff2e"/><rect x="316.8" y="404.26" width="5.2" height="2.33" fill="#bfff3f"/><rect x="316.8" y="408.02" width="5.2" height="2.33" fill="#009dff"/><rect x="316.8" y="411.77" width="5.2" height="2.33" fill="#00c2ff"/><rect x="316.8" y="415.53" width="5.2" height="2.33" fill="#c8ff36"/><rect x="316.8" y="419.29" width="5.2" height="2.33" fill="#00dbff"/><rect x="316.8" y="423.05" width="5.2" height="2.33" fill="#97ff67"/><rect x="316.8" y="426.80" width="5.2" height="2.33" fill="#008cff"/><rect x="316.8" y="430.56" width="5.2" height="2.33" fill="#bfff3f"/><rect x="316.8" y="434.32" width="5.2" height="2.33" fill="#8cff72"/><rect x="316.8" y="438.08" width="5.2" height="2.33" fill="#ff4f00"/><rect x="316.8" y="441.84" width="5.2" height="2.33" fill="#36ffc8"/><rect x="316.8" y="445.59" width="5.2" height="2.33" fill="#8eff70"/><rect x="316.8" y="449.35" width="5.2" height="2.33" fill="#47ffb7"/><rect x="316.8" y="453.11" width="5.2" height="2.33" fill="#ff5300"/><rect x="316.8" y="456.87" width="5.2" height="2.33" fill="#d2ff2c"/><rect x="316.8" y="460.62" width="5.2" height="2.33" fill="#0044ff"/><rect x="316.8" y="464.38" width="5.2" height="2.33" fill="#ff2500"/><rect x="316.8" y="468.14" width="5.2" height="2.33" fill="#ff7500"/><rect x="316.8" y="471.90" width="5.2" height="2.33" fill="#5effa0"/><rect x="316.8" y="475.66" width="5.2" height="2.33" fill="#00afff"/><rect x="316.8" y="479.41" width="5.2" height="2.33" fill="#e30000"/><rect x="316.8" y="483.17" width="5.2" height="2.33" fill="#34ffca"/><rect x="316.8" y="486.93" width="5.2" height="2.33" fill="#0085ff"/><rect x="316.8" y="490.69" width="5.2" height="2.33" fill="#ffe200"/><rect x="316.8" y="494.45" width="5.2" height="2.33" fill="#ffd100"/><rect x="316.8" y="498.20" width="5.2" height="2.33" fill="#a9ff55"/><rect x="316.8" y="501.96" width="5.2" height="2.33" fill="#00e9ff"/><rect x="316.8" y="505.72" width="5.2" height="2.33" fill="#ff6600"/><rect x="316.8" y="509.48" width="5.2" height="2.33" fill="#ff8200"/><rect x="316.8" y="513.23" width="5.2" height="2.33" fill="#a8ff56"/><rect x="316.8" y="516.99" width="5.2" height="2.33" fill="#70ff8e"/><rect x="316.8" y="520.75" width="5.2" height="2.33" fill="#9dff61"/><rect x="316.8" y="524.51" width="5.2" height="2.33" fill="#b3ff4b"/><rect x="316.8" y="528.27" width="5.2" height="2.33" fill="#fffd00"/><rect x="316.8" y="532.02" width="5.2" height="2.33" fill="#ff6300"/><rect x="316.8" y="535.78" width="5.2" height="2.33" fill="#ff5800"/><rect x="316.8" y="539.54" width="5.2" height="2.33" fill="#ffba00"/><rect x="316.8" y="543.30" width="5.2" height="2.33" fill="#0028ff"/><rect x="316.8" y="547.05" width="5.2" height="2.33" fill="#09fff5"/><rect x="316.8" y="550.81" width="5.2" height="2.33" fill="#002bff"/><rect x="316.8" y="554.57" width="5.2" height="2.33" fill="#ff7200"/><rect x="316.8" y="558.33" width="5.2" height="2.33" fill="#ffd800"/><rect x="316.8" y="562.09" width="5.2" height="2.33" fill="#0050ff"/><rect x="316.8" y="565.84" width="5.2" height="2.33" fill="#ffa200"/><rect x="316.8" y="569.60" width="5.2" height="2.33" fill="#d1ff2d"/><rect x="316.8" y="573.36" width="5.2" height="2.33" fill="#ffe800"/><rect x="316.8" y="577.12" width="5.2" height="2.33" fill="#dbff23"/><rect x="316.8" y="580.88" width="5.2" height="2.33" fill="#e2ff1c"/><rect x="316.8" y="584.63" width="5.2" height="2.33" fill="#ff8400"/><rect x="316.8" y="588.39" width="5.2" height="2.33" fill="#ff8900"/><rect x="316.8" y="592.15" width="5.2" height="2.33" fill="#f30000"/><rect x="316.8" y="595.91" width="5.2" height="2.33" fill="#00d8ff"/><rect x="316.8" y="599.66" width="5.2" height="2.33" fill="#ffdf00"/><rect x="316.8" y="603.42" width="5.2" height="2.33" fill="#009aff"/><rect x="316.8" y="607.18" width="5.2" height="2.33" fill="#0afff4"/><rect x="316.8" y="610.94" width="5.2" height="2.33" fill="#00a9ff"/><rect x="316.8" y="614.70" width="5.2" height="2.33" fill="#d9ff25"/><rect x="316.8" y="618.45" width="5.2" height="2.33" fill="#00e7ff"/><rect x="316.8" y="622.21" width="5.2" height="2.33" fill="#00e8ff"/><rect x="316.8" y="625.97" width="5.2" height="2.33" fill="#fffd00"/><rect x="316.8" y="629.73" width="5.2" height="2.33" fill="#bfff3f"/><rect x="316.8" y="633.48" width="5.2" height="2.33" fill="#36ffc8"/><rect x="316.8" y="637.24" width="5.2" height="2.33" fill="#8bff73"/>
<rect x="344.7" y="399.3" width="7.8" height="241.9" fill="#000" stroke="none" stroke-width="1" rx="0" />
<rect x="346.0" y="400.50" width="5.2" height="2.33" fill="#ffcb00"/><rect x="346.0" y="404.26" width="5.2" height="2.33" fill="#d9ff25"/><rect x="346.0" y="408.02" width="5.2" height="2.33" fill="#00ebff"/><rect x="346.0" y="411.77" width="5.2" height="2.33" fill="#009fff"/><rect x="346.0" y="415.53" width="5.2" height="2.33" fill="#b9ff45"/><rect x="346.0" y="419.29" width="5.2" height="2.33" fill="#0081ff"/><rect x="346.0" y="423.05" width="5.2" height="2.33" fill="#c2ff3c"/><rect x="346.0" y="426.80" width="5.2" height="2.33" fill="#00d2ff"/><rect x="346.0" y="430.56" width="5.2" height="2.33" fill="#51ffad"/><rect x="346.0" y="434.32" width="5.2" height="2.33" fill="#89ff75"/><rect x="346.0" y="438.08" width="5.2" height="2.33" fill="#ff4000"/><rect x="346.0" y="441.84" width="5.2" height="2.33" fill="#00d8ff"/><rect x="346.0" y="445.59" width="5.2" height="2.33" fill="#28ffd6"/><rect x="346.0" y="449.35" width="5.2" height="2.33" fill="#11ffed"/><rect x="346.0" y="453.11" width="5.2" height="2.33" fill="#ff8a00"/><rect x="346.0" y="456.87" width="5.2" height="2.33" fill="#7eff80"/><rect x="346.0" y="460.62" width="5.2" height="2.33" fill="#005dff"/><rect x="346.0" y="464.38" width="5.2" height="2.33" fill="#ff2e00"/><rect x="346.0" y="468.14" width="5.2" height="2.33" fill="#ff6300"/><rect x="346.0" y="471.90" width="5.2" height="2.33" fill="#88ff76"/><rect x="346.0" y="475.66" width="5.2" height="2.33" fill="#14ffea"/><rect x="346.0" y="479.41" width="5.2" height="2.33" fill="#be0000"/><rect x="346.0" y="483.17" width="5.2" height="2.33" fill="#00efff"/><rect x="346.0" y="486.93" width="5.2" height="2.33" fill="#007bff"/><rect x="346.0" y="490.69" width="5.2" height="2.33" fill="#d6ff28"/><rect x="346.0" y="494.45" width="5.2" height="2.33" fill="#e5ff19"/><rect x="346.0" y="498.20" width="5.2" height="2.33" fill="#a3ff5b"/><rect x="346.0" y="501.96" width="5.2" height="2.33" fill="#00f4ff"/><rect x="346.0" y="505.72" width="5.2" height="2.33" fill="#ff5d00"/><rect x="346.0" y="509.48" width="5.2" height="2.33" fill="#ffec00"/><rect x="346.0" y="513.23" width="5.2" height="2.33" fill="#61ff9d"/><rect x="346.0" y="516.99" width="5.2" height="2.33" fill="#70ff8e"/><rect x="346.0" y="520.75" width="5.2" height="2.33" fill="#91ff6d"/><rect x="346.0" y="524.51" width="5.2" height="2.33" fill="#9fff5f"/><rect x="346.0" y="528.27" width="5.2" height="2.33" fill="#f5ff09"/><rect x="346.0" y="532.02" width="5.2" height="2.33" fill="#ffa100"/><rect x="346.0" y="535.78" width="5.2" height="2.33" fill="#ff4400"/><rect x="346.0" y="539.54" width="5.2" height="2.33" fill="#ffb200"/><rect x="346.0" y="543.30" width="5.2" height="2.33" fill="#003cff"/><rect x="346.0" y="547.05" width="5.2" height="2.33" fill="#00ebff"/><rect x="346.0" y="550.81" width="5.2" height="2.33" fill="#003aff"/><rect x="346.0" y="554.57" width="5.2" height="2.33" fill="#e1ff1d"/><rect x="346.0" y="558.33" width="5.2" height="2.33" fill="#e4ff1a"/><rect x="346.0" y="562.09" width="5.2" height="2.33" fill="#0068ff"/><rect x="346.0" y="565.84" width="5.2" height="2.33" fill="#f8ff06"/><rect x="346.0" y="569.60" width="5.2" height="2.33" fill="#d7ff27"/><rect x="346.0" y="573.36" width="5.2" height="2.33" fill="#ffe900"/><rect x="346.0" y="577.12" width="5.2" height="2.33" fill="#88ff76"/><rect x="346.0" y="580.88" width="5.2" height="2.33" fill="#ceff30"/><rect x="346.0" y="584.63" width="5.2" height="2.33" fill="#ffa600"/><rect x="346.0" y="588.39" width="5.2" height="2.33" fill="#ff8000"/><rect x="346.0" y="592.15" width="5.2" height="2.33" fill="#eb0000"/><rect x="346.0" y="595.91" width="5.2" height="2.33" fill="#00e3ff"/><rect x="346.0" y="599.66" width="5.2" height="2.33" fill="#e4ff1a"/><rect x="346.0" y="603.42" width="5.2" height="2.33" fill="#00a3ff"/><rect x="346.0" y="607.18" width="5.2" height="2.33" fill="#10ffee"/><rect x="346.0" y="610.94" width="5.2" height="2.33" fill="#00e2ff"/><rect x="346.0" y="614.70" width="5.2" height="2.33" fill="#e4ff1a"/><rect x="346.0" y="618.45" width="5.2" height="2.33" fill="#00caff"/><rect x="346.0" y="622.21" width="5.2" height="2.33" fill="#00a7ff"/><rect x="346.0" y="625.97" width="5.2" height="2.33" fill="#e3ff1b"/><rect x="346.0" y="629.73" width="5.2" height="2.33" fill="#92ff6c"/><rect x="346.0" y="633.48" width="5.2" height="2.33" fill="#00fdff"/><rect x="346.0" y="637.24" width="5.2" height="2.33" fill="#84ff7a"/>
<rect x="373.9" y="399.3" width="7.8" height="241.9" fill="#000" stroke="none" stroke-width="1" rx="0" />
<rect x="375.2" y="400.50" width="5.2" height="2.33" fill="#fff200"/><rect x="375.2" y="404.26" width="5.2" height="2.33" fill="#d9ff25"/><rect x="375.2" y="408.02" width="5.2" height="2.33" fill="#14ffea"/><rect x="375.2" y="411.77" width="5.2" height="2.33" fill="#0099ff"/><rect x="375.2" y="415.53" width="5.2" height="2.33" fill="#ffc400"/><rect x="375.2" y="419.29" width="5.2" height="2.33" fill="#0082ff"/><rect x="375.2" y="423.05" width="5.2" height="2.33" fill="#fcff02"/><rect x="375.2" y="426.80" width="5.2" height="2.33" fill="#00e6ff"/><rect x="375.2" y="430.56" width="5.2" height="2.33" fill="#94ff6a"/><rect x="375.2" y="434.32" width="5.2" height="2.33" fill="#04fffa"/><rect x="375.2" y="438.08" width="5.2" height="2.33" fill="#ff7f00"/><rect x="375.2" y="441.84" width="5.2" height="2.33" fill="#00f2ff"/><rect x="375.2" y="445.59" width="5.2" height="2.33" fill="#51ffad"/><rect x="375.2" y="449.35" width="5.2" height="2.33" fill="#9cff62"/><rect x="375.2" y="453.11" width="5.2" height="2.33" fill="#ff8800"/><rect x="375.2" y="456.87" width="5.2" height="2.33" fill="#c7ff37"/><rect x="375.2" y="460.62" width="5.2" height="2.33" fill="#009dff"/><rect x="375.2" y="464.38" width="5.2" height="2.33" fill="#ff0f00"/><rect x="375.2" y="468.14" width="5.2" height="2.33" fill="#ff5900"/><rect x="375.2" y="471.90" width="5.2" height="2.33" fill="#80ff7e"/><rect x="375.2" y="475.66" width="5.2" height="2.33" fill="#39ffc5"/><rect x="375.2" y="479.41" width="5.2" height="2.33" fill="#ff1900"/><rect x="375.2" y="483.17" width="5.2" height="2.33" fill="#3effc0"/><rect x="375.2" y="486.93" width="5.2" height="2.33" fill="#0055ff"/><rect x="375.2" y="490.69" width="5.2" height="2.33" fill="#deff20"/><rect x="375.2" y="494.45" width="5.2" height="2.33" fill="#ffa700"/><rect x="375.2" y="498.20" width="5.2" height="2.33" fill="#95ff69"/><rect x="375.2" y="501.96" width="5.2" height="2.33" fill="#01fffd"/><rect x="375.2" y="505.72" width="5.2" height="2.33" fill="#ff2f00"/><rect x="375.2" y="509.48" width="5.2" height="2.33" fill="#fff400"/><rect x="375.2" y="513.23" width="5.2" height="2.33" fill="#37ffc7"/><rect x="375.2" y="516.99" width="5.2" height="2.33" fill="#81ff7d"/><rect x="375.2" y="520.75" width="5.2" height="2.33" fill="#b1ff4d"/><rect x="375.2" y="524.51" width="5.2" height="2.33" fill="#c6ff38"/><rect x="375.2" y="528.27" width="5.2" height="2.33" fill="#c2ff3c"/><rect x="375.2" y="532.02" width="5.2" height="2.33" fill="#ff4d00"/><rect x="375.2" y="535.78" width="5.2" height="2.33" fill="#fb0000"/><rect x="375.2" y="539.54" width="5.2" height="2.33" fill="#ffbf00"/><rect x="375.2" y="543.30" width="5.2" height="2.33" fill="#0062ff"/><rect x="375.2" y="547.05" width="5.2" height="2.33" fill="#00dfff"/><rect x="375.2" y="550.81" width="5.2" height="2.33" fill="#00a1ff"/><rect x="375.2" y="554.57" width="5.2" height="2.33" fill="#b4ff4a"/><rect x="375.2" y="558.33" width="5.2" height="2.33" fill="#fff900"/><rect x="375.2" y="562.09" width="5.2" height="2.33" fill="#0061ff"/><rect x="375.2" y="565.84" width="5.2" height="2.33" fill="#caff34"/><rect x="375.2" y="569.60" width="5.2" height="2.33" fill="#faff04"/><rect x="375.2" y="573.36" width="5.2" height="2.33" fill="#ffa800"/><rect x="375.2" y="577.12" width="5.2" height="2.33" fill="#88ff76"/><rect x="375.2" y="580.88" width="5.2" height="2.33" fill="#a3ff5b"/><rect x="375.2" y="584.63" width="5.2" height="2.33" fill="#ff8700"/><rect x="375.2" y="588.39" width="5.2" height="2.33" fill="#ff9300"/><rect x="375.2" y="592.15" width="5.2" height="2.33" fill="#f50000"/><rect x="375.2" y="595.91" width="5.2" height="2.33" fill="#45ffb9"/><rect x="375.2" y="599.66" width="5.2" height="2.33" fill="#ffdf00"/><rect x="375.2" y="603.42" width="5.2" height="2.33" fill="#0096ff"/><rect x="375.2" y="607.18" width="5.2" height="2.33" fill="#99ff65"/><rect x="375.2" y="610.94" width="5.2" height="2.33" fill="#00eeff"/><rect x="375.2" y="614.70" width="5.2" height="2.33" fill="#fff300"/><rect x="375.2" y="618.45" width="5.2" height="2.33" fill="#00b4ff"/><rect x="375.2" y="622.21" width="5.2" height="2.33" fill="#00b5ff"/><rect x="375.2" y="625.97" width="5.2" height="2.33" fill="#7bff83"/><rect x="375.2" y="629.73" width="5.2" height="2.33" fill="#f6ff08"/><rect x="375.2" y="633.48" width="5.2" height="2.33" fill="#54ffaa"/><rect x="375.2" y="637.24" width="5.2" height="2.33" fill="#41ffbd"/>
<rect x="403.1" y="399.3" width="7.8" height="241.9" fill="#000" stroke="none" stroke-width="1" rx="0" />
<rect x="404.4" y="400.50" width="5.2" height="2.33" fill="#aeff50"/><rect x="404.4" y="404.26" width="5.2" height="2.33" fill="#79ff85"/><rect x="404.4" y="408.02" width="5.2" height="2.33" fill="#5fff9f"/><rect x="404.4" y="411.77" width="5.2" height="2.33" fill="#0090ff"/><rect x="404.4" y="415.53" width="5.2" height="2.33" fill="#ffd400"/><rect x="404.4" y="419.29" width="5.2" height="2.33" fill="#0083ff"/><rect x="404.4" y="423.05" width="5.2" height="2.33" fill="#edff11"/><rect x="404.4" y="426.80" width="5.2" height="2.33" fill="#00b5ff"/><rect x="404.4" y="430.56" width="5.2" height="2.33" fill="#95ff69"/><rect x="404.4" y="434.32" width="5.2" height="2.33" fill="#00bcff"/><rect x="404.4" y="438.08" width="5.2" height="2.33" fill="#ff9400"/><rect x="404.4" y="441.84" width="5.2" height="2.33" fill="#10ffee"/><rect x="404.4" y="445.59" width="5.2" height="2.33" fill="#6fff8f"/><rect x="404.4" y="449.35" width="5.2" height="2.33" fill="#8eff70"/><rect x="404.4" y="453.11" width="5.2" height="2.33" fill="#ffcb00"/><rect x="404.4" y="456.87" width="5.2" height="2.33" fill="#ccff32"/><rect x="404.4" y="460.62" width="5.2" height="2.33" fill="#0092ff"/><rect x="404.4" y="464.38" width="5.2" height="2.33" fill="#cf0000"/><rect x="404.4" y="468.14" width="5.2" height="2.33" fill="#ff4200"/><rect x="404.4" y="471.90" width="5.2" height="2.33" fill="#7aff84"/><rect x="404.4" y="475.66" width="5.2" height="2.33" fill="#25ffd9"/><rect x="404.4" y="479.41" width="5.2" height="2.33" fill="#ff5900"/><rect x="404.4" y="483.17" width="5.2" height="2.33" fill="#0fffef"/><rect x="404.4" y="486.93" width="5.2" height="2.33" fill="#0057ff"/><rect x="404.4" y="490.69" width="5.2" height="2.33" fill="#e9ff15"/><rect x="404.4" y="494.45" width="5.2" height="2.33" fill="#ff9800"/><rect x="404.4" y="498.20" width="5.2" height="2.33" fill="#b4ff4a"/><rect x="404.4" y="501.96" width="5.2" height="2.33" fill="#81ff7d"/><rect x="404.4" y="505.72" width="5.2" height="2.33" fill="#ff6d00"/><rect x="404.4" y="509.48" width="5.2" height="2.33" fill="#fffc00"/><rect x="404.4" y="513.23" width="5.2" height="2.33" fill="#daff24"/><rect x="404.4" y="516.99" width="5.2" height="2.33" fill="#19ffe5"/><rect x="404.4" y="520.75" width="5.2" height="2.33" fill="#92ff6c"/><rect x="404.4" y="524.51" width="5.2" height="2.33" fill="#cbff33"/><rect x="404.4" y="528.27" width="5.2" height="2.33" fill="#c7ff37"/><rect x="404.4" y="532.02" width="5.2" height="2.33" fill="#ff4a00"/><rect x="404.4" y="535.78" width="5.2" height="2.33" fill="#ff2300"/><rect x="404.4" y="539.54" width="5.2" height="2.33" fill="#ffb700"/><rect x="404.4" y="543.30" width="5.2" height="2.33" fill="#007aff"/><rect x="404.4" y="547.05" width="5.2" height="2.33" fill="#17ffe7"/><rect x="404.4" y="550.81" width="5.2" height="2.33" fill="#0048ff"/><rect x="404.4" y="554.57" width="5.2" height="2.33" fill="#7fff7f"/><rect x="404.4" y="558.33" width="5.2" height="2.33" fill="#fbff03"/><rect x="404.4" y="562.09" width="5.2" height="2.33" fill="#003cff"/><rect x="404.4" y="565.84" width="5.2" height="2.33" fill="#8bff73"/><rect x="404.4" y="569.60" width="5.2" height="2.33" fill="#ffe700"/><rect x="404.4" y="573.36" width="5.2" height="2.33" fill="#ffda00"/><rect x="404.4" y="577.12" width="5.2" height="2.33" fill="#acff52"/><rect x="404.4" y="580.88" width="5.2" height="2.33" fill="#ccff32"/><rect x="404.4" y="584.63" width="5.2" height="2.33" fill="#ff8600"/><rect x="404.4" y="588.39" width="5.2" height="2.33" fill="#ff8600"/><rect x="404.4" y="592.15" width="5.2" height="2.33" fill="#ff1600"/><rect x="404.4" y="595.91" width="5.2" height="2.33" fill="#00faff"/><rect x="404.4" y="599.66" width="5.2" height="2.33" fill="#ffeb00"/><rect x="404.4" y="603.42" width="5.2" height="2.33" fill="#00c1ff"/><rect x="404.4" y="607.18" width="5.2" height="2.33" fill="#7aff84"/><rect x="404.4" y="610.94" width="5.2" height="2.33" fill="#00f4ff"/><rect x="404.4" y="614.70" width="5.2" height="2.33" fill="#ffd200"/><rect x="404.4" y="618.45" width="5.2" height="2.33" fill="#0092ff"/><rect x="404.4" y="622.21" width="5.2" height="2.33" fill="#00e8ff"/><rect x="404.4" y="625.97" width="5.2" height="2.33" fill="#e5ff19"/><rect x="404.4" y="629.73" width="5.2" height="2.33" fill="#cfff2f"/><rect x="404.4" y="633.48" width="5.2" height="2.33" fill="#60ff9e"/><rect x="404.4" y="637.24" width="5.2" height="2.33" fill="#3effc0"/>
<line x1="144.2" y1="381.0" x2="144.2" y2="394.5" stroke="#000" stroke-width="1.0" stroke-dasharray="4.2 2.4"/>
<path d="M141.9,394.3 L146.5,394.3 L144.2,398.6 Z" fill="#000" stroke="none" stroke-width="1" />
<line x1="173.4" y1="362.3" x2="173.4" y2="394.5" stroke="#000" stroke-width="1.0" stroke-dasharray="4.2 2.4"/>
<path d="M171.1,394.3 L175.7,394.3 L173.4,398.6 Z" fill="#000" stroke="none" stroke-width="1" />
<line x1="202.6" y1="327.3" x2="202.6" y2="394.5" stroke="#000" stroke-width="1.9" stroke-dasharray="4.2 2.4"/>
<path d="M200.3,394.3 L204.9,394.3 L202.6,398.6 Z" fill="#000" stroke="none" stroke-width="1" />
<line x1="231.8" y1="343.3" x2="231.8" y2="394.5" stroke="#000" stroke-width="1.0" stroke-dasharray="4.2 2.4"/>
<path d="M229.5,394.3 L234.1,394.3 L231.8,398.6 Z" fill="#000" stroke="none" stroke-width="1" />
<line x1="261.0" y1="346.8" x2="261.0" y2="394.5" stroke="#000" stroke-width="1.9" stroke-dasharray="4.2 2.4"/>
<path d="M258.7,394.3 L263.3,394.3 L261.0,398.6 Z" fill="#000" stroke="none" stroke-width="1" />
<line x1="290.2" y1="364.2" x2="290.2" y2="394.5" stroke="#000" stroke-width="1.0" stroke-dasharray="4.2 2.4"/>
<path d="M287.9,394.3 L292.5,394.3 L290.2,398.6 Z" fill="#000" stroke="none" stroke-width="1" />
<line x1="319.4" y1="370.9" x2="319.4" y2="394.5" stroke="#000" stroke-width="1.0" stroke-dasharray="4.2 2.4"/>
<path d="M317.1,394.3 L321.7,394.3 L319.4,398.6 Z" fill="#000" stroke="none" stroke-width="1" />
<line x1="348.6" y1="373.7" x2="348.6" y2="394.5" stroke="#000" stroke-width="1.0" stroke-dasharray="4.2 2.4"/>
<path d="M346.3,394.3 L350.9,394.3 L348.6,398.6 Z" fill="#000" stroke="none" stroke-width="1" />
<line x1="377.8" y1="374.8" x2="377.8" y2="394.5" stroke="#000" stroke-width="1.0" stroke-dasharray="4.2 2.4"/>
<path d="M375.5,394.3 L380.1,394.3 L377.8,398.6 Z" fill="#000" stroke="none" stroke-width="1" />
<line x1="407.0" y1="375.0" x2="407.0" y2="394.5" stroke="#000" stroke-width="1.0" stroke-dasharray="4.2 2.4"/>
<path d="M404.7,394.3 L409.3,394.3 L407.0,398.6 Z" fill="#000" stroke="none" stroke-width="1" />
<path d="M143.1,376.4 C143.7,376.0 144.9,374.4 146.4,374.2 C147.9,374.0 150.2,375.0 152.0,375.2 C153.8,375.4 155.3,375.8 157.3,375.6 C159.3,375.4 161.5,376.5 164.2,374.2 C166.9,371.9 170.3,367.1 173.7,361.9 C177.1,356.7 181.3,348.2 184.7,342.8 C188.1,337.4 191.4,332.4 194.2,329.7 C197.0,327.0 199.1,325.8 201.6,326.4 C204.1,327.0 206.7,330.0 209.3,333.2 C212.0,336.4 215.1,342.8 217.5,345.5 C219.9,348.2 221.2,350.1 223.7,349.6 C226.2,349.2 229.2,344.7 232.5,342.8 C235.8,340.9 240.0,338.3 243.4,338.1 C246.8,337.9 250.0,339.9 253.0,341.4 C256.0,342.9 257.6,344.4 261.2,346.9 C264.8,349.4 269.8,353.5 274.8,356.5 C279.8,359.5 285.7,362.6 291.2,364.7 C296.7,366.8 302.6,367.7 307.6,368.8 C312.6,369.9 314.5,370.4 321.3,371.2 C328.1,372.0 339.5,373.1 348.6,373.7 C357.7,374.3 366.6,374.6 376.0,374.8 C385.4,375.0 399.9,375.0 404.7,375.0" fill="none" stroke="#1a6fc4" stroke-width="2.0" stroke-linecap="round"/>
<path d="M148.8,515.2 L159.8,515.2 L159.8,512.1 L168.0,518.3 L159.8,524.5 L159.8,521.4 L148.8,521.4 Z" fill="#8ea6dc" stroke="#44546a" stroke-width="0.7" />
<path d="M178.0,515.2 L189.0,515.2 L189.0,512.1 L197.2,518.3 L189.0,524.5 L189.0,521.4 L178.0,521.4 Z" fill="#8ea6dc" stroke="#44546a" stroke-width="0.7" />
<path d="M207.2,515.2 L218.2,515.2 L218.2,512.1 L226.4,518.3 L218.2,524.5 L218.2,521.4 L207.2,521.4 Z" fill="#8ea6dc" stroke="#44546a" stroke-width="0.7" />
<path d="M236.4,515.2 L247.4,515.2 L247.4,512.1 L255.6,518.3 L247.4,524.5 L247.4,521.4 L236.4,521.4 Z" fill="#8ea6dc" stroke="#44546a" stroke-width="0.7" />
<path d="M265.6,515.2 L276.6,515.2 L276.6,512.1 L284.8,518.3 L276.6,524.5 L276.6,521.4 L265.6,521.4 Z" fill="#8ea6dc" stroke="#44546a" stroke-width="0.7" />
<path d="M294.8,515.2 L305.8,515.2 L305.8,512.1 L314.0,518.3 L305.8,524.5 L305.8,521.4 L294.8,521.4 Z" fill="#8ea6dc" stroke="#44546a" stroke-width="0.7" />
<path d="M324.0,515.2 L335.0,515.2 L335.0,512.1 L343.2,518.3 L335.0,524.5 L335.0,521.4 L324.0,521.4 Z" fill="#8ea6dc" stroke="#44546a" stroke-width="0.7" />
<path d="M353.2,515.2 L364.2,515.2 L364.2,512.1 L372.4,518.3 L364.2,524.5 L364.2,521.4 L353.2,521.4 Z" fill="#8ea6dc" stroke="#44546a" stroke-width="0.7" />
<path d="M382.4,515.2 L393.4,515.2 L393.4,512.1 L401.6,518.3 L393.4,524.5 L393.4,521.4 L382.4,521.4 Z" fill="#8ea6dc" stroke="#44546a" stroke-width="0.7" />
<rect x="226.0" y="530.0" width="100.0" height="26.6" fill="#fff" stroke="none" stroke-width="1" rx="0" />
<rect x="205.1" y="531.6" width="142.2" height="24.2" fill="#fff" stroke="#222" stroke-width="0.7" rx="0" />
<text x="276.2" y="549.0" font-size="19.2" font-weight="bold" text-anchor="middle">GRU updating</text>
<text x="116.5" y="661.0" font-size="19.2" font-weight="bold" text-anchor="middle">GRU layer</text>
<text x="116.5" y="679.3" font-size="19.2" font-weight="bold" text-anchor="middle">(64 nodes)</text>
<line x1="414.2" y1="400.0" x2="443.5" y2="448.5" stroke="#000" stroke-width="1.0" />
<line x1="415.9" y1="639.5" x2="445.2" y2="587.5" stroke="#000" stroke-width="1.0" />
<rect x="436.4" y="447.8" width="33.1" height="141.1" fill="#fff" stroke="#000" stroke-width="1.4" rx="5" />
<circle cx="452.8" cy="465.9" r="10.4" fill="#f8cbad" stroke="#ae5a21" stroke-width="1.0" />
<circle cx="452.8" cy="489.8" r="10.4" fill="#f8cbad" stroke="#ae5a21" stroke-width="1.0" />
<circle cx="452.8" cy="545.5" r="10.4" fill="#f8cbad" stroke="#ae5a21" stroke-width="1.0" />
<circle cx="452.8" cy="570.8" r="10.4" fill="#f8cbad" stroke="#ae5a21" stroke-width="1.0" />
<rect x="452.0" y="505.0" width="1.7" height="1.7" fill="#000" stroke="none" stroke-width="1" rx="0" />
<rect x="452.0" y="514.5" width="1.7" height="1.7" fill="#000" stroke="none" stroke-width="1" rx="0" />
<rect x="452.0" y="525.5" width="1.7" height="1.7" fill="#000" stroke="none" stroke-width="1" rx="0" />
<line x1="469.5" y1="450.5" x2="491.5" y2="495.5" stroke="#000" stroke-width="1.0" />
<line x1="469.5" y1="585.8" x2="491.5" y2="545.0" stroke="#000" stroke-width="1.0" />
<rect x="483.2" y="494.3" width="24.6" height="51.2" fill="#fff" stroke="#000" stroke-width="1.4" rx="4" />
<circle cx="495.2" cy="509.0" r="7.4" fill="#f8cbad" stroke="#ae5a21" stroke-width="1.0" />
<circle cx="495.2" cy="532.5" r="7.4" fill="#f8cbad" stroke="#ae5a21" stroke-width="1.0" />
<path d="M512.6,517.1 L520.5,517.1 L520.5,513.3 L530.3,521.3 L520.5,529.3 L520.5,525.5 L512.6,525.5 Z" fill="#f8cbad" stroke="#ae5a21" stroke-width="0.8" />
<rect x="531.3" y="499.4" width="161.3" height="43.4" fill="#fff" stroke="#000" stroke-width="1.0" rx="0" />
<text x="612.0" y="516.5" font-size="19.2" font-weight="bold" text-anchor="middle">Predicted</text>
<text x="612.0" y="534.3" font-size="19.2" font-weight="bold" text-anchor="middle">Concentrations</text>
<text x="515.0" y="570.2" font-size="19.2" font-weight="bold" text-anchor="middle">Output</text>
<text x="516.5" y="594.0" font-size="19.2" font-weight="bold" text-anchor="middle">(2 nodes)</text>
<text x="479.0" y="636.0" font-size="19.2" font-weight="bold" text-anchor="middle">Dense layer</text>
<text x="478.3" y="653.8" font-size="19.2" font-weight="bold" text-anchor="middle">(8 nodes)</text>
<text font-size="19.2" font-weight="bold" text-anchor="middle" transform="translate(594.5,354.5) rotate(-11.5)">Overlapping signal</text>
</g>
<g id="panel-c">
<text x="728.5" y="334.0" font-size="35" font-weight="bold" fill="#231815">c</text>
<text x="949.4" y="350.4" font-size="23.6" font-weight="bold" text-anchor="middle" fill="#ff0000">5-fold cross validation</text>
<path d="M742.4,371 Q743.5,365.6 749.5,365.6 L1149.2,365.6 Q1155.4,365.6 1156.5,371" fill="none" stroke="#ff0000" stroke-width="1.0" />
<line x1="949.4" y1="360.2" x2="949.4" y2="365.6" stroke="#ff0000" stroke-width="1.0" />
<text x="810.2" y="379.8" font-size="16.6" font-weight="bold" text-anchor="middle" fill="#ff0000" textLength="59.5" lengthAdjust="spacingAndGlyphs">RMSE1</text>
<text x="1081.5" y="382.4" font-size="16.6" font-weight="bold" text-anchor="middle" fill="#ff0000" textLength="60.0" lengthAdjust="spacingAndGlyphs">RMSE5</text>
<rect x="919.0" y="376.2" width="2.8" height="1.5" fill="#ff0000" stroke="none" stroke-width="1" rx="0" />
<rect x="929.3" y="376.2" width="2.8" height="1.5" fill="#ff0000" stroke="none" stroke-width="1" rx="0" />
<rect x="939.6" y="376.2" width="2.8" height="1.5" fill="#ff0000" stroke="none" stroke-width="1" rx="0" />
<rect x="949.9" y="376.2" width="2.8" height="1.5" fill="#ff0000" stroke="none" stroke-width="1" rx="0" />
<rect x="960.2" y="376.2" width="2.8" height="1.5" fill="#ff0000" stroke="none" stroke-width="1" rx="0" />
<rect x="970.5" y="376.2" width="2.8" height="1.5" fill="#ff0000" stroke="none" stroke-width="1" rx="0" />
<path d="M809.6,384.2 L819.9,391.6 L815,391.6 L815,398.5 L803.8,398.5 L803.8,391.6 L799.2,391.6 Z" fill="#fff" stroke="#ff0000" stroke-width="0.9" />
<path d="M1072,393 L1082,386.6 L1092,393" fill="none" stroke="#ff0000" stroke-width="0.9" />
<line x1="1087.2" y1="393.5" x2="1087.2" y2="400.5" stroke="#ff8080" stroke-width="0.8" />
<text x="726.0" y="402.5" font-size="16.8" font-weight="bold" textLength="65.8" lengthAdjust="spacingAndGlyphs">Test set</text>
<rect x="725.0" y="405.8" width="169.3" height="248.2" fill="none" stroke="#ff0000" stroke-width="1.0" rx="13" stroke-dasharray="6.5 3"/>
<rect x="994.8" y="405.8" width="167.7" height="248.2" fill="none" stroke="#ff0000" stroke-width="1.0" rx="13" stroke-dasharray="6.5 3"/>
<line x1="732.2" y1="413.9" x2="803.8" y2="413.9" stroke="#000" stroke-width="1.0" />
<line x1="803.8" y1="413.9" x2="803.8" y2="440.8" stroke="#000" stroke-width="1.0" />
<text x="768.0" y="433.2" font-size="16.7" font-weight="bold" text-anchor="middle">S1 t1</text>
<line x1="809.4" y1="413.9" x2="881.8" y2="413.9" stroke="#000" stroke-width="1.0" />
<line x1="809.4" y1="413.9" x2="809.4" y2="440.8" stroke="#000" stroke-width="1.0" />
<text x="845.6" y="433.2" font-size="16.7" font-weight="bold" text-anchor="middle">S1 t2</text>
<line x1="732.2" y1="448.9" x2="803.8" y2="448.9" stroke="#000" stroke-width="1.0" />
<line x1="732.2" y1="477.0" x2="803.8" y2="477.0" stroke="#000" stroke-width="1.0" />
<line x1="803.8" y1="448.9" x2="803.8" y2="477.0" stroke="#000" stroke-width="1.0" />
<text x="768.0" y="468.8" font-size="16.7" font-weight="bold" text-anchor="middle">S2 t1</text>
<line x1="809.4" y1="448.9" x2="881.8" y2="448.9" stroke="#000" stroke-width="1.0" />
<line x1="809.4" y1="477.0" x2="881.8" y2="477.0" stroke="#000" stroke-width="1.0" />
<line x1="809.4" y1="448.9" x2="809.4" y2="477.0" stroke="#000" stroke-width="1.0" />
<text x="845.6" y="468.8" font-size="16.7" font-weight="bold" text-anchor="middle">S1 t2</text>
<line x1="732.2" y1="483.0" x2="803.8" y2="483.0" stroke="#000" stroke-width="1.0" />
<line x1="732.2" y1="511.2" x2="803.8" y2="511.2" stroke="#000" stroke-width="1.0" />
<line x1="732.2" y1="483.0" x2="732.2" y2="511.2" stroke="#000" stroke-width="1.0" />
<line x1="803.8" y1="483.0" x2="803.8" y2="511.2" stroke="#000" stroke-width="1.0" />
<text x="768.0" y="502.9" font-size="16.7" font-weight="bold" text-anchor="middle">S3 t1</text>
<line x1="809.4" y1="483.0" x2="881.8" y2="483.0" stroke="#000" stroke-width="1.0" />
<line x1="809.4" y1="511.2" x2="881.8" y2="511.2" stroke="#000" stroke-width="1.0" />
<line x1="809.4" y1="483.0" x2="809.4" y2="511.2" stroke="#000" stroke-width="1.0" />
<line x1="881.8" y1="483.0" x2="881.8" y2="511.2" stroke="#000" stroke-width="1.0" />
<text x="845.6" y="502.9" font-size="16.7" font-weight="bold" text-anchor="middle">S3 t2</text>
<line x1="732.2" y1="578.8" x2="803.8" y2="578.8" stroke="#000" stroke-width="1.0" />
<line x1="732.2" y1="607.8" x2="803.8" y2="607.8" stroke="#000" stroke-width="1.0" />
<line x1="803.8" y1="578.8" x2="803.8" y2="607.8" stroke="#000" stroke-width="1.0" />
<text x="768.0" y="599.1" font-size="16.7" font-weight="bold" text-anchor="middle">S17 t1</text>
<line x1="809.4" y1="578.8" x2="881.8" y2="578.8" stroke="#000" stroke-width="1.0" />
<line x1="809.4" y1="607.8" x2="881.8" y2="607.8" stroke="#000" stroke-width="1.0" />
<line x1="809.4" y1="578.8" x2="809.4" y2="607.8" stroke="#000" stroke-width="1.0" />
<text x="845.6" y="599.1" font-size="16.7" font-weight="bold" text-anchor="middle">S1 t2</text>
<line x1="732.2" y1="615.8" x2="803.8" y2="615.8" stroke="#000" stroke-width="1.0" />
<line x1="732.2" y1="644.8" x2="803.8" y2="644.8" stroke="#000" stroke-width="1.0" />
<line x1="803.8" y1="615.8" x2="803.8" y2="644.8" stroke="#000" stroke-width="1.0" />
<text x="768.0" y="636.1" font-size="16.7" font-weight="bold" text-anchor="middle">S18 t1</text>
<line x1="809.4" y1="615.8" x2="881.8" y2="615.8" stroke="#000" stroke-width="1.0" />
<line x1="809.4" y1="644.8" x2="881.8" y2="644.8" stroke="#000" stroke-width="1.0" />
<line x1="809.4" y1="615.8" x2="809.4" y2="644.8" stroke="#000" stroke-width="1.0" />
<text x="845.6" y="636.1" font-size="16.7" font-weight="bold" text-anchor="middle">S1 t2</text>
<line x1="1000.5" y1="413.9" x2="1070.8" y2="413.9" stroke="#000" stroke-width="1.0" />
<line x1="1000.5" y1="413.9" x2="1000.5" y2="440.8" stroke="#000" stroke-width="1.0" />
<line x1="1070.8" y1="413.9" x2="1070.8" y2="440.8" stroke="#000" stroke-width="1.0" />
<text x="1035.7" y="433.2" font-size="16.7" font-weight="bold" text-anchor="middle">S1 t9</text>
<line x1="1085.3" y1="413.9" x2="1156.5" y2="413.9" stroke="#000" stroke-width="1.0" />
<line x1="1156.5" y1="413.9" x2="1156.5" y2="440.8" stroke="#000" stroke-width="1.0" />
<text x="1120.9" y="433.2" font-size="16.7" font-weight="bold" text-anchor="middle">S1 t10</text>
<line x1="1000.5" y1="448.9" x2="1070.8" y2="448.9" stroke="#000" stroke-width="1.0" />
<line x1="1000.5" y1="477.0" x2="1070.8" y2="477.0" stroke="#000" stroke-width="1.0" />
<line x1="1000.5" y1="448.9" x2="1000.5" y2="477.0" stroke="#000" stroke-width="1.0" />
<line x1="1070.8" y1="448.9" x2="1070.8" y2="477.0" stroke="#000" stroke-width="1.0" />
<text x="1035.7" y="468.8" font-size="16.7" font-weight="bold" text-anchor="middle">S2 t9</text>
<line x1="1085.3" y1="448.9" x2="1156.5" y2="448.9" stroke="#000" stroke-width="1.0" />
<line x1="1085.3" y1="477.0" x2="1156.5" y2="477.0" stroke="#000" stroke-width="1.0" />
<line x1="1085.3" y1="448.9" x2="1085.3" y2="477.0" stroke="#000" stroke-width="1.0" />
<line x1="1156.5" y1="448.9" x2="1156.5" y2="477.0" stroke="#000" stroke-width="1.0" />
<text x="1120.9" y="468.8" font-size="16.7" font-weight="bold" text-anchor="middle">S2 t10</text>
<line x1="1000.5" y1="483.0" x2="1070.8" y2="483.0" stroke="#000" stroke-width="1.0" />
<line x1="1000.5" y1="511.2" x2="1070.8" y2="511.2" stroke="#000" stroke-width="1.0" />
<line x1="1000.5" y1="483.0" x2="1000.5" y2="511.2" stroke="#000" stroke-width="1.0" />
<line x1="1070.8" y1="483.0" x2="1070.8" y2="511.2" stroke="#000" stroke-width="1.0" />
<text x="1035.7" y="502.9" font-size="16.7" font-weight="bold" text-anchor="middle">S3 t9</text>
<line x1="1085.3" y1="483.0" x2="1156.5" y2="483.0" stroke="#000" stroke-width="1.0" />
<line x1="1085.3" y1="511.2" x2="1156.5" y2="511.2" stroke="#000" stroke-width="1.0" />
<line x1="1085.3" y1="483.0" x2="1085.3" y2="511.2" stroke="#000" stroke-width="1.0" />
<line x1="1156.5" y1="483.0" x2="1156.5" y2="511.2" stroke="#000" stroke-width="1.0" />
<text x="1120.9" y="502.9" font-size="16.7" font-weight="bold" text-anchor="middle">S3 t10</text>
<line x1="1000.5" y1="578.8" x2="1070.8" y2="578.8" stroke="#000" stroke-width="1.0" />
<line x1="1000.5" y1="607.8" x2="1070.8" y2="607.8" stroke="#000" stroke-width="1.0" />
<line x1="1000.5" y1="578.8" x2="1000.5" y2="607.8" stroke="#000" stroke-width="1.0" />
<line x1="1070.8" y1="578.8" x2="1070.8" y2="607.8" stroke="#000" stroke-width="1.0" />
<text x="1035.7" y="599.1" font-size="16.7" font-weight="bold" text-anchor="middle">S17 t9</text>
<line x1="1085.3" y1="578.8" x2="1156.5" y2="578.8" stroke="#000" stroke-width="1.0" />
<line x1="1085.3" y1="607.8" x2="1156.5" y2="607.8" stroke="#000" stroke-width="1.0" />
<line x1="1156.5" y1="578.8" x2="1156.5" y2="607.8" stroke="#000" stroke-width="1.0" />
<text x="1120.9" y="599.1" font-size="16.7" font-weight="bold" text-anchor="middle">S17 t10</text>
<line x1="1000.5" y1="615.8" x2="1070.8" y2="615.8" stroke="#000" stroke-width="1.0" />
<line x1="1000.5" y1="644.8" x2="1070.8" y2="644.8" stroke="#000" stroke-width="1.0" />
<line x1="1000.5" y1="615.8" x2="1000.5" y2="644.8" stroke="#000" stroke-width="1.0" />
<line x1="1070.8" y1="615.8" x2="1070.8" y2="644.8" stroke="#000" stroke-width="1.0" />
<text x="1035.7" y="636.1" font-size="16.7" font-weight="bold" text-anchor="middle">S18 t9</text>
<line x1="1085.3" y1="615.8" x2="1156.5" y2="615.8" stroke="#000" stroke-width="1.0" />
<line x1="1085.3" y1="644.8" x2="1156.5" y2="644.8" stroke="#000" stroke-width="1.0" />
<line x1="1156.5" y1="615.8" x2="1156.5" y2="644.8" stroke="#000" stroke-width="1.0" />
<text x="1120.9" y="636.1" font-size="16.7" font-weight="bold" text-anchor="middle">S18 t10</text>
<rect x="927.3" y="427.1" width="2.7" height="2.3" fill="#000" stroke="none" stroke-width="1" rx="0" />
<rect x="933.0" y="427.1" width="2.7" height="2.3" fill="#000" stroke="none" stroke-width="1" rx="0" />
<rect x="938.8" y="427.1" width="2.7" height="2.3" fill="#000" stroke="none" stroke-width="1" rx="0" />
<rect x="944.5" y="427.1" width="2.7" height="2.3" fill="#000" stroke="none" stroke-width="1" rx="0" />
<rect x="950.3" y="427.1" width="2.7" height="2.3" fill="#000" stroke="none" stroke-width="1" rx="0" />
<rect x="956.0" y="427.1" width="2.7" height="2.3" fill="#000" stroke="none" stroke-width="1" rx="0" />
<rect x="927.3" y="604.7" width="2.7" height="2.3" fill="#000" stroke="none" stroke-width="1" rx="0" />
<rect x="933.0" y="604.7" width="2.7" height="2.3" fill="#000" stroke="none" stroke-width="1" rx="0" />
<rect x="938.8" y="604.7" width="2.7" height="2.3" fill="#000" stroke="none" stroke-width="1" rx="0" />
<rect x="944.5" y="604.7" width="2.7" height="2.3" fill="#000" stroke="none" stroke-width="1" rx="0" />
<rect x="950.3" y="604.7" width="2.7" height="2.3" fill="#000" stroke="none" stroke-width="1" rx="0" />
<rect x="956.0" y="604.7" width="2.7" height="2.3" fill="#000" stroke="none" stroke-width="1" rx="0" />
<rect x="806.4" y="531.6" width="2.0" height="2.5" fill="#000" stroke="none" stroke-width="1" rx="0" />
<rect x="806.4" y="535.9" width="2.0" height="2.5" fill="#000" stroke="none" stroke-width="1" rx="0" />
<rect x="806.4" y="540.2" width="2.0" height="2.5" fill="#000" stroke="none" stroke-width="1" rx="0" />
<rect x="806.4" y="544.5" width="2.0" height="2.5" fill="#000" stroke="none" stroke-width="1" rx="0" />
<rect x="806.4" y="548.8" width="2.0" height="2.5" fill="#000" stroke="none" stroke-width="1" rx="0" />
<rect x="806.4" y="553.1" width="2.0" height="2.5" fill="#000" stroke="none" stroke-width="1" rx="0" />
<rect x="806.4" y="557.4" width="2.0" height="2.5" fill="#000" stroke="none" stroke-width="1" rx="0" />
<rect x="806.4" y="561.7" width="2.0" height="2.5" fill="#000" stroke="none" stroke-width="1" rx="0" />
<rect x="1077.9" y="531.6" width="2.0" height="2.5" fill="#000" stroke="none" stroke-width="1" rx="0" />
<rect x="1077.9" y="535.9" width="2.0" height="2.5" fill="#000" stroke="none" stroke-width="1" rx="0" />
<rect x="1077.9" y="540.2" width="2.0" height="2.5" fill="#000" stroke="none" stroke-width="1" rx="0" />
<rect x="1077.9" y="544.5" width="2.0" height="2.5" fill="#000" stroke="none" stroke-width="1" rx="0" />
<rect x="1077.9" y="548.8" width="2.0" height="2.5" fill="#000" stroke="none" stroke-width="1" rx="0" />
<rect x="1077.9" y="553.1" width="2.0" height="2.5" fill="#000" stroke="none" stroke-width="1" rx="0" />
<rect x="1077.9" y="557.4" width="2.0" height="2.5" fill="#000" stroke="none" stroke-width="1" rx="0" />
<rect x="1077.9" y="561.7" width="2.0" height="2.5" fill="#000" stroke="none" stroke-width="1" rx="0" />
<text x="940.8" y="484.6" font-size="16.7" font-weight="bold" text-anchor="middle">Dataset</text>
<text x="940.8" y="506.1" font-size="16.7" font-weight="bold" text-anchor="middle">With total</text>
<text x="940.8" y="527.6" font-size="16.7" font-weight="bold" text-anchor="middle">18×10</text>
<text x="940.8" y="549.1" font-size="16.7" font-weight="bold" text-anchor="middle">samples</text>
</g>
<line x1="13.0" y1="694.0" x2="1146.7" y2="694.0" stroke="#231815" stroke-width="1.75" stroke-dasharray="23.40 23.84" stroke-dashoffset="11.70"/>
<line x1="13.0" y1="1026.1" x2="1146.7" y2="1026.1" stroke="#231815" stroke-width="1.75" stroke-dasharray="23.40 23.84" stroke-dashoffset="11.70"/>
<line x1="13.0" y1="694.0" x2="13.0" y2="1026.1" stroke="#231815" stroke-width="1.75" stroke-dasharray="23.40 24.04" stroke-dashoffset="11.70"/>
<line x1="1146.7" y1="694.0" x2="1146.7" y2="1026.1" stroke="#231815" stroke-width="1.75" stroke-dasharray="23.40 24.04" stroke-dashoffset="11.70"/>
<rect x="12.1" y="693.1" width="1.8" height="1.8" fill="#231815" stroke="none" stroke-width="1" rx="0" />
<rect x="1145.8" y="693.1" width="1.8" height="1.8" fill="#231815" stroke="none" stroke-width="1" rx="0" />
<rect x="12.1" y="1025.2" width="1.8" height="1.8" fill="#231815" stroke="none" stroke-width="1" rx="0" />
<rect x="1145.8" y="1025.2" width="1.8" height="1.8" fill="#231815" stroke="none" stroke-width="1" rx="0" />
<text x="21.6" y="716.0" font-size="23.4" font-weight="bold" fill="#231815">5-fold cross validation</text>
<line x1="13.0" y1="1031.8" x2="1146.7" y2="1031.8" stroke="#231815" stroke-width="1.75" stroke-dasharray="23.40 23.84" stroke-dashoffset="11.70"/>
<line x1="13.0" y1="1366.9" x2="1146.7" y2="1366.9" stroke="#231815" stroke-width="1.75" stroke-dasharray="23.40 23.84" stroke-dashoffset="11.70"/>
<line x1="13.0" y1="1031.8" x2="13.0" y2="1366.9" stroke="#231815" stroke-width="1.75" stroke-dasharray="23.40 24.47" stroke-dashoffset="11.70"/>
<line x1="1146.7" y1="1031.8" x2="1146.7" y2="1366.9" stroke="#231815" stroke-width="1.75" stroke-dasharray="23.40 24.47" stroke-dashoffset="11.70"/>
<rect x="12.1" y="1030.9" width="1.8" height="1.8" fill="#231815" stroke="none" stroke-width="1" rx="0" />
<rect x="1145.8" y="1030.9" width="1.8" height="1.8" fill="#231815" stroke="none" stroke-width="1" rx="0" />
<rect x="12.1" y="1366.0" width="1.8" height="1.8" fill="#231815" stroke="none" stroke-width="1" rx="0" />
<rect x="1145.8" y="1366.0" width="1.8" height="1.8" fill="#231815" stroke="none" stroke-width="1" rx="0" />
<text x="21.6" y="1051.7" font-size="23.4" font-weight="bold" fill="#231815">10-fold cross validation</text>
<text x="64.5" y="753.2" font-size="35" font-weight="bold" fill="#231815">d</text>
<text x="222.3" y="753.8" font-size="19.5" font-weight="bold" text-anchor="middle" fill="#231815">Predicted samples</text>
<line x1="98.7" y1="762.0" x2="98.7" y2="960.0" stroke="#000" stroke-width="2.0" stroke-dasharray="4.3 4.1"/>
<line x1="150.8" y1="762.0" x2="150.8" y2="960.0" stroke="#000" stroke-width="2.0" stroke-dasharray="4.3 4.1"/>
<line x1="202.9" y1="762.0" x2="202.9" y2="960.0" stroke="#000" stroke-width="2.0" stroke-dasharray="4.3 4.1"/>
<line x1="254.9" y1="762.0" x2="254.9" y2="960.0" stroke="#000" stroke-width="1.25" stroke-dasharray="4.3 4.1"/>
<line x1="307.1" y1="762.0" x2="307.1" y2="960.0" stroke="#000" stroke-width="1.25" stroke-dasharray="4.3 4.1"/>
<line x1="90.8" y1="771.9" x2="359.0" y2="771.9" stroke="#000" stroke-width="1.25" stroke-dasharray="4.3 4.1"/>
<line x1="90.8" y1="809.5" x2="359.0" y2="809.5" stroke="#000" stroke-width="1.25" stroke-dasharray="4.3 4.1"/>
<line x1="90.8" y1="847.2" x2="359.0" y2="847.2" stroke="#000" stroke-width="2.0" stroke-dasharray="4.3 4.1"/>
<line x1="90.8" y1="884.8" x2="359.0" y2="884.8" stroke="#000" stroke-width="2.0" stroke-dasharray="4.3 4.1"/>
<line x1="90.8" y1="922.5" x2="359.0" y2="922.5" stroke="#000" stroke-width="1.25" stroke-dasharray="4.3 4.1"/>
<line x1="171.3" y1="790.7" x2="182.3" y2="790.7" stroke="#000" stroke-width="1.6" />
<line x1="176.8" y1="785.2" x2="176.8" y2="796.2" stroke="#000" stroke-width="1.6" />
<g fill="#d95319"><circle cx="167.5" cy="790.2" r="2.9"/><circle cx="169.9" cy="794.3" r="2.9"/><circle cx="172.3" cy="791.9" r="2.9"/><circle cx="174.7" cy="789.5" r="2.9"/><circle cx="177.1" cy="791.9" r="2.9"/><circle cx="179.5" cy="788.3" r="2.9"/><circle cx="180.6" cy="791.4" r="2.9"/><circle cx="181.8" cy="787.1" r="2.9"/><circle cx="169.2" cy="796.2" r="2.9"/><circle cx="186.6" cy="782.8" r="2.9"/></g>
<line x1="223.4" y1="790.7" x2="234.4" y2="790.7" stroke="#000" stroke-width="1.6" />
<line x1="228.9" y1="785.2" x2="228.9" y2="796.2" stroke="#000" stroke-width="1.6" />
<g fill="#4dbeee"><circle cx="222.5" cy="789.5" r="2.9"/><circle cx="224.9" cy="791.9" r="2.9"/><circle cx="227.3" cy="794.3" r="2.9"/><circle cx="229.7" cy="790.7" r="2.9"/><circle cx="232.1" cy="791.9" r="2.9"/><circle cx="234.5" cy="791.9" r="2.9"/><circle cx="228.5" cy="789.0" r="2.9"/><circle cx="222.5" cy="796.2" r="2.9"/><circle cx="226.1" cy="793.1" r="2.9"/><circle cx="233.3" cy="789.5" r="2.9"/></g>
<line x1="275.5" y1="790.7" x2="286.5" y2="790.7" stroke="#000" stroke-width="1.6" />
<line x1="281.0" y1="785.2" x2="281.0" y2="796.2" stroke="#000" stroke-width="1.6" />
<g fill="#edb120"><circle cx="262.4" cy="800.2" r="2.9"/><circle cx="277.5" cy="793.1" r="2.9"/><circle cx="279.9" cy="791.9" r="2.9"/><circle cx="282.3" cy="790.7" r="2.9"/><circle cx="284.7" cy="789.0" r="2.9"/><circle cx="287.1" cy="787.6" r="2.9"/><circle cx="289.4" cy="785.9" r="2.9"/><circle cx="291.8" cy="785.2" r="2.9"/><circle cx="278.7" cy="794.3" r="2.9"/><circle cx="285.9" cy="786.6" r="2.9"/></g>
<line x1="327.6" y1="790.7" x2="338.6" y2="790.7" stroke="#000" stroke-width="1.6" />
<line x1="333.1" y1="785.2" x2="333.1" y2="796.2" stroke="#000" stroke-width="1.6" />
<g fill="#a2142f"><circle cx="321.7" cy="791.9" r="2.9"/><circle cx="322.9" cy="795.5" r="2.9"/><circle cx="333.7" cy="788.3" r="2.9"/><circle cx="336.1" cy="791.9" r="2.9"/><circle cx="339.7" cy="793.1" r="2.9"/><circle cx="349.2" cy="783.5" r="2.9"/><circle cx="346.8" cy="788.3" r="2.9"/><circle cx="351.6" cy="791.9" r="2.9"/><circle cx="333.7" cy="791.9" r="2.9"/><circle cx="324.1" cy="793.8" r="2.9"/></g>
<line x1="119.2" y1="828.4" x2="130.2" y2="828.4" stroke="#000" stroke-width="1.6" />
<line x1="124.7" y1="822.9" x2="124.7" y2="833.9" stroke="#000" stroke-width="1.6" />
<g fill="#7e2f8e"><circle cx="116.1" cy="820.6" r="2.9"/><circle cx="117.3" cy="824.1" r="2.9"/><circle cx="118.5" cy="827.7" r="2.9"/><circle cx="120.9" cy="830.1" r="2.9"/><circle cx="123.3" cy="826.5" r="2.9"/><circle cx="125.7" cy="825.3" r="2.9"/><circle cx="128.0" cy="823.0" r="2.9"/><circle cx="129.2" cy="821.0" r="2.9"/><circle cx="119.7" cy="825.3" r="2.9"/><circle cx="122.1" cy="827.7" r="2.9"/></g>
<line x1="171.3" y1="828.4" x2="182.3" y2="828.4" stroke="#000" stroke-width="1.6" />
<line x1="176.8" y1="822.9" x2="176.8" y2="833.9" stroke="#000" stroke-width="1.6" />
<g fill="#0072bd"><circle cx="167.5" cy="820.6" r="2.9"/><circle cx="168.7" cy="826.5" r="2.9"/><circle cx="171.1" cy="825.3" r="2.9"/><circle cx="173.5" cy="827.7" r="2.9"/><circle cx="175.9" cy="824.1" r="2.9"/><circle cx="178.3" cy="826.5" r="2.9"/><circle cx="180.6" cy="827.7" r="2.9"/><circle cx="183.0" cy="829.6" r="2.9"/><circle cx="167.5" cy="827.7" r="2.9"/><circle cx="177.1" cy="823.0" r="2.9"/></g>
<line x1="223.4" y1="828.4" x2="234.4" y2="828.4" stroke="#000" stroke-width="1.6" />
<line x1="228.9" y1="822.9" x2="228.9" y2="833.9" stroke="#000" stroke-width="1.6" />
<g fill="#77ac30"><circle cx="223.7" cy="827.7" r="2.9"/><circle cx="226.1" cy="828.9" r="2.9"/><circle cx="228.5" cy="830.1" r="2.9"/><circle cx="230.9" cy="821.8" r="2.9"/><circle cx="234.5" cy="826.5" r="2.9"/><circle cx="238.0" cy="821.8" r="2.9"/><circle cx="238.0" cy="832.5" r="2.9"/><circle cx="228.5" cy="831.3" r="2.9"/><circle cx="224.9" cy="827.3" r="2.9"/><circle cx="231.3" cy="825.3" r="2.9"/></g>
<line x1="275.5" y1="828.4" x2="286.5" y2="828.4" stroke="#000" stroke-width="1.6" />
<line x1="281.0" y1="822.9" x2="281.0" y2="833.9" stroke="#000" stroke-width="1.6" />
<g fill="#d95319"><circle cx="272.7" cy="824.1" r="2.9"/><circle cx="271.5" cy="831.3" r="2.9"/><circle cx="275.1" cy="832.5" r="2.9"/><circle cx="277.5" cy="827.7" r="2.9"/><circle cx="279.9" cy="830.1" r="2.9"/><circle cx="282.3" cy="826.5" r="2.9"/><circle cx="284.7" cy="825.3" r="2.9"/><circle cx="282.3" cy="837.3" r="2.9"/><circle cx="289.9" cy="833.7" r="2.9"/><circle cx="278.7" cy="828.9" r="2.9"/></g>
<line x1="327.6" y1="828.4" x2="338.6" y2="828.4" stroke="#000" stroke-width="1.6" />
<line x1="333.1" y1="822.9" x2="333.1" y2="833.9" stroke="#000" stroke-width="1.6" />
<g fill="#4dbeee"><circle cx="310.5" cy="825.8" r="2.9"/><circle cx="321.7" cy="827.7" r="2.9"/><circle cx="324.8" cy="813.4" r="2.9"/><circle cx="344.9" cy="814.1" r="2.9"/><circle cx="334.9" cy="815.8" r="2.9"/><circle cx="334.9" cy="820.6" r="2.9"/><circle cx="333.7" cy="824.1" r="2.9"/><circle cx="336.1" cy="826.5" r="2.9"/><circle cx="332.5" cy="828.9" r="2.9"/><circle cx="335.4" cy="818.2" r="2.9"/></g>
<line x1="119.2" y1="866.0" x2="130.2" y2="866.0" stroke="#000" stroke-width="1.6" />
<line x1="124.7" y1="860.5" x2="124.7" y2="871.5" stroke="#000" stroke-width="1.6" />
<g fill="#edb120"><circle cx="118.5" cy="866.0" r="2.9"/><circle cx="120.9" cy="867.2" r="2.9"/><circle cx="123.3" cy="868.4" r="2.9"/><circle cx="125.7" cy="867.2" r="2.9"/><circle cx="128.0" cy="866.0" r="2.9"/><circle cx="129.2" cy="863.6" r="2.9"/><circle cx="130.4" cy="862.4" r="2.9"/><circle cx="131.6" cy="860.7" r="2.9"/><circle cx="122.1" cy="866.5" r="2.9"/><circle cx="126.8" cy="864.8" r="2.9"/></g>
<line x1="171.3" y1="866.0" x2="182.3" y2="866.0" stroke="#000" stroke-width="1.6" />
<line x1="176.8" y1="860.5" x2="176.8" y2="871.5" stroke="#000" stroke-width="1.6" />
<g fill="#a2142f"><circle cx="151.5" cy="877.2" r="2.9"/><circle cx="163.4" cy="873.6" r="2.9"/><circle cx="168.7" cy="867.2" r="2.9"/><circle cx="171.1" cy="869.6" r="2.9"/><circle cx="173.5" cy="866.0" r="2.9"/><circle cx="175.9" cy="868.4" r="2.9"/><circle cx="178.3" cy="867.2" r="2.9"/><circle cx="189.0" cy="863.6" r="2.9"/><circle cx="169.9" cy="866.5" r="2.9"/><circle cx="177.1" cy="869.6" r="2.9"/></g>
<line x1="223.4" y1="866.0" x2="234.4" y2="866.0" stroke="#000" stroke-width="1.6" />
<line x1="228.9" y1="860.5" x2="228.9" y2="871.5" stroke="#000" stroke-width="1.6" />
<g fill="#7e2f8e"><circle cx="208.1" cy="878.0" r="2.9"/><circle cx="221.8" cy="872.7" r="2.9"/><circle cx="226.1" cy="867.2" r="2.9"/><circle cx="228.5" cy="870.8" r="2.9"/><circle cx="229.7" cy="868.4" r="2.9"/><circle cx="233.3" cy="862.4" r="2.9"/><circle cx="235.6" cy="861.7" r="2.9"/><circle cx="238.0" cy="862.9" r="2.9"/><circle cx="240.4" cy="864.1" r="2.9"/><circle cx="228.5" cy="872.0" r="2.9"/></g>
<line x1="275.5" y1="866.0" x2="286.5" y2="866.0" stroke="#000" stroke-width="1.6" />
<line x1="281.0" y1="860.5" x2="281.0" y2="871.5" stroke="#000" stroke-width="1.6" />
<g fill="#0072bd"><circle cx="272.7" cy="866.7" r="2.9"/><circle cx="276.3" cy="868.4" r="2.9"/><circle cx="279.9" cy="866.0" r="2.9"/><circle cx="282.3" cy="869.6" r="2.9"/><circle cx="284.7" cy="873.2" r="2.9"/><circle cx="287.1" cy="858.8" r="2.9"/><circle cx="289.4" cy="867.2" r="2.9"/><circle cx="294.7" cy="855.7" r="2.9"/><circle cx="305.0" cy="853.6" r="2.9"/><circle cx="281.1" cy="866.5" r="2.9"/></g>
<line x1="119.2" y1="903.7" x2="130.2" y2="903.7" stroke="#000" stroke-width="1.6" />
<line x1="124.7" y1="898.2" x2="124.7" y2="909.2" stroke="#000" stroke-width="1.6" />
<g fill="#77ac30"><circle cx="110.8" cy="900.2" r="2.9"/><circle cx="114.9" cy="900.7" r="2.9"/><circle cx="118.5" cy="899.5" r="2.9"/><circle cx="120.9" cy="903.1" r="2.9"/><circle cx="123.3" cy="904.3" r="2.9"/><circle cx="125.7" cy="901.9" r="2.9"/><circle cx="126.8" cy="899.5" r="2.9"/><circle cx="125.7" cy="907.8" r="2.9"/><circle cx="119.7" cy="901.4" r="2.9"/><circle cx="146.0" cy="891.1" r="2.9"/></g>
<line x1="171.3" y1="903.7" x2="182.3" y2="903.7" stroke="#000" stroke-width="1.6" />
<line x1="176.8" y1="898.2" x2="176.8" y2="909.2" stroke="#000" stroke-width="1.6" />
<g fill="#d95319"><circle cx="168.7" cy="901.9" r="2.9"/><circle cx="171.1" cy="900.7" r="2.9"/><circle cx="173.5" cy="899.5" r="2.9"/><circle cx="174.7" cy="897.1" r="2.9"/><circle cx="175.9" cy="901.9" r="2.9"/><circle cx="178.3" cy="903.1" r="2.9"/><circle cx="180.6" cy="904.3" r="2.9"/><circle cx="183.0" cy="906.2" r="2.9"/><circle cx="177.1" cy="903.8" r="2.9"/><circle cx="172.3" cy="902.3" r="2.9"/></g>
<line x1="223.4" y1="903.7" x2="234.4" y2="903.7" stroke="#000" stroke-width="1.6" />
<line x1="228.9" y1="898.2" x2="228.9" y2="909.2" stroke="#000" stroke-width="1.6" />
<g fill="#4dbeee"><circle cx="224.9" cy="905.5" r="2.9"/><circle cx="227.3" cy="907.8" r="2.9"/><circle cx="229.7" cy="897.1" r="2.9"/><circle cx="233.3" cy="904.3" r="2.9"/><circle cx="234.5" cy="910.2" r="2.9"/><circle cx="236.8" cy="898.8" r="2.9"/><circle cx="244.0" cy="896.4" r="2.9"/><circle cx="233.3" cy="915.0" r="2.9"/><circle cx="226.1" cy="906.6" r="2.9"/><circle cx="228.5" cy="909.0" r="2.9"/></g>
<line x1="119.2" y1="941.3" x2="130.2" y2="941.3" stroke="#000" stroke-width="1.6" />
<line x1="124.7" y1="935.8" x2="124.7" y2="946.8" stroke="#000" stroke-width="1.6" />
<g fill="#edb120"><circle cx="120.9" cy="940.1" r="2.9"/><circle cx="122.1" cy="938.9" r="2.9"/><circle cx="124.5" cy="937.7" r="2.9"/><circle cx="126.8" cy="937.7" r="2.9"/><circle cx="128.0" cy="938.9" r="2.9"/><circle cx="120.9" cy="944.9" r="2.9"/><circle cx="120.4" cy="948.5" r="2.9"/><circle cx="120.2" cy="952.1" r="2.9"/><circle cx="128.0" cy="950.4" r="2.9"/><circle cx="132.8" cy="944.9" r="2.9"/></g>
<line x1="171.3" y1="941.3" x2="182.3" y2="941.3" stroke="#000" stroke-width="1.6" />
<line x1="176.8" y1="935.8" x2="176.8" y2="946.8" stroke="#000" stroke-width="1.6" />
<g fill="#a2142f"><circle cx="168.7" cy="933.4" r="2.9"/><circle cx="175.9" cy="928.2" r="2.9"/><circle cx="180.6" cy="930.6" r="2.9"/><circle cx="177.1" cy="935.8" r="2.9"/><circle cx="181.8" cy="936.5" r="2.9"/><circle cx="165.1" cy="941.8" r="2.9"/><circle cx="173.5" cy="941.3" r="2.9"/><circle cx="179.5" cy="940.1" r="2.9"/><circle cx="184.2" cy="940.6" r="2.9"/><circle cx="178.3" cy="933.4" r="2.9"/></g>
<rect x="90.8" y="762.0" width="268.2" height="198.0" fill="none" stroke="#1a1a1a" stroke-width="1.9" rx="0" />
<line x1="98.7" y1="960.0" x2="98.7" y2="956.4" stroke="#1a1a1a" stroke-width="1.2" />
<line x1="98.7" y1="762.0" x2="98.7" y2="765.6" stroke="#1a1a1a" stroke-width="1.2" />
<line x1="124.7" y1="960.0" x2="124.7" y2="956.4" stroke="#1a1a1a" stroke-width="1.2" />
<line x1="124.7" y1="762.0" x2="124.7" y2="765.6" stroke="#1a1a1a" stroke-width="1.2" />
<line x1="150.8" y1="960.0" x2="150.8" y2="956.4" stroke="#1a1a1a" stroke-width="1.2" />
<line x1="150.8" y1="762.0" x2="150.8" y2="765.6" stroke="#1a1a1a" stroke-width="1.2" />
<line x1="176.8" y1="960.0" x2="176.8" y2="956.4" stroke="#1a1a1a" stroke-width="1.2" />
<line x1="176.8" y1="762.0" x2="176.8" y2="765.6" stroke="#1a1a1a" stroke-width="1.2" />
<line x1="202.9" y1="960.0" x2="202.9" y2="956.4" stroke="#1a1a1a" stroke-width="1.2" />
<line x1="202.9" y1="762.0" x2="202.9" y2="765.6" stroke="#1a1a1a" stroke-width="1.2" />
<line x1="228.9" y1="960.0" x2="228.9" y2="956.4" stroke="#1a1a1a" stroke-width="1.2" />
<line x1="228.9" y1="762.0" x2="228.9" y2="765.6" stroke="#1a1a1a" stroke-width="1.2" />
<line x1="254.9" y1="960.0" x2="254.9" y2="956.4" stroke="#1a1a1a" stroke-width="1.2" />
<line x1="254.9" y1="762.0" x2="254.9" y2="765.6" stroke="#1a1a1a" stroke-width="1.2" />
<line x1="281.0" y1="960.0" x2="281.0" y2="956.4" stroke="#1a1a1a" stroke-width="1.2" />
<line x1="281.0" y1="762.0" x2="281.0" y2="765.6" stroke="#1a1a1a" stroke-width="1.2" />
<line x1="307.1" y1="960.0" x2="307.1" y2="956.4" stroke="#1a1a1a" stroke-width="1.2" />
<line x1="307.1" y1="762.0" x2="307.1" y2="765.6" stroke="#1a1a1a" stroke-width="1.2" />
<line x1="333.1" y1="960.0" x2="333.1" y2="956.4" stroke="#1a1a1a" stroke-width="1.2" />
<line x1="333.1" y1="762.0" x2="333.1" y2="765.6" stroke="#1a1a1a" stroke-width="1.2" />
<line x1="359.2" y1="960.0" x2="359.2" y2="956.4" stroke="#1a1a1a" stroke-width="1.2" />
<line x1="359.2" y1="762.0" x2="359.2" y2="765.6" stroke="#1a1a1a" stroke-width="1.2" />
<text x="124.7" y="983.6" font-size="17.1" text-anchor="middle" fill="#1a1a1a">0</text>
<text x="176.8" y="983.6" font-size="17.1" text-anchor="middle" fill="#1a1a1a">100</text>
<text x="228.9" y="983.6" font-size="17.1" text-anchor="middle" fill="#1a1a1a">200</text>
<text x="281.0" y="983.6" font-size="17.1" text-anchor="middle" fill="#1a1a1a">300</text>
<text x="333.1" y="983.6" font-size="17.1" text-anchor="middle" fill="#1a1a1a">400</text>
<line x1="90.8" y1="771.9" x2="94.4" y2="771.9" stroke="#1a1a1a" stroke-width="1.2" />
<line x1="359.0" y1="771.9" x2="355.4" y2="771.9" stroke="#1a1a1a" stroke-width="1.2" />
<line x1="90.8" y1="790.7" x2="94.4" y2="790.7" stroke="#1a1a1a" stroke-width="1.2" />
<line x1="359.0" y1="790.7" x2="355.4" y2="790.7" stroke="#1a1a1a" stroke-width="1.2" />
<line x1="90.8" y1="809.5" x2="94.4" y2="809.5" stroke="#1a1a1a" stroke-width="1.2" />
<line x1="359.0" y1="809.5" x2="355.4" y2="809.5" stroke="#1a1a1a" stroke-width="1.2" />
<line x1="90.8" y1="828.4" x2="94.4" y2="828.4" stroke="#1a1a1a" stroke-width="1.2" />
<line x1="359.0" y1="828.4" x2="355.4" y2="828.4" stroke="#1a1a1a" stroke-width="1.2" />
<line x1="90.8" y1="847.2" x2="94.4" y2="847.2" stroke="#1a1a1a" stroke-width="1.2" />
<line x1="359.0" y1="847.2" x2="355.4" y2="847.2" stroke="#1a1a1a" stroke-width="1.2" />
<line x1="90.8" y1="866.0" x2="94.4" y2="866.0" stroke="#1a1a1a" stroke-width="1.2" />
<line x1="359.0" y1="866.0" x2="355.4" y2="866.0" stroke="#1a1a1a" stroke-width="1.2" />
<line x1="90.8" y1="884.8" x2="94.4" y2="884.8" stroke="#1a1a1a" stroke-width="1.2" />
<line x1="359.0" y1="884.8" x2="355.4" y2="884.8" stroke="#1a1a1a" stroke-width="1.2" />
<line x1="90.8" y1="903.7" x2="94.4" y2="903.7" stroke="#1a1a1a" stroke-width="1.2" />
<line x1="359.0" y1="903.7" x2="355.4" y2="903.7" stroke="#1a1a1a" stroke-width="1.2" />
<line x1="90.8" y1="922.5" x2="94.4" y2="922.5" stroke="#1a1a1a" stroke-width="1.2" />
<line x1="359.0" y1="922.5" x2="355.4" y2="922.5" stroke="#1a1a1a" stroke-width="1.2" />
<line x1="90.8" y1="941.3" x2="94.4" y2="941.3" stroke="#1a1a1a" stroke-width="1.2" />
<line x1="359.0" y1="941.3" x2="355.4" y2="941.3" stroke="#1a1a1a" stroke-width="1.2" />
<line x1="90.8" y1="960.1" x2="94.4" y2="960.1" stroke="#1a1a1a" stroke-width="1.2" />
<line x1="359.0" y1="960.1" x2="355.4" y2="960.1" stroke="#1a1a1a" stroke-width="1.2" />
<text x="85.2" y="797.5" font-size="17.1" text-anchor="end" fill="#1a1a1a">0</text>
<text x="85.2" y="835.1" font-size="17.1" text-anchor="end" fill="#1a1a1a">60</text>
<text x="85.2" y="872.8" font-size="17.1" text-anchor="end" fill="#1a1a1a">120</text>
<text x="85.2" y="910.5" font-size="17.1" text-anchor="end" fill="#1a1a1a">180</text>
<text x="85.2" y="948.1" font-size="17.1" text-anchor="end" fill="#1a1a1a">240</text>
<text x="224.8" y="1008.0" font-size="19.6" text-anchor="middle" fill="#1a1a1a">C<tspan font-size="15.0" dy="9.5">2</tspan><tspan dy="-9.5" font-size="19.6">&#8203;</tspan>H<tspan font-size="15.0" dy="9.5">4</tspan><tspan dy="-9.5" font-size="19.6">&#8203;</tspan> / ppm</text>
<text font-size="19.6" text-anchor="middle" fill="#1a1a1a" transform="translate(40.2,862.4) rotate(-90)">C<tspan font-size="15.0" dy="9.5">2</tspan><tspan dy="-9.5" font-size="19.6">&#8203;</tspan>H<tspan font-size="15.0" dy="9.5">2</tspan><tspan dy="-9.5" font-size="19.6">&#8203;</tspan> / ppm</text>
<text x="64.5" y="1091.8" font-size="35" font-weight="bold" fill="#231815">g</text>
<text x="222.3" y="1092.8" font-size="19.5" font-weight="bold" text-anchor="middle" fill="#231815">Predicted samples</text>
<line x1="98.7" y1="1100.0" x2="98.7" y2="1298.0" stroke="#000" stroke-width="2.0" stroke-dasharray="4.3 4.1"/>
<line x1="150.8" y1="1100.0" x2="150.8" y2="1298.0" stroke="#000" stroke-width="2.0" stroke-dasharray="4.3 4.1"/>
<line x1="202.9" y1="1100.0" x2="202.9" y2="1298.0" stroke="#000" stroke-width="2.0" stroke-dasharray="4.3 4.1"/>
<line x1="254.9" y1="1100.0" x2="254.9" y2="1298.0" stroke="#000" stroke-width="1.25" stroke-dasharray="4.3 4.1"/>
<line x1="307.1" y1="1100.0" x2="307.1" y2="1298.0" stroke="#000" stroke-width="1.25" stroke-dasharray="4.3 4.1"/>
<line x1="90.8" y1="1109.9" x2="359.0" y2="1109.9" stroke="#000" stroke-width="1.25" stroke-dasharray="4.3 4.1"/>
<line x1="90.8" y1="1147.5" x2="359.0" y2="1147.5" stroke="#000" stroke-width="2.0" stroke-dasharray="4.3 4.1"/>
<line x1="90.8" y1="1185.2" x2="359.0" y2="1185.2" stroke="#000" stroke-width="2.0" stroke-dasharray="4.3 4.1"/>
<line x1="90.8" y1="1222.8" x2="359.0" y2="1222.8" stroke="#000" stroke-width="1.25" stroke-dasharray="4.3 4.1"/>
<line x1="90.8" y1="1260.5" x2="359.0" y2="1260.5" stroke="#000" stroke-width="1.25" stroke-dasharray="4.3 4.1"/>
<line x1="171.3" y1="1128.7" x2="182.3" y2="1128.7" stroke="#000" stroke-width="1.6" />
<line x1="176.8" y1="1123.2" x2="176.8" y2="1134.2" stroke="#000" stroke-width="1.6" />
<g fill="#d95319"><circle cx="172.3" cy="1128.7" r="2.9"/><circle cx="173.5" cy="1126.3" r="2.9"/><circle cx="175.4" cy="1127.5" r="2.9"/><circle cx="177.1" cy="1125.6" r="2.9"/><circle cx="178.7" cy="1127.5" r="2.9"/><circle cx="180.2" cy="1128.2" r="2.9"/><circle cx="171.6" cy="1131.5" r="2.9"/><circle cx="174.7" cy="1129.9" r="2.9"/><circle cx="177.8" cy="1128.7" r="2.9"/><circle cx="175.9" cy="1127.0" r="2.9"/></g>
<line x1="223.4" y1="1128.7" x2="234.4" y2="1128.7" stroke="#000" stroke-width="1.6" />
<line x1="228.9" y1="1123.2" x2="228.9" y2="1134.2" stroke="#000" stroke-width="1.6" />
<g fill="#4dbeee"><circle cx="214.1" cy="1133.5" r="2.9"/><circle cx="221.8" cy="1125.8" r="2.9"/><circle cx="223.7" cy="1128.7" r="2.9"/><circle cx="226.1" cy="1129.4" r="2.9"/><circle cx="228.5" cy="1129.9" r="2.9"/><circle cx="224.9" cy="1127.5" r="2.9"/><circle cx="227.3" cy="1128.7" r="2.9"/><circle cx="222.5" cy="1127.5" r="2.9"/><circle cx="225.6" cy="1129.9" r="2.9"/><circle cx="229.0" cy="1129.2" r="2.9"/></g>
<line x1="275.5" y1="1128.7" x2="286.5" y2="1128.7" stroke="#000" stroke-width="1.6" />
<line x1="281.0" y1="1123.2" x2="281.0" y2="1134.2" stroke="#000" stroke-width="1.6" />
<g fill="#edb120"><circle cx="277.5" cy="1129.4" r="2.9"/><circle cx="278.7" cy="1131.1" r="2.9"/><circle cx="279.9" cy="1128.7" r="2.9"/><circle cx="281.1" cy="1127.0" r="2.9"/><circle cx="281.6" cy="1129.9" r="2.9"/><circle cx="280.6" cy="1131.5" r="2.9"/><circle cx="279.2" cy="1129.9" r="2.9"/><circle cx="282.3" cy="1128.2" r="2.9"/><circle cx="278.2" cy="1130.3" r="2.9"/><circle cx="280.1" cy="1132.3" r="2.9"/></g>
<line x1="327.6" y1="1128.7" x2="338.6" y2="1128.7" stroke="#000" stroke-width="1.6" />
<line x1="333.1" y1="1123.2" x2="333.1" y2="1134.2" stroke="#000" stroke-width="1.6" />
<g fill="#a2142f"><circle cx="321.7" cy="1131.1" r="2.9"/><circle cx="322.9" cy="1132.3" r="2.9"/><circle cx="326.5" cy="1126.3" r="2.9"/><circle cx="328.9" cy="1128.7" r="2.9"/><circle cx="331.3" cy="1129.9" r="2.9"/><circle cx="333.7" cy="1130.3" r="2.9"/><circle cx="335.6" cy="1129.9" r="2.9"/><circle cx="327.7" cy="1127.5" r="2.9"/><circle cx="330.1" cy="1129.4" r="2.9"/><circle cx="324.1" cy="1131.8" r="2.9"/></g>
<line x1="119.2" y1="1166.4" x2="130.2" y2="1166.4" stroke="#000" stroke-width="1.6" />
<line x1="124.7" y1="1160.9" x2="124.7" y2="1171.9" stroke="#000" stroke-width="1.6" />
<g fill="#7e2f8e"><circle cx="123.3" cy="1165.7" r="2.9"/><circle cx="124.5" cy="1166.9" r="2.9"/><circle cx="125.7" cy="1168.1" r="2.9"/><circle cx="126.8" cy="1166.9" r="2.9"/><circle cx="128.0" cy="1167.6" r="2.9"/><circle cx="125.2" cy="1165.3" r="2.9"/><circle cx="126.1" cy="1168.6" r="2.9"/><circle cx="127.6" cy="1165.7" r="2.9"/><circle cx="124.0" cy="1167.6" r="2.9"/><circle cx="128.5" cy="1166.9" r="2.9"/></g>
<line x1="171.3" y1="1166.4" x2="182.3" y2="1166.4" stroke="#000" stroke-width="1.6" />
<line x1="176.8" y1="1160.9" x2="176.8" y2="1171.9" stroke="#000" stroke-width="1.6" />
<g fill="#0072bd"><circle cx="174.7" cy="1168.1" r="2.9"/><circle cx="175.9" cy="1166.9" r="2.9"/><circle cx="177.8" cy="1165.7" r="2.9"/><circle cx="179.5" cy="1165.3" r="2.9"/><circle cx="181.1" cy="1164.5" r="2.9"/><circle cx="183.0" cy="1163.3" r="2.9"/><circle cx="175.4" cy="1170.0" r="2.9"/><circle cx="177.1" cy="1167.6" r="2.9"/><circle cx="180.2" cy="1166.2" r="2.9"/><circle cx="183.5" cy="1162.9" r="2.9"/></g>
<line x1="223.4" y1="1166.4" x2="234.4" y2="1166.4" stroke="#000" stroke-width="1.6" />
<line x1="228.9" y1="1160.9" x2="228.9" y2="1171.9" stroke="#000" stroke-width="1.6" />
<g fill="#77ac30"><circle cx="216.0" cy="1170.0" r="2.9"/><circle cx="217.7" cy="1171.7" r="2.9"/><circle cx="219.4" cy="1172.9" r="2.9"/><circle cx="229.7" cy="1165.7" r="2.9"/><circle cx="232.1" cy="1164.5" r="2.9"/><circle cx="233.7" cy="1163.3" r="2.9"/><circle cx="238.0" cy="1159.8" r="2.9"/><circle cx="230.9" cy="1165.3" r="2.9"/><circle cx="217.0" cy="1171.0" r="2.9"/><circle cx="232.8" cy="1163.8" r="2.9"/></g>
<line x1="275.5" y1="1166.4" x2="286.5" y2="1166.4" stroke="#000" stroke-width="1.6" />
<line x1="281.0" y1="1160.9" x2="281.0" y2="1171.9" stroke="#000" stroke-width="1.6" />
<g fill="#d95319"><circle cx="279.9" cy="1165.7" r="2.9"/><circle cx="281.1" cy="1166.9" r="2.9"/><circle cx="281.6" cy="1164.5" r="2.9"/><circle cx="280.6" cy="1168.6" r="2.9"/><circle cx="282.3" cy="1165.7" r="2.9"/><circle cx="280.4" cy="1170.5" r="2.9"/><circle cx="288.7" cy="1166.9" r="2.9"/><circle cx="299.5" cy="1166.5" r="2.9"/><circle cx="281.1" cy="1165.3" r="2.9"/><circle cx="281.8" cy="1167.6" r="2.9"/></g>
<line x1="327.6" y1="1166.4" x2="338.6" y2="1166.4" stroke="#000" stroke-width="1.6" />
<line x1="333.1" y1="1160.9" x2="333.1" y2="1171.9" stroke="#000" stroke-width="1.6" />
<g fill="#4dbeee"><circle cx="320.1" cy="1162.1" r="2.9"/><circle cx="328.9" cy="1164.5" r="2.9"/><circle cx="330.1" cy="1165.7" r="2.9"/><circle cx="331.3" cy="1163.3" r="2.9"/><circle cx="332.5" cy="1162.1" r="2.9"/><circle cx="329.4" cy="1166.9" r="2.9"/><circle cx="330.8" cy="1165.3" r="2.9"/><circle cx="328.4" cy="1167.6" r="2.9"/><circle cx="332.0" cy="1163.8" r="2.9"/><circle cx="330.3" cy="1162.9" r="2.9"/></g>
<line x1="119.2" y1="1204.0" x2="130.2" y2="1204.0" stroke="#000" stroke-width="1.6" />
<line x1="124.7" y1="1198.5" x2="124.7" y2="1209.5" stroke="#000" stroke-width="1.6" />
<g fill="#edb120"><circle cx="126.1" cy="1200.4" r="2.9"/><circle cx="127.6" cy="1199.2" r="2.9"/><circle cx="128.8" cy="1198.5" r="2.9"/><circle cx="130.0" cy="1198.0" r="2.9"/><circle cx="126.8" cy="1201.1" r="2.9"/><circle cx="128.0" cy="1199.9" r="2.9"/><circle cx="129.2" cy="1199.2" r="2.9"/><circle cx="130.4" cy="1198.7" r="2.9"/><circle cx="125.7" cy="1201.6" r="2.9"/><circle cx="128.5" cy="1200.4" r="2.9"/></g>
<line x1="171.3" y1="1204.0" x2="182.3" y2="1204.0" stroke="#000" stroke-width="1.6" />
<line x1="176.8" y1="1198.5" x2="176.8" y2="1209.5" stroke="#000" stroke-width="1.6" />
<g fill="#a2142f"><circle cx="170.6" cy="1207.6" r="2.9"/><circle cx="172.3" cy="1205.9" r="2.9"/><circle cx="174.0" cy="1204.5" r="2.9"/><circle cx="175.4" cy="1203.5" r="2.9"/><circle cx="177.1" cy="1202.1" r="2.9"/><circle cx="178.3" cy="1200.9" r="2.9"/><circle cx="171.6" cy="1208.3" r="2.9"/><circle cx="173.5" cy="1205.2" r="2.9"/><circle cx="175.9" cy="1202.8" r="2.9"/><circle cx="174.7" cy="1204.0" r="2.9"/></g>
<line x1="223.4" y1="1204.0" x2="234.4" y2="1204.0" stroke="#000" stroke-width="1.6" />
<line x1="228.9" y1="1198.5" x2="228.9" y2="1209.5" stroke="#000" stroke-width="1.6" />
<g fill="#7e2f8e"><circle cx="219.4" cy="1204.0" r="2.9"/><circle cx="221.3" cy="1201.6" r="2.9"/><circle cx="222.5" cy="1199.2" r="2.9"/><circle cx="223.7" cy="1198.0" r="2.9"/><circle cx="225.6" cy="1200.4" r="2.9"/><circle cx="227.3" cy="1201.1" r="2.9"/><circle cx="223.2" cy="1202.1" r="2.9"/><circle cx="224.9" cy="1199.2" r="2.9"/><circle cx="220.8" cy="1202.8" r="2.9"/><circle cx="226.1" cy="1201.6" r="2.9"/></g>
<line x1="275.5" y1="1204.0" x2="286.5" y2="1204.0" stroke="#000" stroke-width="1.6" />
<line x1="281.0" y1="1198.5" x2="281.0" y2="1209.5" stroke="#000" stroke-width="1.6" />
<g fill="#0072bd"><circle cx="271.5" cy="1208.3" r="2.9"/><circle cx="282.3" cy="1200.4" r="2.9"/><circle cx="283.9" cy="1201.6" r="2.9"/><circle cx="285.9" cy="1202.8" r="2.9"/><circle cx="287.8" cy="1204.0" r="2.9"/><circle cx="284.7" cy="1200.9" r="2.9"/><circle cx="286.3" cy="1203.5" r="2.9"/><circle cx="288.3" cy="1202.8" r="2.9"/><circle cx="283.0" cy="1202.1" r="2.9"/><circle cx="287.1" cy="1204.5" r="2.9"/></g>
<line x1="119.2" y1="1241.7" x2="130.2" y2="1241.7" stroke="#000" stroke-width="1.6" />
<line x1="124.7" y1="1236.2" x2="124.7" y2="1247.2" stroke="#000" stroke-width="1.6" />
<g fill="#77ac30"><circle cx="122.1" cy="1249.9" r="2.9"/><circle cx="125.7" cy="1244.6" r="2.9"/><circle cx="126.8" cy="1242.3" r="2.9"/><circle cx="127.6" cy="1239.9" r="2.9"/><circle cx="126.8" cy="1237.5" r="2.9"/><circle cx="128.0" cy="1243.5" r="2.9"/><circle cx="126.1" cy="1245.8" r="2.9"/><circle cx="127.3" cy="1241.1" r="2.9"/><circle cx="126.4" cy="1238.7" r="2.9"/><circle cx="127.8" cy="1241.8" r="2.9"/></g>
<line x1="171.3" y1="1241.7" x2="182.3" y2="1241.7" stroke="#000" stroke-width="1.6" />
<line x1="176.8" y1="1236.2" x2="176.8" y2="1247.2" stroke="#000" stroke-width="1.6" />
<g fill="#d95319"><circle cx="174.7" cy="1244.6" r="2.9"/><circle cx="174.0" cy="1245.8" r="2.9"/><circle cx="177.1" cy="1239.9" r="2.9"/><circle cx="178.7" cy="1238.7" r="2.9"/><circle cx="180.6" cy="1239.4" r="2.9"/><circle cx="179.5" cy="1241.1" r="2.9"/><circle cx="177.8" cy="1241.8" r="2.9"/><circle cx="180.2" cy="1240.3" r="2.9"/><circle cx="176.3" cy="1242.7" r="2.9"/><circle cx="181.1" cy="1238.2" r="2.9"/></g>
<line x1="223.4" y1="1241.7" x2="234.4" y2="1241.7" stroke="#000" stroke-width="1.6" />
<line x1="228.9" y1="1236.2" x2="228.9" y2="1247.2" stroke="#000" stroke-width="1.6" />
<g fill="#4dbeee"><circle cx="219.4" cy="1244.6" r="2.9"/><circle cx="220.1" cy="1242.3" r="2.9"/><circle cx="220.8" cy="1239.9" r="2.9"/><circle cx="228.5" cy="1238.7" r="2.9"/><circle cx="230.4" cy="1239.9" r="2.9"/><circle cx="231.3" cy="1241.1" r="2.9"/><circle cx="229.7" cy="1237.5" r="2.9"/><circle cx="219.6" cy="1243.5" r="2.9"/><circle cx="230.9" cy="1239.4" r="2.9"/><circle cx="221.3" cy="1241.1" r="2.9"/></g>
<line x1="119.2" y1="1279.3" x2="130.2" y2="1279.3" stroke="#000" stroke-width="1.6" />
<line x1="124.7" y1="1273.8" x2="124.7" y2="1284.8" stroke="#000" stroke-width="1.6" />
<g fill="#edb120"><circle cx="120.9" cy="1275.7" r="2.9"/><circle cx="122.1" cy="1276.9" r="2.9"/><circle cx="123.3" cy="1278.1" r="2.9"/><circle cx="124.5" cy="1276.2" r="2.9"/><circle cx="126.8" cy="1272.1" r="2.9"/><circle cx="128.5" cy="1270.9" r="2.9"/><circle cx="130.4" cy="1270.2" r="2.9"/><circle cx="131.6" cy="1269.8" r="2.9"/><circle cx="122.8" cy="1275.3" r="2.9"/><circle cx="129.2" cy="1271.4" r="2.9"/></g>
<line x1="171.3" y1="1279.3" x2="182.3" y2="1279.3" stroke="#000" stroke-width="1.6" />
<line x1="176.8" y1="1273.8" x2="176.8" y2="1284.8" stroke="#000" stroke-width="1.6" />
<g fill="#a2142f"><circle cx="165.8" cy="1278.6" r="2.9"/><circle cx="174.0" cy="1278.1" r="2.9"/><circle cx="175.4" cy="1276.9" r="2.9"/><circle cx="177.1" cy="1275.7" r="2.9"/><circle cx="178.7" cy="1274.5" r="2.9"/><circle cx="179.9" cy="1273.8" r="2.9"/><circle cx="174.7" cy="1279.3" r="2.9"/><circle cx="176.3" cy="1277.6" r="2.9"/><circle cx="177.8" cy="1276.2" r="2.9"/><circle cx="175.9" cy="1278.6" r="2.9"/></g>
<rect x="90.8" y="1100.0" width="268.2" height="198.0" fill="none" stroke="#1a1a1a" stroke-width="1.9" rx="0" />
<line x1="98.7" y1="1298.0" x2="98.7" y2="1294.4" stroke="#1a1a1a" stroke-width="1.2" />
<line x1="98.7" y1="1100.0" x2="98.7" y2="1103.6" stroke="#1a1a1a" stroke-width="1.2" />
<line x1="124.7" y1="1298.0" x2="124.7" y2="1294.4" stroke="#1a1a1a" stroke-width="1.2" />
<line x1="124.7" y1="1100.0" x2="124.7" y2="1103.6" stroke="#1a1a1a" stroke-width="1.2" />
<line x1="150.8" y1="1298.0" x2="150.8" y2="1294.4" stroke="#1a1a1a" stroke-width="1.2" />
<line x1="150.8" y1="1100.0" x2="150.8" y2="1103.6" stroke="#1a1a1a" stroke-width="1.2" />
<line x1="176.8" y1="1298.0" x2="176.8" y2="1294.4" stroke="#1a1a1a" stroke-width="1.2" />
<line x1="176.8" y1="1100.0" x2="176.8" y2="1103.6" stroke="#1a1a1a" stroke-width="1.2" />
<line x1="202.9" y1="1298.0" x2="202.9" y2="1294.4" stroke="#1a1a1a" stroke-width="1.2" />
<line x1="202.9" y1="1100.0" x2="202.9" y2="1103.6" stroke="#1a1a1a" stroke-width="1.2" />
<line x1="228.9" y1="1298.0" x2="228.9" y2="1294.4" stroke="#1a1a1a" stroke-width="1.2" />
<line x1="228.9" y1="1100.0" x2="228.9" y2="1103.6" stroke="#1a1a1a" stroke-width="1.2" />
<line x1="254.9" y1="1298.0" x2="254.9" y2="1294.4" stroke="#1a1a1a" stroke-width="1.2" />
<line x1="254.9" y1="1100.0" x2="254.9" y2="1103.6" stroke="#1a1a1a" stroke-width="1.2" />
<line x1="281.0" y1="1298.0" x2="281.0" y2="1294.4" stroke="#1a1a1a" stroke-width="1.2" />
<line x1="281.0" y1="1100.0" x2="281.0" y2="1103.6" stroke="#1a1a1a" stroke-width="1.2" />
<line x1="307.1" y1="1298.0" x2="307.1" y2="1294.4" stroke="#1a1a1a" stroke-width="1.2" />
<line x1="307.1" y1="1100.0" x2="307.1" y2="1103.6" stroke="#1a1a1a" stroke-width="1.2" />
<line x1="333.1" y1="1298.0" x2="333.1" y2="1294.4" stroke="#1a1a1a" stroke-width="1.2" />
<line x1="333.1" y1="1100.0" x2="333.1" y2="1103.6" stroke="#1a1a1a" stroke-width="1.2" />
<line x1="359.2" y1="1298.0" x2="359.2" y2="1294.4" stroke="#1a1a1a" stroke-width="1.2" />
<line x1="359.2" y1="1100.0" x2="359.2" y2="1103.6" stroke="#1a1a1a" stroke-width="1.2" />
<text x="124.7" y="1321.6" font-size="17.1" text-anchor="middle" fill="#1a1a1a">0</text>
<text x="176.8" y="1321.6" font-size="17.1" text-anchor="middle" fill="#1a1a1a">100</text>
<text x="228.9" y="1321.6" font-size="17.1" text-anchor="middle" fill="#1a1a1a">200</text>
<text x="281.0" y="1321.6" font-size="17.1" text-anchor="middle" fill="#1a1a1a">300</text>
<text x="333.1" y="1321.6" font-size="17.1" text-anchor="middle" fill="#1a1a1a">400</text>
<line x1="90.8" y1="1109.9" x2="94.4" y2="1109.9" stroke="#1a1a1a" stroke-width="1.2" />
<line x1="359.0" y1="1109.9" x2="355.4" y2="1109.9" stroke="#1a1a1a" stroke-width="1.2" />
<line x1="90.8" y1="1128.7" x2="94.4" y2="1128.7" stroke="#1a1a1a" stroke-width="1.2" />
<line x1="359.0" y1="1128.7" x2="355.4" y2="1128.7" stroke="#1a1a1a" stroke-width="1.2" />
<line x1="90.8" y1="1147.5" x2="94.4" y2="1147.5" stroke="#1a1a1a" stroke-width="1.2" />
<line x1="359.0" y1="1147.5" x2="355.4" y2="1147.5" stroke="#1a1a1a" stroke-width="1.2" />
<line x1="90.8" y1="1166.4" x2="94.4" y2="1166.4" stroke="#1a1a1a" stroke-width="1.2" />
<line x1="359.0" y1="1166.4" x2="355.4" y2="1166.4" stroke="#1a1a1a" stroke-width="1.2" />
<line x1="90.8" y1="1185.2" x2="94.4" y2="1185.2" stroke="#1a1a1a" stroke-width="1.2" />
<line x1="359.0" y1="1185.2" x2="355.4" y2="1185.2" stroke="#1a1a1a" stroke-width="1.2" />
<line x1="90.8" y1="1204.0" x2="94.4" y2="1204.0" stroke="#1a1a1a" stroke-width="1.2" />
<line x1="359.0" y1="1204.0" x2="355.4" y2="1204.0" stroke="#1a1a1a" stroke-width="1.2" />
<line x1="90.8" y1="1222.8" x2="94.4" y2="1222.8" stroke="#1a1a1a" stroke-width="1.2" />
<line x1="359.0" y1="1222.8" x2="355.4" y2="1222.8" stroke="#1a1a1a" stroke-width="1.2" />
<line x1="90.8" y1="1241.7" x2="94.4" y2="1241.7" stroke="#1a1a1a" stroke-width="1.2" />
<line x1="359.0" y1="1241.7" x2="355.4" y2="1241.7" stroke="#1a1a1a" stroke-width="1.2" />
<line x1="90.8" y1="1260.5" x2="94.4" y2="1260.5" stroke="#1a1a1a" stroke-width="1.2" />
<line x1="359.0" y1="1260.5" x2="355.4" y2="1260.5" stroke="#1a1a1a" stroke-width="1.2" />
<line x1="90.8" y1="1279.3" x2="94.4" y2="1279.3" stroke="#1a1a1a" stroke-width="1.2" />
<line x1="359.0" y1="1279.3" x2="355.4" y2="1279.3" stroke="#1a1a1a" stroke-width="1.2" />
<line x1="90.8" y1="1298.1" x2="94.4" y2="1298.1" stroke="#1a1a1a" stroke-width="1.2" />
<line x1="359.0" y1="1298.1" x2="355.4" y2="1298.1" stroke="#1a1a1a" stroke-width="1.2" />
<text x="85.2" y="1135.5" font-size="17.1" text-anchor="end" fill="#1a1a1a">0</text>
<text x="85.2" y="1173.2" font-size="17.1" text-anchor="end" fill="#1a1a1a">60</text>
<text x="85.2" y="1210.8" font-size="17.1" text-anchor="end" fill="#1a1a1a">120</text>
<text x="85.2" y="1248.5" font-size="17.1" text-anchor="end" fill="#1a1a1a">180</text>
<text x="85.2" y="1286.1" font-size="17.1" text-anchor="end" fill="#1a1a1a">240</text>
<text x="224.8" y="1346.0" font-size="19.6" text-anchor="middle" fill="#1a1a1a">C<tspan font-size="15.0" dy="9.5">2</tspan><tspan dy="-9.5" font-size="19.6">&#8203;</tspan>H<tspan font-size="15.0" dy="9.5">4</tspan><tspan dy="-9.5" font-size="19.6">&#8203;</tspan> / ppm</text>
<text font-size="19.6" text-anchor="middle" fill="#1a1a1a" transform="translate(40.2,1200.4) rotate(-90)">C<tspan font-size="15.0" dy="9.5">2</tspan><tspan dy="-9.5" font-size="19.6">&#8203;</tspan>H<tspan font-size="15.0" dy="9.5">2</tspan><tspan dy="-9.5" font-size="19.6">&#8203;</tspan> / ppm</text>
<text x="445.8" y="753.2" font-size="35" font-weight="bold" fill="#231815">e</text>
<text x="596.0" y="753.8" font-size="19.5" font-weight="bold" text-anchor="middle" fill="#231815">Relative prediction errors</text>
<g shape-rendering="crispEdges"><rect x="450.90" y="762.60" width="14.97" height="21.12" fill="#9aadee"/><rect x="465.57" y="762.60" width="14.97" height="21.12" fill="#3860e0"/><rect x="480.24" y="762.60" width="14.97" height="21.12" fill="#4f74e3"/><rect x="494.92" y="762.60" width="14.97" height="21.12" fill="#9aadee"/><rect x="509.59" y="762.60" width="14.97" height="21.12" fill="#8098ea"/><rect x="524.26" y="762.60" width="14.97" height="21.12" fill="#4f74e3"/><rect x="538.93" y="762.60" width="14.97" height="21.12" fill="#8098ea"/><rect x="553.61" y="762.60" width="14.97" height="21.12" fill="#4f74e3"/><rect x="568.28" y="762.60" width="14.97" height="21.12" fill="#e5eafb"/><rect x="582.95" y="762.60" width="14.97" height="21.12" fill="#6687e6"/><rect x="597.62" y="762.60" width="14.97" height="21.12" fill="#8098ea"/><rect x="612.29" y="762.60" width="14.97" height="21.12" fill="#6687e6"/><rect x="626.97" y="762.60" width="14.97" height="21.12" fill="#6687e6"/><rect x="641.64" y="762.60" width="14.97" height="21.12" fill="#6687e6"/><rect x="656.31" y="762.60" width="14.97" height="21.12" fill="#3860e0"/><rect x="670.98" y="762.60" width="14.97" height="21.12" fill="#8098ea"/><rect x="685.66" y="762.60" width="14.97" height="21.12" fill="#4f74e3"/><rect x="700.33" y="762.60" width="14.97" height="21.12" fill="#ccd6f6"/><rect x="450.90" y="783.42" width="14.97" height="21.12" fill="#3860e0"/><rect x="465.57" y="783.42" width="14.97" height="21.12" fill="#4f74e3"/><rect x="480.24" y="783.42" width="14.97" height="21.12" fill="#9aadee"/><rect x="494.92" y="783.42" width="14.97" height="21.12" fill="#4f74e3"/><rect x="509.59" y="783.42" width="14.97" height="21.12" fill="#8098ea"/><rect x="524.26" y="783.42" width="14.97" height="21.12" fill="#8098ea"/><rect x="538.93" y="783.42" width="14.97" height="21.12" fill="#4f74e3"/><rect x="553.61" y="783.42" width="14.97" height="21.12" fill="#8098ea"/><rect x="568.28" y="783.42" width="14.97" height="21.12" fill="#ffffff"/><rect x="582.95" y="783.42" width="14.97" height="21.12" fill="#3860e0"/><rect x="597.62" y="783.42" width="14.97" height="21.12" fill="#4f74e3"/><rect x="612.29" y="783.42" width="14.97" height="21.12" fill="#8098ea"/><rect x="626.97" y="783.42" width="14.97" height="21.12" fill="#6687e6"/><rect x="641.64" y="783.42" width="14.97" height="21.12" fill="#6687e6"/><rect x="656.31" y="783.42" width="14.97" height="21.12" fill="#8098ea"/><rect x="670.98" y="783.42" width="14.97" height="21.12" fill="#4f74e3"/><rect x="685.66" y="783.42" width="14.97" height="21.12" fill="#4f74e3"/><rect x="700.33" y="783.42" width="14.97" height="21.12" fill="#9aadee"/><rect x="450.90" y="804.24" width="14.97" height="21.12" fill="#3860e0"/><rect x="465.57" y="804.24" width="14.97" height="21.12" fill="#6687e6"/><rect x="480.24" y="804.24" width="14.97" height="21.12" fill="#4f74e3"/><rect x="494.92" y="804.24" width="14.97" height="21.12" fill="#8098ea"/><rect x="509.59" y="804.24" width="14.97" height="21.12" fill="#9aadee"/><rect x="524.26" y="804.24" width="14.97" height="21.12" fill="#3860e0"/><rect x="538.93" y="804.24" width="14.97" height="21.12" fill="#8098ea"/><rect x="553.61" y="804.24" width="14.97" height="21.12" fill="#9aadee"/><rect x="568.28" y="804.24" width="14.97" height="21.12" fill="#9aadee"/><rect x="582.95" y="804.24" width="14.97" height="21.12" fill="#3860e0"/><rect x="597.62" y="804.24" width="14.97" height="21.12" fill="#8098ea"/><rect x="612.29" y="804.24" width="14.97" height="21.12" fill="#3860e0"/><rect x="626.97" y="804.24" width="14.97" height="21.12" fill="#3860e0"/><rect x="641.64" y="804.24" width="14.97" height="21.12" fill="#b3c1f2"/><rect x="656.31" y="804.24" width="14.97" height="21.12" fill="#4f74e3"/><rect x="670.98" y="804.24" width="14.97" height="21.12" fill="#8098ea"/><rect x="685.66" y="804.24" width="14.97" height="21.12" fill="#9aadee"/><rect x="700.33" y="804.24" width="14.97" height="21.12" fill="#9aadee"/><rect x="450.90" y="825.06" width="14.97" height="21.12" fill="#6687e6"/><rect x="465.57" y="825.06" width="14.97" height="21.12" fill="#4f74e3"/><rect x="480.24" y="825.06" width="14.97" height="21.12" fill="#8098ea"/><rect x="494.92" y="825.06" width="14.97" height="21.12" fill="#6687e6"/><rect x="509.59" y="825.06" width="14.97" height="21.12" fill="#6687e6"/><rect x="524.26" y="825.06" width="14.97" height="21.12" fill="#8098ea"/><rect x="538.93" y="825.06" width="14.97" height="21.12" fill="#4f74e3"/><rect x="553.61" y="825.06" width="14.97" height="21.12" fill="#8098ea"/><rect x="568.28" y="825.06" width="14.97" height="21.12" fill="#9aadee"/><rect x="582.95" y="825.06" width="14.97" height="21.12" fill="#4f74e3"/><rect x="597.62" y="825.06" width="14.97" height="21.12" fill="#6687e6"/><rect x="612.29" y="825.06" width="14.97" height="21.12" fill="#6687e6"/><rect x="626.97" y="825.06" width="14.97" height="21.12" fill="#6687e6"/><rect x="641.64" y="825.06" width="14.97" height="21.12" fill="#3860e0"/><rect x="656.31" y="825.06" width="14.97" height="21.12" fill="#4f74e3"/><rect x="670.98" y="825.06" width="14.97" height="21.12" fill="#6687e6"/><rect x="685.66" y="825.06" width="14.97" height="21.12" fill="#6687e6"/><rect x="700.33" y="825.06" width="14.97" height="21.12" fill="#9aadee"/><rect x="450.90" y="845.88" width="14.97" height="21.12" fill="#8098ea"/><rect x="465.57" y="845.88" width="14.97" height="21.12" fill="#3860e0"/><rect x="480.24" y="845.88" width="14.97" height="21.12" fill="#6687e6"/><rect x="494.92" y="845.88" width="14.97" height="21.12" fill="#ccd6f6"/><rect x="509.59" y="845.88" width="14.97" height="21.12" fill="#8098ea"/><rect x="524.26" y="845.88" width="14.97" height="21.12" fill="#6687e6"/><rect x="538.93" y="845.88" width="14.97" height="21.12" fill="#3860e0"/><rect x="553.61" y="845.88" width="14.97" height="21.12" fill="#8098ea"/><rect x="568.28" y="845.88" width="14.97" height="21.12" fill="#ccd6f6"/><rect x="582.95" y="845.88" width="14.97" height="21.12" fill="#4f74e3"/><rect x="597.62" y="845.88" width="14.97" height="21.12" fill="#ffffff"/><rect x="612.29" y="845.88" width="14.97" height="21.12" fill="#6687e6"/><rect x="626.97" y="845.88" width="14.97" height="21.12" fill="#ffffff"/><rect x="641.64" y="845.88" width="14.97" height="21.12" fill="#8098ea"/><rect x="656.31" y="845.88" width="14.97" height="21.12" fill="#3860e0"/><rect x="670.98" y="845.88" width="14.97" height="21.12" fill="#b3c1f2"/><rect x="685.66" y="845.88" width="14.97" height="21.12" fill="#b3c1f2"/><rect x="700.33" y="845.88" width="14.97" height="21.12" fill="#b3c1f2"/><rect x="450.90" y="866.70" width="14.97" height="21.12" fill="#8098ea"/><rect x="465.57" y="866.70" width="14.97" height="21.12" fill="#6687e6"/><rect x="480.24" y="866.70" width="14.97" height="21.12" fill="#ccd6f6"/><rect x="494.92" y="866.70" width="14.97" height="21.12" fill="#e5eafb"/><rect x="509.59" y="866.70" width="14.97" height="21.12" fill="#4f74e3"/><rect x="524.26" y="866.70" width="14.97" height="21.12" fill="#6687e6"/><rect x="538.93" y="866.70" width="14.97" height="21.12" fill="#8098ea"/><rect x="553.61" y="866.70" width="14.97" height="21.12" fill="#4f74e3"/><rect x="568.28" y="866.70" width="14.97" height="21.12" fill="#8098ea"/><rect x="582.95" y="866.70" width="14.97" height="21.12" fill="#6687e6"/><rect x="597.62" y="866.70" width="14.97" height="21.12" fill="#3860e0"/><rect x="612.29" y="866.70" width="14.97" height="21.12" fill="#e5eafb"/><rect x="626.97" y="866.70" width="14.97" height="21.12" fill="#8098ea"/><rect x="641.64" y="866.70" width="14.97" height="21.12" fill="#3860e0"/><rect x="656.31" y="866.70" width="14.97" height="21.12" fill="#8098ea"/><rect x="670.98" y="866.70" width="14.97" height="21.12" fill="#8098ea"/><rect x="685.66" y="866.70" width="14.97" height="21.12" fill="#9aadee"/><rect x="700.33" y="866.70" width="14.97" height="21.12" fill="#8098ea"/><rect x="450.90" y="887.52" width="14.97" height="21.12" fill="#4f74e3"/><rect x="465.57" y="887.52" width="14.97" height="21.12" fill="#6687e6"/><rect x="480.24" y="887.52" width="14.97" height="21.12" fill="#3860e0"/><rect x="494.92" y="887.52" width="14.97" height="21.12" fill="#4f74e3"/><rect x="509.59" y="887.52" width="14.97" height="21.12" fill="#4f74e3"/><rect x="524.26" y="887.52" width="14.97" height="21.12" fill="#3860e0"/><rect x="538.93" y="887.52" width="14.97" height="21.12" fill="#4f74e3"/><rect x="553.61" y="887.52" width="14.97" height="21.12" fill="#6687e6"/><rect x="568.28" y="887.52" width="14.97" height="21.12" fill="#4f74e3"/><rect x="582.95" y="887.52" width="14.97" height="21.12" fill="#4f74e3"/><rect x="597.62" y="887.52" width="14.97" height="21.12" fill="#4f74e3"/><rect x="612.29" y="887.52" width="14.97" height="21.12" fill="#9aadee"/><rect x="626.97" y="887.52" width="14.97" height="21.12" fill="#8098ea"/><rect x="641.64" y="887.52" width="14.97" height="21.12" fill="#4f74e3"/><rect x="656.31" y="887.52" width="14.97" height="21.12" fill="#3860e0"/><rect x="670.98" y="887.52" width="14.97" height="21.12" fill="#4f74e3"/><rect x="685.66" y="887.52" width="14.97" height="21.12" fill="#8098ea"/><rect x="700.33" y="887.52" width="14.97" height="21.12" fill="#4f74e3"/><rect x="450.90" y="908.34" width="14.97" height="21.12" fill="#4f74e3"/><rect x="465.57" y="908.34" width="14.97" height="21.12" fill="#8098ea"/><rect x="480.24" y="908.34" width="14.97" height="21.12" fill="#6687e6"/><rect x="494.92" y="908.34" width="14.97" height="21.12" fill="#3860e0"/><rect x="509.59" y="908.34" width="14.97" height="21.12" fill="#4f74e3"/><rect x="524.26" y="908.34" width="14.97" height="21.12" fill="#4f74e3"/><rect x="538.93" y="908.34" width="14.97" height="21.12" fill="#4f74e3"/><rect x="553.61" y="908.34" width="14.97" height="21.12" fill="#4f74e3"/><rect x="568.28" y="908.34" width="14.97" height="21.12" fill="#3860e0"/><rect x="582.95" y="908.34" width="14.97" height="21.12" fill="#4f74e3"/><rect x="597.62" y="908.34" width="14.97" height="21.12" fill="#b3c1f2"/><rect x="612.29" y="908.34" width="14.97" height="21.12" fill="#8098ea"/><rect x="626.97" y="908.34" width="14.97" height="21.12" fill="#9aadee"/><rect x="641.64" y="908.34" width="14.97" height="21.12" fill="#ffffff"/><rect x="656.31" y="908.34" width="14.97" height="21.12" fill="#6687e6"/><rect x="670.98" y="908.34" width="14.97" height="21.12" fill="#8098ea"/><rect x="685.66" y="908.34" width="14.97" height="21.12" fill="#6687e6"/><rect x="700.33" y="908.34" width="14.97" height="21.12" fill="#3860e0"/><rect x="450.90" y="929.16" width="14.97" height="21.12" fill="#3860e0"/><rect x="465.57" y="929.16" width="14.97" height="21.12" fill="#6687e6"/><rect x="480.24" y="929.16" width="14.97" height="21.12" fill="#6687e6"/><rect x="494.92" y="929.16" width="14.97" height="21.12" fill="#8098ea"/><rect x="509.59" y="929.16" width="14.97" height="21.12" fill="#4f74e3"/><rect x="524.26" y="929.16" width="14.97" height="21.12" fill="#6687e6"/><rect x="538.93" y="929.16" width="14.97" height="21.12" fill="#6687e6"/><rect x="553.61" y="929.16" width="14.97" height="21.12" fill="#3860e0"/><rect x="568.28" y="929.16" width="14.97" height="21.12" fill="#4f74e3"/><rect x="582.95" y="929.16" width="14.97" height="21.12" fill="#4f74e3"/><rect x="597.62" y="929.16" width="14.97" height="21.12" fill="#9aadee"/><rect x="612.29" y="929.16" width="14.97" height="21.12" fill="#6687e6"/><rect x="626.97" y="929.16" width="14.97" height="21.12" fill="#b3c1f2"/><rect x="641.64" y="929.16" width="14.97" height="21.12" fill="#3860e0"/><rect x="656.31" y="929.16" width="14.97" height="21.12" fill="#6687e6"/><rect x="670.98" y="929.16" width="14.97" height="21.12" fill="#4f74e3"/><rect x="685.66" y="929.16" width="14.97" height="21.12" fill="#3860e0"/><rect x="700.33" y="929.16" width="14.97" height="21.12" fill="#4f74e3"/><rect x="450.90" y="949.98" width="14.97" height="21.12" fill="#3860e0"/><rect x="465.57" y="949.98" width="14.97" height="21.12" fill="#3860e0"/><rect x="480.24" y="949.98" width="14.97" height="21.12" fill="#4f74e3"/><rect x="494.92" y="949.98" width="14.97" height="21.12" fill="#b3c1f2"/><rect x="509.59" y="949.98" width="14.97" height="21.12" fill="#4f74e3"/><rect x="524.26" y="949.98" width="14.97" height="21.12" fill="#3860e0"/><rect x="538.93" y="949.98" width="14.97" height="21.12" fill="#8098ea"/><rect x="553.61" y="949.98" width="14.97" height="21.12" fill="#4f74e3"/><rect x="568.28" y="949.98" width="14.97" height="21.12" fill="#e5eafb"/><rect x="582.95" y="949.98" width="14.97" height="21.12" fill="#4f74e3"/><rect x="597.62" y="949.98" width="14.97" height="21.12" fill="#6687e6"/><rect x="612.29" y="949.98" width="14.97" height="21.12" fill="#8098ea"/><rect x="626.97" y="949.98" width="14.97" height="21.12" fill="#4f74e3"/><rect x="641.64" y="949.98" width="14.97" height="21.12" fill="#6687e6"/><rect x="656.31" y="949.98" width="14.97" height="21.12" fill="#4f74e3"/><rect x="670.98" y="949.98" width="14.97" height="21.12" fill="#ccd6f6"/><rect x="685.66" y="949.98" width="14.97" height="21.12" fill="#4f74e3"/><rect x="700.33" y="949.98" width="14.97" height="21.12" fill="#b3c1f2"/></g>
<line x1="465.6" y1="762.6" x2="465.6" y2="970.8" stroke="#1a1a1a" stroke-width="0.9" />
<line x1="480.2" y1="762.6" x2="480.2" y2="970.8" stroke="#1a1a1a" stroke-width="0.9" />
<line x1="509.6" y1="762.6" x2="509.6" y2="970.8" stroke="#1a1a1a" stroke-width="0.9" />
<line x1="524.3" y1="762.6" x2="524.3" y2="970.8" stroke="#1a1a1a" stroke-width="0.9" />
<line x1="553.6" y1="762.6" x2="553.6" y2="970.8" stroke="#1a1a1a" stroke-width="0.9" />
<line x1="568.3" y1="762.6" x2="568.3" y2="970.8" stroke="#1a1a1a" stroke-width="0.9" />
<line x1="612.3" y1="762.6" x2="612.3" y2="970.8" stroke="#1a1a1a" stroke-width="0.9" />
<line x1="656.3" y1="762.6" x2="656.3" y2="970.8" stroke="#1a1a1a" stroke-width="0.9" />
<line x1="700.3" y1="762.6" x2="700.3" y2="970.8" stroke="#1a1a1a" stroke-width="0.9" />
<line x1="450.9" y1="866.7" x2="715.0" y2="866.7" stroke="#1a1a1a" stroke-width="0.9" />
<line x1="450.9" y1="887.5" x2="715.0" y2="887.5" stroke="#1a1a1a" stroke-width="0.9" />
<line x1="450.9" y1="908.3" x2="715.0" y2="908.3" stroke="#1a1a1a" stroke-width="0.9" />
<line x1="450.9" y1="929.2" x2="715.0" y2="929.2" stroke="#1a1a1a" stroke-width="0.9" />
<line x1="450.9" y1="762.6" x2="715.0" y2="762.6" stroke="#1a1a1a" stroke-width="0.9" />
<text x="443.6" y="779.7" font-size="17.1" text-anchor="end" fill="#1a1a1a">1</text>
<text x="443.6" y="800.5" font-size="17.1" text-anchor="end" fill="#1a1a1a">2</text>
<text x="443.6" y="821.4" font-size="17.1" text-anchor="end" fill="#1a1a1a">3</text>
<text x="443.6" y="842.2" font-size="17.1" text-anchor="end" fill="#1a1a1a">4</text>
<text x="443.6" y="863.0" font-size="17.1" text-anchor="end" fill="#1a1a1a">5</text>
<text x="443.6" y="883.8" font-size="17.1" text-anchor="end" fill="#1a1a1a">6</text>
<text x="443.6" y="904.6" font-size="17.1" text-anchor="end" fill="#1a1a1a">7</text>
<text x="443.6" y="925.5" font-size="17.1" text-anchor="end" fill="#1a1a1a">8</text>
<text x="443.6" y="946.3" font-size="17.1" text-anchor="end" fill="#1a1a1a">9</text>
<text x="443.6" y="967.1" font-size="17.1" text-anchor="end" fill="#1a1a1a">10</text>
<text font-size="17.1" text-anchor="end" fill="#1a1a1a" transform="translate(464.2,977.4) rotate(-90)">1</text>
<text font-size="17.1" text-anchor="end" fill="#1a1a1a" transform="translate(493.6,977.4) rotate(-90)">3</text>
<text font-size="17.1" text-anchor="end" fill="#1a1a1a" transform="translate(522.9,977.4) rotate(-90)">5</text>
<text font-size="17.1" text-anchor="end" fill="#1a1a1a" transform="translate(552.3,977.4) rotate(-90)">7</text>
<text font-size="17.1" text-anchor="end" fill="#1a1a1a" transform="translate(581.6,977.4) rotate(-90)">9</text>
<text font-size="17.1" text-anchor="end" fill="#1a1a1a" transform="translate(611.0,977.4) rotate(-90)">11</text>
<text font-size="17.1" text-anchor="end" fill="#1a1a1a" transform="translate(640.3,977.4) rotate(-90)">13</text>
<text font-size="17.1" text-anchor="end" fill="#1a1a1a" transform="translate(669.6,977.4) rotate(-90)">15</text>
<text font-size="17.1" text-anchor="end" fill="#1a1a1a" transform="translate(699.0,977.4) rotate(-90)">17</text>
<text x="583.0" y="1016.8" font-size="19.3" text-anchor="middle" fill="#1a1a1a">Gas number</text>
<text font-size="19.3" text-anchor="middle" fill="#1a1a1a" transform="translate(417.5,866.8) rotate(-90)">Sample number</text>
<g shape-rendering="crispEdges"><rect x="722.2" y="953.45" width="14.6" height="17.65" fill="#3860e0"/><rect x="722.2" y="936.10" width="14.6" height="17.65" fill="#4f74e3"/><rect x="722.2" y="918.75" width="14.6" height="17.65" fill="#6687e6"/><rect x="722.2" y="901.40" width="14.6" height="17.65" fill="#8098ea"/><rect x="722.2" y="884.05" width="14.6" height="17.65" fill="#9aadee"/><rect x="722.2" y="866.70" width="14.6" height="17.65" fill="#b3c1f2"/><rect x="722.2" y="849.35" width="14.6" height="17.65" fill="#ccd6f6"/><rect x="722.2" y="832.00" width="14.6" height="17.65" fill="#e5eafb"/><rect x="722.2" y="814.65" width="14.6" height="17.65" fill="#ffffff"/><rect x="722.2" y="797.30" width="14.6" height="17.65" fill="#ffffff"/><rect x="722.2" y="779.95" width="14.6" height="17.65" fill="#ff9184"/><rect x="722.2" y="762.60" width="14.6" height="17.65" fill="#ff1a00"/></g>
<line x1="736.8" y1="762.6" x2="736.8" y2="970.8" stroke="#1a1a1a" stroke-width="0.9" />
<line x1="722.2" y1="970.8" x2="736.8" y2="970.8" stroke="#1a1a1a" stroke-width="0.9" />
<line x1="722.2" y1="762.6" x2="736.8" y2="762.6" stroke="#1a1a1a" stroke-width="0.9" />
<line x1="734.3" y1="970.8" x2="736.8" y2="970.8" stroke="#1a1a1a" stroke-width="0.9" />
<text x="741.5" y="976.8" font-size="17.1" fill="#1a1a1a">0</text>
<line x1="734.3" y1="936.1" x2="736.8" y2="936.1" stroke="#1a1a1a" stroke-width="0.9" />
<text x="741.5" y="942.1" font-size="17.1" fill="#1a1a1a">0.1</text>
<line x1="734.3" y1="901.4" x2="736.8" y2="901.4" stroke="#1a1a1a" stroke-width="0.9" />
<text x="741.5" y="907.4" font-size="17.1" fill="#1a1a1a">0.2</text>
<line x1="734.3" y1="866.7" x2="736.8" y2="866.7" stroke="#1a1a1a" stroke-width="0.9" />
<text x="741.5" y="872.7" font-size="17.1" fill="#1a1a1a">0.3</text>
<line x1="734.3" y1="832.0" x2="736.8" y2="832.0" stroke="#1a1a1a" stroke-width="0.9" />
<text x="741.5" y="838.0" font-size="17.1" fill="#1a1a1a">0.4</text>
<line x1="734.3" y1="797.3" x2="736.8" y2="797.3" stroke="#1a1a1a" stroke-width="0.9" />
<text x="741.5" y="803.3" font-size="17.1" fill="#1a1a1a">0.5</text>
<text x="445.8" y="1091.8" font-size="35" font-weight="bold" fill="#231815">h</text>
<text x="596.0" y="1092.8" font-size="19.5" font-weight="bold" text-anchor="middle" fill="#231815">Relative prediction errors</text>
<g shape-rendering="crispEdges"><rect x="450.90" y="1100.60" width="14.97" height="21.12" fill="#4f74e3"/><rect x="465.57" y="1100.60" width="14.97" height="21.12" fill="#b3c1f2"/><rect x="480.24" y="1100.60" width="14.97" height="21.12" fill="#3860e0"/><rect x="494.92" y="1100.60" width="14.97" height="21.12" fill="#8098ea"/><rect x="509.59" y="1100.60" width="14.97" height="21.12" fill="#3860e0"/><rect x="524.26" y="1100.60" width="14.97" height="21.12" fill="#6687e6"/><rect x="538.93" y="1100.60" width="14.97" height="21.12" fill="#8098ea"/><rect x="553.61" y="1100.60" width="14.97" height="21.12" fill="#3860e0"/><rect x="568.28" y="1100.60" width="14.97" height="21.12" fill="#4f74e3"/><rect x="582.95" y="1100.60" width="14.97" height="21.12" fill="#6687e6"/><rect x="597.62" y="1100.60" width="14.97" height="21.12" fill="#3860e0"/><rect x="612.29" y="1100.60" width="14.97" height="21.12" fill="#6687e6"/><rect x="626.97" y="1100.60" width="14.97" height="21.12" fill="#8098ea"/><rect x="641.64" y="1100.60" width="14.97" height="21.12" fill="#4f74e3"/><rect x="656.31" y="1100.60" width="14.97" height="21.12" fill="#3860e0"/><rect x="670.98" y="1100.60" width="14.97" height="21.12" fill="#8098ea"/><rect x="685.66" y="1100.60" width="14.97" height="21.12" fill="#4f74e3"/><rect x="700.33" y="1100.60" width="14.97" height="21.12" fill="#9aadee"/><rect x="450.90" y="1121.42" width="14.97" height="21.12" fill="#4f74e3"/><rect x="465.57" y="1121.42" width="14.97" height="21.12" fill="#4f74e3"/><rect x="480.24" y="1121.42" width="14.97" height="21.12" fill="#3860e0"/><rect x="494.92" y="1121.42" width="14.97" height="21.12" fill="#4f74e3"/><rect x="509.59" y="1121.42" width="14.97" height="21.12" fill="#4f74e3"/><rect x="524.26" y="1121.42" width="14.97" height="21.12" fill="#6687e6"/><rect x="538.93" y="1121.42" width="14.97" height="21.12" fill="#9aadee"/><rect x="553.61" y="1121.42" width="14.97" height="21.12" fill="#6687e6"/><rect x="568.28" y="1121.42" width="14.97" height="21.12" fill="#4f74e3"/><rect x="582.95" y="1121.42" width="14.97" height="21.12" fill="#4f74e3"/><rect x="597.62" y="1121.42" width="14.97" height="21.12" fill="#4f74e3"/><rect x="612.29" y="1121.42" width="14.97" height="21.12" fill="#8098ea"/><rect x="626.97" y="1121.42" width="14.97" height="21.12" fill="#4f74e3"/><rect x="641.64" y="1121.42" width="14.97" height="21.12" fill="#4f74e3"/><rect x="656.31" y="1121.42" width="14.97" height="21.12" fill="#4f74e3"/><rect x="670.98" y="1121.42" width="14.97" height="21.12" fill="#4f74e3"/><rect x="685.66" y="1121.42" width="14.97" height="21.12" fill="#9aadee"/><rect x="700.33" y="1121.42" width="14.97" height="21.12" fill="#6687e6"/><rect x="450.90" y="1142.24" width="14.97" height="21.12" fill="#4f74e3"/><rect x="465.57" y="1142.24" width="14.97" height="21.12" fill="#6687e6"/><rect x="480.24" y="1142.24" width="14.97" height="21.12" fill="#4f74e3"/><rect x="494.92" y="1142.24" width="14.97" height="21.12" fill="#9aadee"/><rect x="509.59" y="1142.24" width="14.97" height="21.12" fill="#4f74e3"/><rect x="524.26" y="1142.24" width="14.97" height="21.12" fill="#3860e0"/><rect x="538.93" y="1142.24" width="14.97" height="21.12" fill="#3860e0"/><rect x="553.61" y="1142.24" width="14.97" height="21.12" fill="#e5eafb"/><rect x="568.28" y="1142.24" width="14.97" height="21.12" fill="#9aadee"/><rect x="582.95" y="1142.24" width="14.97" height="21.12" fill="#6687e6"/><rect x="597.62" y="1142.24" width="14.97" height="21.12" fill="#4f74e3"/><rect x="612.29" y="1142.24" width="14.97" height="21.12" fill="#6687e6"/><rect x="626.97" y="1142.24" width="14.97" height="21.12" fill="#6687e6"/><rect x="641.64" y="1142.24" width="14.97" height="21.12" fill="#9aadee"/><rect x="656.31" y="1142.24" width="14.97" height="21.12" fill="#6687e6"/><rect x="670.98" y="1142.24" width="14.97" height="21.12" fill="#8098ea"/><rect x="685.66" y="1142.24" width="14.97" height="21.12" fill="#8098ea"/><rect x="700.33" y="1142.24" width="14.97" height="21.12" fill="#4f74e3"/><rect x="450.90" y="1163.06" width="14.97" height="21.12" fill="#3860e0"/><rect x="465.57" y="1163.06" width="14.97" height="21.12" fill="#3860e0"/><rect x="480.24" y="1163.06" width="14.97" height="21.12" fill="#3860e0"/><rect x="494.92" y="1163.06" width="14.97" height="21.12" fill="#4f74e3"/><rect x="509.59" y="1163.06" width="14.97" height="21.12" fill="#3860e0"/><rect x="524.26" y="1163.06" width="14.97" height="21.12" fill="#3860e0"/><rect x="538.93" y="1163.06" width="14.97" height="21.12" fill="#4f74e3"/><rect x="553.61" y="1163.06" width="14.97" height="21.12" fill="#3860e0"/><rect x="568.28" y="1163.06" width="14.97" height="21.12" fill="#3860e0"/><rect x="582.95" y="1163.06" width="14.97" height="21.12" fill="#4f74e3"/><rect x="597.62" y="1163.06" width="14.97" height="21.12" fill="#3860e0"/><rect x="612.29" y="1163.06" width="14.97" height="21.12" fill="#4f74e3"/><rect x="626.97" y="1163.06" width="14.97" height="21.12" fill="#4f74e3"/><rect x="641.64" y="1163.06" width="14.97" height="21.12" fill="#4f74e3"/><rect x="656.31" y="1163.06" width="14.97" height="21.12" fill="#4f74e3"/><rect x="670.98" y="1163.06" width="14.97" height="21.12" fill="#4f74e3"/><rect x="685.66" y="1163.06" width="14.97" height="21.12" fill="#3860e0"/><rect x="700.33" y="1163.06" width="14.97" height="21.12" fill="#3860e0"/><rect x="450.90" y="1183.88" width="14.97" height="21.12" fill="#3860e0"/><rect x="465.57" y="1183.88" width="14.97" height="21.12" fill="#3860e0"/><rect x="480.24" y="1183.88" width="14.97" height="21.12" fill="#4f74e3"/><rect x="494.92" y="1183.88" width="14.97" height="21.12" fill="#6687e6"/><rect x="509.59" y="1183.88" width="14.97" height="21.12" fill="#3860e0"/><rect x="524.26" y="1183.88" width="14.97" height="21.12" fill="#4f74e3"/><rect x="538.93" y="1183.88" width="14.97" height="21.12" fill="#8098ea"/><rect x="553.61" y="1183.88" width="14.97" height="21.12" fill="#8098ea"/><rect x="568.28" y="1183.88" width="14.97" height="21.12" fill="#3860e0"/><rect x="582.95" y="1183.88" width="14.97" height="21.12" fill="#4f74e3"/><rect x="597.62" y="1183.88" width="14.97" height="21.12" fill="#6687e6"/><rect x="612.29" y="1183.88" width="14.97" height="21.12" fill="#6687e6"/><rect x="626.97" y="1183.88" width="14.97" height="21.12" fill="#4f74e3"/><rect x="641.64" y="1183.88" width="14.97" height="21.12" fill="#4f74e3"/><rect x="656.31" y="1183.88" width="14.97" height="21.12" fill="#4f74e3"/><rect x="670.98" y="1183.88" width="14.97" height="21.12" fill="#3860e0"/><rect x="685.66" y="1183.88" width="14.97" height="21.12" fill="#3860e0"/><rect x="700.33" y="1183.88" width="14.97" height="21.12" fill="#4f74e3"/><rect x="450.90" y="1204.70" width="14.97" height="21.12" fill="#3860e0"/><rect x="465.57" y="1204.70" width="14.97" height="21.12" fill="#4f74e3"/><rect x="480.24" y="1204.70" width="14.97" height="21.12" fill="#9aadee"/><rect x="494.92" y="1204.70" width="14.97" height="21.12" fill="#4f74e3"/><rect x="509.59" y="1204.70" width="14.97" height="21.12" fill="#4f74e3"/><rect x="524.26" y="1204.70" width="14.97" height="21.12" fill="#6687e6"/><rect x="538.93" y="1204.70" width="14.97" height="21.12" fill="#8098ea"/><rect x="553.61" y="1204.70" width="14.97" height="21.12" fill="#8098ea"/><rect x="568.28" y="1204.70" width="14.97" height="21.12" fill="#4f74e3"/><rect x="582.95" y="1204.70" width="14.97" height="21.12" fill="#4f74e3"/><rect x="597.62" y="1204.70" width="14.97" height="21.12" fill="#3860e0"/><rect x="612.29" y="1204.70" width="14.97" height="21.12" fill="#9aadee"/><rect x="626.97" y="1204.70" width="14.97" height="21.12" fill="#6687e6"/><rect x="641.64" y="1204.70" width="14.97" height="21.12" fill="#8098ea"/><rect x="656.31" y="1204.70" width="14.97" height="21.12" fill="#4f74e3"/><rect x="670.98" y="1204.70" width="14.97" height="21.12" fill="#4f74e3"/><rect x="685.66" y="1204.70" width="14.97" height="21.12" fill="#6687e6"/><rect x="700.33" y="1204.70" width="14.97" height="21.12" fill="#9aadee"/><rect x="450.90" y="1225.52" width="14.97" height="21.12" fill="#4f74e3"/><rect x="465.57" y="1225.52" width="14.97" height="21.12" fill="#3860e0"/><rect x="480.24" y="1225.52" width="14.97" height="21.12" fill="#4f74e3"/><rect x="494.92" y="1225.52" width="14.97" height="21.12" fill="#6687e6"/><rect x="509.59" y="1225.52" width="14.97" height="21.12" fill="#3860e0"/><rect x="524.26" y="1225.52" width="14.97" height="21.12" fill="#6687e6"/><rect x="538.93" y="1225.52" width="14.97" height="21.12" fill="#6687e6"/><rect x="553.61" y="1225.52" width="14.97" height="21.12" fill="#4f74e3"/><rect x="568.28" y="1225.52" width="14.97" height="21.12" fill="#3860e0"/><rect x="582.95" y="1225.52" width="14.97" height="21.12" fill="#4f74e3"/><rect x="597.62" y="1225.52" width="14.97" height="21.12" fill="#4f74e3"/><rect x="612.29" y="1225.52" width="14.97" height="21.12" fill="#3860e0"/><rect x="626.97" y="1225.52" width="14.97" height="21.12" fill="#4f74e3"/><rect x="641.64" y="1225.52" width="14.97" height="21.12" fill="#6687e6"/><rect x="656.31" y="1225.52" width="14.97" height="21.12" fill="#6687e6"/><rect x="670.98" y="1225.52" width="14.97" height="21.12" fill="#6687e6"/><rect x="685.66" y="1225.52" width="14.97" height="21.12" fill="#4f74e3"/><rect x="700.33" y="1225.52" width="14.97" height="21.12" fill="#4f74e3"/><rect x="450.90" y="1246.34" width="14.97" height="21.12" fill="#4f74e3"/><rect x="465.57" y="1246.34" width="14.97" height="21.12" fill="#4f74e3"/><rect x="480.24" y="1246.34" width="14.97" height="21.12" fill="#3860e0"/><rect x="494.92" y="1246.34" width="14.97" height="21.12" fill="#4f74e3"/><rect x="509.59" y="1246.34" width="14.97" height="21.12" fill="#8098ea"/><rect x="524.26" y="1246.34" width="14.97" height="21.12" fill="#4f74e3"/><rect x="538.93" y="1246.34" width="14.97" height="21.12" fill="#4f74e3"/><rect x="553.61" y="1246.34" width="14.97" height="21.12" fill="#4f74e3"/><rect x="568.28" y="1246.34" width="14.97" height="21.12" fill="#6687e6"/><rect x="582.95" y="1246.34" width="14.97" height="21.12" fill="#9aadee"/><rect x="597.62" y="1246.34" width="14.97" height="21.12" fill="#4f74e3"/><rect x="612.29" y="1246.34" width="14.97" height="21.12" fill="#6687e6"/><rect x="626.97" y="1246.34" width="14.97" height="21.12" fill="#8098ea"/><rect x="641.64" y="1246.34" width="14.97" height="21.12" fill="#9aadee"/><rect x="656.31" y="1246.34" width="14.97" height="21.12" fill="#8098ea"/><rect x="670.98" y="1246.34" width="14.97" height="21.12" fill="#6687e6"/><rect x="685.66" y="1246.34" width="14.97" height="21.12" fill="#ccd6f6"/><rect x="700.33" y="1246.34" width="14.97" height="21.12" fill="#4f74e3"/><rect x="450.90" y="1267.16" width="14.97" height="21.12" fill="#3860e0"/><rect x="465.57" y="1267.16" width="14.97" height="21.12" fill="#4f74e3"/><rect x="480.24" y="1267.16" width="14.97" height="21.12" fill="#6687e6"/><rect x="494.92" y="1267.16" width="14.97" height="21.12" fill="#3860e0"/><rect x="509.59" y="1267.16" width="14.97" height="21.12" fill="#4f74e3"/><rect x="524.26" y="1267.16" width="14.97" height="21.12" fill="#8098ea"/><rect x="538.93" y="1267.16" width="14.97" height="21.12" fill="#8098ea"/><rect x="553.61" y="1267.16" width="14.97" height="21.12" fill="#4f74e3"/><rect x="568.28" y="1267.16" width="14.97" height="21.12" fill="#b3c1f2"/><rect x="582.95" y="1267.16" width="14.97" height="21.12" fill="#3860e0"/><rect x="597.62" y="1267.16" width="14.97" height="21.12" fill="#8098ea"/><rect x="612.29" y="1267.16" width="14.97" height="21.12" fill="#3860e0"/><rect x="626.97" y="1267.16" width="14.97" height="21.12" fill="#4f74e3"/><rect x="641.64" y="1267.16" width="14.97" height="21.12" fill="#4f74e3"/><rect x="656.31" y="1267.16" width="14.97" height="21.12" fill="#3860e0"/><rect x="670.98" y="1267.16" width="14.97" height="21.12" fill="#4f74e3"/><rect x="685.66" y="1267.16" width="14.97" height="21.12" fill="#8098ea"/><rect x="700.33" y="1267.16" width="14.97" height="21.12" fill="#4f74e3"/><rect x="450.90" y="1287.98" width="14.97" height="21.12" fill="#4f74e3"/><rect x="465.57" y="1287.98" width="14.97" height="21.12" fill="#3860e0"/><rect x="480.24" y="1287.98" width="14.97" height="21.12" fill="#3860e0"/><rect x="494.92" y="1287.98" width="14.97" height="21.12" fill="#4f74e3"/><rect x="509.59" y="1287.98" width="14.97" height="21.12" fill="#6687e6"/><rect x="524.26" y="1287.98" width="14.97" height="21.12" fill="#3860e0"/><rect x="538.93" y="1287.98" width="14.97" height="21.12" fill="#3860e0"/><rect x="553.61" y="1287.98" width="14.97" height="21.12" fill="#e5eafb"/><rect x="568.28" y="1287.98" width="14.97" height="21.12" fill="#8098ea"/><rect x="582.95" y="1287.98" width="14.97" height="21.12" fill="#3860e0"/><rect x="597.62" y="1287.98" width="14.97" height="21.12" fill="#6687e6"/><rect x="612.29" y="1287.98" width="14.97" height="21.12" fill="#6687e6"/><rect x="626.97" y="1287.98" width="14.97" height="21.12" fill="#4f74e3"/><rect x="641.64" y="1287.98" width="14.97" height="21.12" fill="#8098ea"/><rect x="656.31" y="1287.98" width="14.97" height="21.12" fill="#6687e6"/><rect x="670.98" y="1287.98" width="14.97" height="21.12" fill="#6687e6"/><rect x="685.66" y="1287.98" width="14.97" height="21.12" fill="#6687e6"/><rect x="700.33" y="1287.98" width="14.97" height="21.12" fill="#4f74e3"/></g>
<line x1="465.6" y1="1100.6" x2="465.6" y2="1308.8" stroke="#1a1a1a" stroke-width="0.9" />
<line x1="480.2" y1="1100.6" x2="480.2" y2="1308.8" stroke="#1a1a1a" stroke-width="0.9" />
<line x1="509.6" y1="1100.6" x2="509.6" y2="1308.8" stroke="#1a1a1a" stroke-width="0.9" />
<line x1="524.3" y1="1100.6" x2="524.3" y2="1308.8" stroke="#1a1a1a" stroke-width="0.9" />
<line x1="553.6" y1="1100.6" x2="553.6" y2="1308.8" stroke="#1a1a1a" stroke-width="0.9" />
<line x1="568.3" y1="1100.6" x2="568.3" y2="1308.8" stroke="#1a1a1a" stroke-width="0.9" />
<line x1="612.3" y1="1100.6" x2="612.3" y2="1308.8" stroke="#1a1a1a" stroke-width="0.9" />
<line x1="656.3" y1="1100.6" x2="656.3" y2="1308.8" stroke="#1a1a1a" stroke-width="0.9" />
<line x1="700.3" y1="1100.6" x2="700.3" y2="1308.8" stroke="#1a1a1a" stroke-width="0.9" />
<line x1="450.9" y1="1142.2" x2="715.0" y2="1142.2" stroke="#1a1a1a" stroke-width="0.9" />
<line x1="450.9" y1="1163.1" x2="715.0" y2="1163.1" stroke="#1a1a1a" stroke-width="0.9" />
<line x1="450.9" y1="1183.9" x2="715.0" y2="1183.9" stroke="#1a1a1a" stroke-width="0.9" />
<line x1="450.9" y1="1204.7" x2="715.0" y2="1204.7" stroke="#1a1a1a" stroke-width="0.9" />
<line x1="450.9" y1="1288.0" x2="715.0" y2="1288.0" stroke="#1a1a1a" stroke-width="0.9" />
<line x1="450.9" y1="1308.8" x2="715.0" y2="1308.8" stroke="#1a1a1a" stroke-width="0.9" />
<line x1="450.9" y1="1100.6" x2="715.0" y2="1100.6" stroke="#1a1a1a" stroke-width="0.9" />
<text x="443.6" y="1117.7" font-size="17.1" text-anchor="end" fill="#1a1a1a">1</text>
<text x="443.6" y="1138.5" font-size="17.1" text-anchor="end" fill="#1a1a1a">2</text>
<text x="443.6" y="1159.3" font-size="17.1" text-anchor="end" fill="#1a1a1a">3</text>
<text x="443.6" y="1180.2" font-size="17.1" text-anchor="end" fill="#1a1a1a">4</text>
<text x="443.6" y="1201.0" font-size="17.1" text-anchor="end" fill="#1a1a1a">5</text>
<text x="443.6" y="1221.8" font-size="17.1" text-anchor="end" fill="#1a1a1a">6</text>
<text x="443.6" y="1242.6" font-size="17.1" text-anchor="end" fill="#1a1a1a">7</text>
<text x="443.6" y="1263.5" font-size="17.1" text-anchor="end" fill="#1a1a1a">8</text>
<text x="443.6" y="1284.3" font-size="17.1" text-anchor="end" fill="#1a1a1a">9</text>
<text x="443.6" y="1305.1" font-size="17.1" text-anchor="end" fill="#1a1a1a">10</text>
<text font-size="17.1" text-anchor="end" fill="#1a1a1a" transform="translate(464.2,1315.4) rotate(-90)">1</text>
<text font-size="17.1" text-anchor="end" fill="#1a1a1a" transform="translate(493.6,1315.4) rotate(-90)">3</text>
<text font-size="17.1" text-anchor="end" fill="#1a1a1a" transform="translate(522.9,1315.4) rotate(-90)">5</text>
<text font-size="17.1" text-anchor="end" fill="#1a1a1a" transform="translate(552.3,1315.4) rotate(-90)">7</text>
<text font-size="17.1" text-anchor="end" fill="#1a1a1a" transform="translate(581.6,1315.4) rotate(-90)">9</text>
<text font-size="17.1" text-anchor="end" fill="#1a1a1a" transform="translate(611.0,1315.4) rotate(-90)">11</text>
<text font-size="17.1" text-anchor="end" fill="#1a1a1a" transform="translate(640.3,1315.4) rotate(-90)">13</text>
<text font-size="17.1" text-anchor="end" fill="#1a1a1a" transform="translate(669.6,1315.4) rotate(-90)">15</text>
<text font-size="17.1" text-anchor="end" fill="#1a1a1a" transform="translate(699.0,1315.4) rotate(-90)">17</text>
<text x="583.0" y="1354.8" font-size="19.3" text-anchor="middle" fill="#1a1a1a">Gas number</text>
<text font-size="19.3" text-anchor="middle" fill="#1a1a1a" transform="translate(417.5,1204.8) rotate(-90)">Sample number</text>
<g shape-rendering="crispEdges"><rect x="722.2" y="1291.45" width="14.6" height="17.65" fill="#3860e0"/><rect x="722.2" y="1274.10" width="14.6" height="17.65" fill="#4f74e3"/><rect x="722.2" y="1256.75" width="14.6" height="17.65" fill="#6687e6"/><rect x="722.2" y="1239.40" width="14.6" height="17.65" fill="#8098ea"/><rect x="722.2" y="1222.05" width="14.6" height="17.65" fill="#9aadee"/><rect x="722.2" y="1204.70" width="14.6" height="17.65" fill="#b3c1f2"/><rect x="722.2" y="1187.35" width="14.6" height="17.65" fill="#ccd6f6"/><rect x="722.2" y="1170.00" width="14.6" height="17.65" fill="#e5eafb"/><rect x="722.2" y="1152.65" width="14.6" height="17.65" fill="#ffffff"/><rect x="722.2" y="1135.30" width="14.6" height="17.65" fill="#ffffff"/><rect x="722.2" y="1117.95" width="14.6" height="17.65" fill="#ff9184"/><rect x="722.2" y="1100.60" width="14.6" height="17.65" fill="#ff1a00"/></g>
<line x1="736.8" y1="1100.6" x2="736.8" y2="1308.8" stroke="#1a1a1a" stroke-width="0.9" />
<line x1="722.2" y1="1308.8" x2="736.8" y2="1308.8" stroke="#1a1a1a" stroke-width="0.9" />
<line x1="722.2" y1="1100.6" x2="736.8" y2="1100.6" stroke="#1a1a1a" stroke-width="0.9" />
<line x1="734.3" y1="1308.8" x2="736.8" y2="1308.8" stroke="#1a1a1a" stroke-width="0.9" />
<text x="741.5" y="1314.8" font-size="17.1" fill="#1a1a1a">0</text>
<line x1="734.3" y1="1274.1" x2="736.8" y2="1274.1" stroke="#1a1a1a" stroke-width="0.9" />
<text x="741.5" y="1280.1" font-size="17.1" fill="#1a1a1a">0.1</text>
<line x1="734.3" y1="1239.4" x2="736.8" y2="1239.4" stroke="#1a1a1a" stroke-width="0.9" />
<text x="741.5" y="1245.4" font-size="17.1" fill="#1a1a1a">0.2</text>
<line x1="734.3" y1="1204.7" x2="736.8" y2="1204.7" stroke="#1a1a1a" stroke-width="0.9" />
<text x="741.5" y="1210.7" font-size="17.1" fill="#1a1a1a">0.3</text>
<line x1="734.3" y1="1170.0" x2="736.8" y2="1170.0" stroke="#1a1a1a" stroke-width="0.9" />
<text x="741.5" y="1176.0" font-size="17.1" fill="#1a1a1a">0.4</text>
<line x1="734.3" y1="1135.3" x2="736.8" y2="1135.3" stroke="#1a1a1a" stroke-width="0.9" />
<text x="741.5" y="1141.3" font-size="17.1" fill="#1a1a1a">0.5</text>
<text x="824.5" y="753.2" font-size="35" font-weight="bold" fill="#231815">f</text>
<text x="990.0" y="753.8" font-size="19.5" font-weight="bold" text-anchor="middle" fill="#231815">RMSEs</text>
<line x1="849.0" y1="817.7" x2="1127.0" y2="817.7" stroke="#d0d0d0" stroke-width="1.0" />
<line x1="849.0" y1="799.1" x2="1127.0" y2="799.1" stroke="#d0d0d0" stroke-width="1.0" />
<line x1="849.0" y1="780.5" x2="1127.0" y2="780.5" stroke="#d0d0d0" stroke-width="1.0" />
<line x1="866.0" y1="762.0" x2="866.0" y2="836.2" stroke="#d0d0d0" stroke-width="1.0" />
<line x1="894.6" y1="762.0" x2="894.6" y2="836.2" stroke="#d0d0d0" stroke-width="1.0" />
<line x1="923.2" y1="762.0" x2="923.2" y2="836.2" stroke="#d0d0d0" stroke-width="1.0" />
<line x1="951.8" y1="762.0" x2="951.8" y2="836.2" stroke="#d0d0d0" stroke-width="1.0" />
<line x1="980.4" y1="762.0" x2="980.4" y2="836.2" stroke="#d0d0d0" stroke-width="1.0" />
<line x1="1009.0" y1="762.0" x2="1009.0" y2="836.2" stroke="#d0d0d0" stroke-width="1.0" />
<line x1="1037.6" y1="762.0" x2="1037.6" y2="836.2" stroke="#d0d0d0" stroke-width="1.0" />
<line x1="1066.2" y1="762.0" x2="1066.2" y2="836.2" stroke="#d0d0d0" stroke-width="1.0" />
<line x1="1094.8" y1="762.0" x2="1094.8" y2="836.2" stroke="#d0d0d0" stroke-width="1.0" />
<rect x="860.6" y="824.0" width="10.8" height="12.2" fill="#fb41bd" stroke="#000" stroke-width="1.5" rx="0" />
<rect x="874.9" y="827.4" width="10.8" height="8.8" fill="#fb41bd" stroke="#000" stroke-width="1.5" rx="0" />
<rect x="889.2" y="818.1" width="10.8" height="18.2" fill="#fb41bd" stroke="#000" stroke-width="1.5" rx="0" />
<rect x="903.5" y="823.2" width="10.8" height="13.0" fill="#fb41bd" stroke="#000" stroke-width="1.5" rx="0" />
<rect x="917.8" y="819.8" width="10.8" height="16.4" fill="#fb41bd" stroke="#000" stroke-width="1.5" rx="0" />
<rect x="932.1" y="824.0" width="10.8" height="12.2" fill="#fb41bd" stroke="#000" stroke-width="1.5" rx="0" />
<rect x="946.4" y="820.8" width="10.8" height="15.4" fill="#fb41bd" stroke="#000" stroke-width="1.5" rx="0" />
<rect x="960.7" y="819.3" width="10.8" height="16.9" fill="#fb41bd" stroke="#000" stroke-width="1.5" rx="0" />
<rect x="975.0" y="804.2" width="10.8" height="32.0" fill="#fb41bd" stroke="#000" stroke-width="1.5" rx="0" />
<rect x="989.3" y="827.4" width="10.8" height="8.8" fill="#fb41bd" stroke="#000" stroke-width="1.5" rx="0" />
<rect x="1003.6" y="817.1" width="10.8" height="19.1" fill="#fb41bd" stroke="#000" stroke-width="1.5" rx="0" />
<rect x="1017.9" y="815.1" width="10.8" height="21.1" fill="#fb41bd" stroke="#000" stroke-width="1.5" rx="0" />
<rect x="1032.2" y="811.4" width="10.8" height="24.8" fill="#fb41bd" stroke="#000" stroke-width="1.5" rx="0" />
<rect x="1046.5" y="817.1" width="10.8" height="19.1" fill="#fb41bd" stroke="#000" stroke-width="1.5" rx="0" />
<rect x="1060.8" y="826.5" width="10.8" height="9.7" fill="#fb41bd" stroke="#000" stroke-width="1.5" rx="0" />
<rect x="1075.1" y="811.9" width="10.8" height="24.3" fill="#fb41bd" stroke="#000" stroke-width="1.5" rx="0" />
<rect x="1089.4" y="814.1" width="10.8" height="22.1" fill="#fb41bd" stroke="#000" stroke-width="1.5" rx="0" />
<rect x="1103.7" y="808.2" width="10.8" height="28.0" fill="#fb41bd" stroke="#000" stroke-width="1.5" rx="0" />
<rect x="849.0" y="762.0" width="278.0" height="74.2" fill="none" stroke="#1a1a1a" stroke-width="1.9" rx="0" />
<line x1="849.0" y1="817.7" x2="852.0" y2="817.7" stroke="#262626" stroke-width="1.2" />
<line x1="1127.0" y1="817.7" x2="1124.0" y2="817.7" stroke="#262626" stroke-width="1.2" />
<line x1="849.0" y1="799.1" x2="852.0" y2="799.1" stroke="#262626" stroke-width="1.2" />
<line x1="1127.0" y1="799.1" x2="1124.0" y2="799.1" stroke="#262626" stroke-width="1.2" />
<line x1="849.0" y1="780.5" x2="852.0" y2="780.5" stroke="#262626" stroke-width="1.2" />
<line x1="1127.0" y1="780.5" x2="1124.0" y2="780.5" stroke="#262626" stroke-width="1.2" />
<line x1="866.0" y1="836.2" x2="866.0" y2="833.2" stroke="#262626" stroke-width="1.2" />
<line x1="866.0" y1="762.0" x2="866.0" y2="765.0" stroke="#262626" stroke-width="1.2" />
<text x="866.0" y="858.7" font-size="17.1" text-anchor="middle" fill="#1a1a1a">1</text>
<line x1="894.6" y1="836.2" x2="894.6" y2="833.2" stroke="#262626" stroke-width="1.2" />
<line x1="894.6" y1="762.0" x2="894.6" y2="765.0" stroke="#262626" stroke-width="1.2" />
<text x="894.6" y="858.7" font-size="17.1" text-anchor="middle" fill="#1a1a1a">3</text>
<line x1="923.2" y1="836.2" x2="923.2" y2="833.2" stroke="#262626" stroke-width="1.2" />
<line x1="923.2" y1="762.0" x2="923.2" y2="765.0" stroke="#262626" stroke-width="1.2" />
<text x="923.2" y="858.7" font-size="17.1" text-anchor="middle" fill="#1a1a1a">5</text>
<line x1="951.8" y1="836.2" x2="951.8" y2="833.2" stroke="#262626" stroke-width="1.2" />
<line x1="951.8" y1="762.0" x2="951.8" y2="765.0" stroke="#262626" stroke-width="1.2" />
<text x="951.8" y="858.7" font-size="17.1" text-anchor="middle" fill="#1a1a1a">7</text>
<line x1="980.4" y1="836.2" x2="980.4" y2="833.2" stroke="#262626" stroke-width="1.2" />
<line x1="980.4" y1="762.0" x2="980.4" y2="765.0" stroke="#262626" stroke-width="1.2" />
<text x="980.4" y="858.7" font-size="17.1" text-anchor="middle" fill="#1a1a1a">9</text>
<line x1="1009.0" y1="836.2" x2="1009.0" y2="833.2" stroke="#262626" stroke-width="1.2" />
<line x1="1009.0" y1="762.0" x2="1009.0" y2="765.0" stroke="#262626" stroke-width="1.2" />
<text x="1009.0" y="858.7" font-size="17.1" text-anchor="middle" fill="#1a1a1a">11</text>
<line x1="1037.6" y1="836.2" x2="1037.6" y2="833.2" stroke="#262626" stroke-width="1.2" />
<line x1="1037.6" y1="762.0" x2="1037.6" y2="765.0" stroke="#262626" stroke-width="1.2" />
<text x="1037.6" y="858.7" font-size="17.1" text-anchor="middle" fill="#1a1a1a">13</text>
<line x1="1066.2" y1="836.2" x2="1066.2" y2="833.2" stroke="#262626" stroke-width="1.2" />
<line x1="1066.2" y1="762.0" x2="1066.2" y2="765.0" stroke="#262626" stroke-width="1.2" />
<text x="1066.2" y="858.7" font-size="17.1" text-anchor="middle" fill="#1a1a1a">15</text>
<line x1="1094.8" y1="836.2" x2="1094.8" y2="833.2" stroke="#262626" stroke-width="1.2" />
<line x1="1094.8" y1="762.0" x2="1094.8" y2="765.0" stroke="#262626" stroke-width="1.2" />
<text x="1094.8" y="858.7" font-size="17.1" text-anchor="middle" fill="#1a1a1a">17</text>
<text x="843.3" y="843.2" font-size="17.1" text-anchor="end" fill="#1a1a1a">0</text>
<text x="843.3" y="806.1" font-size="17.1" text-anchor="end" fill="#1a1a1a">15</text>
<text x="843.3" y="769.0" font-size="17.1" text-anchor="end" fill="#1a1a1a">30</text>
<text font-size="19.6" text-anchor="middle" fill="#1a1a1a" transform="translate(807.8,799.5) rotate(-90)">C<tspan font-size="15.0" dy="9.5">2</tspan><tspan dy="-9.5" font-size="19.6">&#8203;</tspan>H<tspan font-size="15.0" dy="9.5">2</tspan><tspan dy="-9.5" font-size="19.6">&#8203;</tspan>/ppm</text>
<line x1="849.0" y1="949.8" x2="1127.0" y2="949.8" stroke="#d0d0d0" stroke-width="1.0" />
<line x1="849.0" y1="931.6" x2="1127.0" y2="931.6" stroke="#d0d0d0" stroke-width="1.0" />
<line x1="849.0" y1="913.4" x2="1127.0" y2="913.4" stroke="#d0d0d0" stroke-width="1.0" />
<line x1="866.0" y1="895.2" x2="866.0" y2="968.0" stroke="#d0d0d0" stroke-width="1.0" />
<line x1="894.6" y1="895.2" x2="894.6" y2="968.0" stroke="#d0d0d0" stroke-width="1.0" />
<line x1="923.2" y1="895.2" x2="923.2" y2="968.0" stroke="#d0d0d0" stroke-width="1.0" />
<line x1="951.8" y1="895.2" x2="951.8" y2="968.0" stroke="#d0d0d0" stroke-width="1.0" />
<line x1="980.4" y1="895.2" x2="980.4" y2="968.0" stroke="#d0d0d0" stroke-width="1.0" />
<line x1="1009.0" y1="895.2" x2="1009.0" y2="968.0" stroke="#d0d0d0" stroke-width="1.0" />
<line x1="1037.6" y1="895.2" x2="1037.6" y2="968.0" stroke="#d0d0d0" stroke-width="1.0" />
<line x1="1066.2" y1="895.2" x2="1066.2" y2="968.0" stroke="#d0d0d0" stroke-width="1.0" />
<line x1="1094.8" y1="895.2" x2="1094.8" y2="968.0" stroke="#d0d0d0" stroke-width="1.0" />
<rect x="860.6" y="952.4" width="10.8" height="15.6" fill="#fec432" stroke="#000" stroke-width="1.5" rx="0" />
<rect x="874.9" y="956.5" width="10.8" height="11.5" fill="#fec432" stroke="#000" stroke-width="1.5" rx="0" />
<rect x="889.2" y="946.1" width="10.8" height="21.9" fill="#fec432" stroke="#000" stroke-width="1.5" rx="0" />
<rect x="903.5" y="938.3" width="10.8" height="29.7" fill="#fec432" stroke="#000" stroke-width="1.5" rx="0" />
<rect x="917.8" y="953.0" width="10.8" height="15.0" fill="#fec432" stroke="#000" stroke-width="1.5" rx="0" />
<rect x="932.1" y="954.0" width="10.8" height="14.0" fill="#fec432" stroke="#000" stroke-width="1.5" rx="0" />
<rect x="946.4" y="952.4" width="10.8" height="15.6" fill="#fec432" stroke="#000" stroke-width="1.5" rx="0" />
<rect x="960.7" y="952.4" width="10.8" height="15.6" fill="#fec432" stroke="#000" stroke-width="1.5" rx="0" />
<rect x="975.0" y="943.1" width="10.8" height="24.9" fill="#fec432" stroke="#000" stroke-width="1.5" rx="0" />
<rect x="989.3" y="957.2" width="10.8" height="10.8" fill="#fec432" stroke="#000" stroke-width="1.5" rx="0" />
<rect x="1003.6" y="938.3" width="10.8" height="29.7" fill="#fec432" stroke="#000" stroke-width="1.5" rx="0" />
<rect x="1017.9" y="944.1" width="10.8" height="23.9" fill="#fec432" stroke="#000" stroke-width="1.5" rx="0" />
<rect x="1032.2" y="940.0" width="10.8" height="28.0" fill="#fec432" stroke="#000" stroke-width="1.5" rx="0" />
<rect x="1046.5" y="944.1" width="10.8" height="23.9" fill="#fec432" stroke="#000" stroke-width="1.5" rx="0" />
<rect x="1060.8" y="957.2" width="10.8" height="10.8" fill="#fec432" stroke="#000" stroke-width="1.5" rx="0" />
<rect x="1075.1" y="950.3" width="10.8" height="17.7" fill="#fec432" stroke="#000" stroke-width="1.5" rx="0" />
<rect x="1089.4" y="957.2" width="10.8" height="10.8" fill="#fec432" stroke="#000" stroke-width="1.5" rx="0" />
<rect x="1103.7" y="952.4" width="10.8" height="15.6" fill="#fec432" stroke="#000" stroke-width="1.5" rx="0" />
<rect x="849.0" y="895.2" width="278.0" height="72.8" fill="none" stroke="#1a1a1a" stroke-width="1.9" rx="0" />
<line x1="849.0" y1="949.8" x2="852.0" y2="949.8" stroke="#262626" stroke-width="1.2" />
<line x1="1127.0" y1="949.8" x2="1124.0" y2="949.8" stroke="#262626" stroke-width="1.2" />
<line x1="849.0" y1="931.6" x2="852.0" y2="931.6" stroke="#262626" stroke-width="1.2" />
<line x1="1127.0" y1="931.6" x2="1124.0" y2="931.6" stroke="#262626" stroke-width="1.2" />
<line x1="849.0" y1="913.4" x2="852.0" y2="913.4" stroke="#262626" stroke-width="1.2" />
<line x1="1127.0" y1="913.4" x2="1124.0" y2="913.4" stroke="#262626" stroke-width="1.2" />
<line x1="866.0" y1="968.0" x2="866.0" y2="965.0" stroke="#262626" stroke-width="1.2" />
<line x1="866.0" y1="895.2" x2="866.0" y2="898.2" stroke="#262626" stroke-width="1.2" />
<text x="866.0" y="990.5" font-size="17.1" text-anchor="middle" fill="#1a1a1a">1</text>
<line x1="894.6" y1="968.0" x2="894.6" y2="965.0" stroke="#262626" stroke-width="1.2" />
<line x1="894.6" y1="895.2" x2="894.6" y2="898.2" stroke="#262626" stroke-width="1.2" />
<text x="894.6" y="990.5" font-size="17.1" text-anchor="middle" fill="#1a1a1a">3</text>
<line x1="923.2" y1="968.0" x2="923.2" y2="965.0" stroke="#262626" stroke-width="1.2" />
<line x1="923.2" y1="895.2" x2="923.2" y2="898.2" stroke="#262626" stroke-width="1.2" />
<text x="923.2" y="990.5" font-size="17.1" text-anchor="middle" fill="#1a1a1a">5</text>
<line x1="951.8" y1="968.0" x2="951.8" y2="965.0" stroke="#262626" stroke-width="1.2" />
<line x1="951.8" y1="895.2" x2="951.8" y2="898.2" stroke="#262626" stroke-width="1.2" />
<text x="951.8" y="990.5" font-size="17.1" text-anchor="middle" fill="#1a1a1a">7</text>
<line x1="980.4" y1="968.0" x2="980.4" y2="965.0" stroke="#262626" stroke-width="1.2" />
<line x1="980.4" y1="895.2" x2="980.4" y2="898.2" stroke="#262626" stroke-width="1.2" />
<text x="980.4" y="990.5" font-size="17.1" text-anchor="middle" fill="#1a1a1a">9</text>
<line x1="1009.0" y1="968.0" x2="1009.0" y2="965.0" stroke="#262626" stroke-width="1.2" />
<line x1="1009.0" y1="895.2" x2="1009.0" y2="898.2" stroke="#262626" stroke-width="1.2" />
<text x="1009.0" y="990.5" font-size="17.1" text-anchor="middle" fill="#1a1a1a">11</text>
<line x1="1037.6" y1="968.0" x2="1037.6" y2="965.0" stroke="#262626" stroke-width="1.2" />
<line x1="1037.6" y1="895.2" x2="1037.6" y2="898.2" stroke="#262626" stroke-width="1.2" />
<text x="1037.6" y="990.5" font-size="17.1" text-anchor="middle" fill="#1a1a1a">13</text>
<line x1="1066.2" y1="968.0" x2="1066.2" y2="965.0" stroke="#262626" stroke-width="1.2" />
<line x1="1066.2" y1="895.2" x2="1066.2" y2="898.2" stroke="#262626" stroke-width="1.2" />
<text x="1066.2" y="990.5" font-size="17.1" text-anchor="middle" fill="#1a1a1a">15</text>
<line x1="1094.8" y1="968.0" x2="1094.8" y2="965.0" stroke="#262626" stroke-width="1.2" />
<line x1="1094.8" y1="895.2" x2="1094.8" y2="898.2" stroke="#262626" stroke-width="1.2" />
<text x="1094.8" y="990.5" font-size="17.1" text-anchor="middle" fill="#1a1a1a">17</text>
<text x="843.3" y="975.0" font-size="17.1" text-anchor="end" fill="#1a1a1a">0</text>
<text x="843.3" y="938.6" font-size="17.1" text-anchor="end" fill="#1a1a1a">25</text>
<text x="843.3" y="902.2" font-size="17.1" text-anchor="end" fill="#1a1a1a">50</text>
<text font-size="19.6" text-anchor="middle" fill="#1a1a1a" transform="translate(807.8,932.0) rotate(-90)">C<tspan font-size="15.0" dy="9.5">2</tspan><tspan dy="-9.5" font-size="19.6">&#8203;</tspan>H<tspan font-size="15.0" dy="9.5">4</tspan><tspan dy="-9.5" font-size="19.6">&#8203;</tspan>/ppm</text>
<text x="988.0" y="1016.8" font-size="19.3" text-anchor="middle" fill="#1a1a1a">Gas number</text>
<text x="824.5" y="1091.8" font-size="35" font-weight="bold" fill="#231815">i</text>
<text x="990.0" y="1092.8" font-size="19.5" font-weight="bold" text-anchor="middle" fill="#231815">RMSEs</text>
<line x1="849.0" y1="1155.7" x2="1127.0" y2="1155.7" stroke="#d0d0d0" stroke-width="1.0" />
<line x1="849.0" y1="1137.1" x2="1127.0" y2="1137.1" stroke="#d0d0d0" stroke-width="1.0" />
<line x1="849.0" y1="1118.5" x2="1127.0" y2="1118.5" stroke="#d0d0d0" stroke-width="1.0" />
<line x1="866.0" y1="1100.0" x2="866.0" y2="1174.2" stroke="#d0d0d0" stroke-width="1.0" />
<line x1="894.6" y1="1100.0" x2="894.6" y2="1174.2" stroke="#d0d0d0" stroke-width="1.0" />
<line x1="923.2" y1="1100.0" x2="923.2" y2="1174.2" stroke="#d0d0d0" stroke-width="1.0" />
<line x1="951.8" y1="1100.0" x2="951.8" y2="1174.2" stroke="#d0d0d0" stroke-width="1.0" />
<line x1="980.4" y1="1100.0" x2="980.4" y2="1174.2" stroke="#d0d0d0" stroke-width="1.0" />
<line x1="1009.0" y1="1100.0" x2="1009.0" y2="1174.2" stroke="#d0d0d0" stroke-width="1.0" />
<line x1="1037.6" y1="1100.0" x2="1037.6" y2="1174.2" stroke="#d0d0d0" stroke-width="1.0" />
<line x1="1066.2" y1="1100.0" x2="1066.2" y2="1174.2" stroke="#d0d0d0" stroke-width="1.0" />
<line x1="1094.8" y1="1100.0" x2="1094.8" y2="1174.2" stroke="#d0d0d0" stroke-width="1.0" />
<rect x="860.6" y="1166.7" width="10.8" height="7.5" fill="#fb41bd" stroke="#000" stroke-width="1.5" rx="0" />
<rect x="874.9" y="1165.0" width="10.8" height="9.2" fill="#fb41bd" stroke="#000" stroke-width="1.5" rx="0" />
<rect x="889.2" y="1162.5" width="10.8" height="11.7" fill="#fb41bd" stroke="#000" stroke-width="1.5" rx="0" />
<rect x="903.5" y="1165.7" width="10.8" height="8.5" fill="#fb41bd" stroke="#000" stroke-width="1.5" rx="0" />
<rect x="917.8" y="1163.5" width="10.8" height="10.7" fill="#fb41bd" stroke="#000" stroke-width="1.5" rx="0" />
<rect x="932.1" y="1165.0" width="10.8" height="9.2" fill="#fb41bd" stroke="#000" stroke-width="1.5" rx="0" />
<rect x="946.4" y="1157.8" width="10.8" height="16.4" fill="#fb41bd" stroke="#000" stroke-width="1.5" rx="0" />
<rect x="960.7" y="1162.5" width="10.8" height="11.7" fill="#fb41bd" stroke="#000" stroke-width="1.5" rx="0" />
<rect x="975.0" y="1163.5" width="10.8" height="10.7" fill="#fb41bd" stroke="#000" stroke-width="1.5" rx="0" />
<rect x="989.3" y="1158.8" width="10.8" height="15.4" fill="#fb41bd" stroke="#000" stroke-width="1.5" rx="0" />
<rect x="1003.6" y="1165.7" width="10.8" height="8.5" fill="#fb41bd" stroke="#000" stroke-width="1.5" rx="0" />
<rect x="1017.9" y="1163.5" width="10.8" height="10.7" fill="#fb41bd" stroke="#000" stroke-width="1.5" rx="0" />
<rect x="1032.2" y="1162.5" width="10.8" height="11.7" fill="#fb41bd" stroke="#000" stroke-width="1.5" rx="0" />
<rect x="1046.5" y="1156.5" width="10.8" height="17.7" fill="#fb41bd" stroke="#000" stroke-width="1.5" rx="0" />
<rect x="1060.8" y="1164.7" width="10.8" height="9.5" fill="#fb41bd" stroke="#000" stroke-width="1.5" rx="0" />
<rect x="1075.1" y="1161.5" width="10.8" height="12.7" fill="#fb41bd" stroke="#000" stroke-width="1.5" rx="0" />
<rect x="1089.4" y="1149.4" width="10.8" height="24.8" fill="#fb41bd" stroke="#000" stroke-width="1.5" rx="0" />
<rect x="1103.7" y="1164.7" width="10.8" height="9.5" fill="#fb41bd" stroke="#000" stroke-width="1.5" rx="0" />
<rect x="849.0" y="1100.0" width="278.0" height="74.2" fill="none" stroke="#1a1a1a" stroke-width="1.9" rx="0" />
<line x1="849.0" y1="1155.7" x2="852.0" y2="1155.7" stroke="#262626" stroke-width="1.2" />
<line x1="1127.0" y1="1155.7" x2="1124.0" y2="1155.7" stroke="#262626" stroke-width="1.2" />
<line x1="849.0" y1="1137.1" x2="852.0" y2="1137.1" stroke="#262626" stroke-width="1.2" />
<line x1="1127.0" y1="1137.1" x2="1124.0" y2="1137.1" stroke="#262626" stroke-width="1.2" />
<line x1="849.0" y1="1118.5" x2="852.0" y2="1118.5" stroke="#262626" stroke-width="1.2" />
<line x1="1127.0" y1="1118.5" x2="1124.0" y2="1118.5" stroke="#262626" stroke-width="1.2" />
<line x1="866.0" y1="1174.2" x2="866.0" y2="1171.2" stroke="#262626" stroke-width="1.2" />
<line x1="866.0" y1="1100.0" x2="866.0" y2="1103.0" stroke="#262626" stroke-width="1.2" />
<text x="866.0" y="1196.7" font-size="17.1" text-anchor="middle" fill="#1a1a1a">1</text>
<line x1="894.6" y1="1174.2" x2="894.6" y2="1171.2" stroke="#262626" stroke-width="1.2" />
<line x1="894.6" y1="1100.0" x2="894.6" y2="1103.0" stroke="#262626" stroke-width="1.2" />
<text x="894.6" y="1196.7" font-size="17.1" text-anchor="middle" fill="#1a1a1a">3</text>
<line x1="923.2" y1="1174.2" x2="923.2" y2="1171.2" stroke="#262626" stroke-width="1.2" />
<line x1="923.2" y1="1100.0" x2="923.2" y2="1103.0" stroke="#262626" stroke-width="1.2" />
<text x="923.2" y="1196.7" font-size="17.1" text-anchor="middle" fill="#1a1a1a">5</text>
<line x1="951.8" y1="1174.2" x2="951.8" y2="1171.2" stroke="#262626" stroke-width="1.2" />
<line x1="951.8" y1="1100.0" x2="951.8" y2="1103.0" stroke="#262626" stroke-width="1.2" />
<text x="951.8" y="1196.7" font-size="17.1" text-anchor="middle" fill="#1a1a1a">7</text>
<line x1="980.4" y1="1174.2" x2="980.4" y2="1171.2" stroke="#262626" stroke-width="1.2" />
<line x1="980.4" y1="1100.0" x2="980.4" y2="1103.0" stroke="#262626" stroke-width="1.2" />
<text x="980.4" y="1196.7" font-size="17.1" text-anchor="middle" fill="#1a1a1a">9</text>
<line x1="1009.0" y1="1174.2" x2="1009.0" y2="1171.2" stroke="#262626" stroke-width="1.2" />
<line x1="1009.0" y1="1100.0" x2="1009.0" y2="1103.0" stroke="#262626" stroke-width="1.2" />
<text x="1009.0" y="1196.7" font-size="17.1" text-anchor="middle" fill="#1a1a1a">11</text>
<line x1="1037.6" y1="1174.2" x2="1037.6" y2="1171.2" stroke="#262626" stroke-width="1.2" />
<line x1="1037.6" y1="1100.0" x2="1037.6" y2="1103.0" stroke="#262626" stroke-width="1.2" />
<text x="1037.6" y="1196.7" font-size="17.1" text-anchor="middle" fill="#1a1a1a">13</text>
<line x1="1066.2" y1="1174.2" x2="1066.2" y2="1171.2" stroke="#262626" stroke-width="1.2" />
<line x1="1066.2" y1="1100.0" x2="1066.2" y2="1103.0" stroke="#262626" stroke-width="1.2" />
<text x="1066.2" y="1196.7" font-size="17.1" text-anchor="middle" fill="#1a1a1a">15</text>
<line x1="1094.8" y1="1174.2" x2="1094.8" y2="1171.2" stroke="#262626" stroke-width="1.2" />
<line x1="1094.8" y1="1100.0" x2="1094.8" y2="1103.0" stroke="#262626" stroke-width="1.2" />
<text x="1094.8" y="1196.7" font-size="17.1" text-anchor="middle" fill="#1a1a1a">17</text>
<text x="843.3" y="1181.2" font-size="17.1" text-anchor="end" fill="#1a1a1a">0</text>
<text x="843.3" y="1144.1" font-size="17.1" text-anchor="end" fill="#1a1a1a">15</text>
<text x="843.3" y="1107.0" font-size="17.1" text-anchor="end" fill="#1a1a1a">30</text>
<text font-size="19.6" text-anchor="middle" fill="#1a1a1a" transform="translate(807.8,1137.5) rotate(-90)">C<tspan font-size="15.0" dy="9.5">2</tspan><tspan dy="-9.5" font-size="19.6">&#8203;</tspan>H<tspan font-size="15.0" dy="9.5">2</tspan><tspan dy="-9.5" font-size="19.6">&#8203;</tspan>/ppm</text>
<line x1="849.0" y1="1287.8" x2="1127.0" y2="1287.8" stroke="#d0d0d0" stroke-width="1.0" />
<line x1="849.0" y1="1269.6" x2="1127.0" y2="1269.6" stroke="#d0d0d0" stroke-width="1.0" />
<line x1="849.0" y1="1251.4" x2="1127.0" y2="1251.4" stroke="#d0d0d0" stroke-width="1.0" />
<line x1="866.0" y1="1233.2" x2="866.0" y2="1306.0" stroke="#d0d0d0" stroke-width="1.0" />
<line x1="894.6" y1="1233.2" x2="894.6" y2="1306.0" stroke="#d0d0d0" stroke-width="1.0" />
<line x1="923.2" y1="1233.2" x2="923.2" y2="1306.0" stroke="#d0d0d0" stroke-width="1.0" />
<line x1="951.8" y1="1233.2" x2="951.8" y2="1306.0" stroke="#d0d0d0" stroke-width="1.0" />
<line x1="980.4" y1="1233.2" x2="980.4" y2="1306.0" stroke="#d0d0d0" stroke-width="1.0" />
<line x1="1009.0" y1="1233.2" x2="1009.0" y2="1306.0" stroke="#d0d0d0" stroke-width="1.0" />
<line x1="1037.6" y1="1233.2" x2="1037.6" y2="1306.0" stroke="#d0d0d0" stroke-width="1.0" />
<line x1="1066.2" y1="1233.2" x2="1066.2" y2="1306.0" stroke="#d0d0d0" stroke-width="1.0" />
<line x1="1094.8" y1="1233.2" x2="1094.8" y2="1306.0" stroke="#d0d0d0" stroke-width="1.0" />
<rect x="860.6" y="1298.5" width="10.8" height="7.5" fill="#fec432" stroke="#000" stroke-width="1.5" rx="0" />
<rect x="874.9" y="1290.7" width="10.8" height="15.3" fill="#fec432" stroke="#000" stroke-width="1.5" rx="0" />
<rect x="889.2" y="1293.4" width="10.8" height="12.6" fill="#fec432" stroke="#000" stroke-width="1.5" rx="0" />
<rect x="903.5" y="1290.7" width="10.8" height="15.3" fill="#fec432" stroke="#000" stroke-width="1.5" rx="0" />
<rect x="917.8" y="1296.5" width="10.8" height="9.5" fill="#fec432" stroke="#000" stroke-width="1.5" rx="0" />
<rect x="932.1" y="1292.7" width="10.8" height="13.3" fill="#fec432" stroke="#000" stroke-width="1.5" rx="0" />
<rect x="946.4" y="1286.9" width="10.8" height="19.1" fill="#fec432" stroke="#000" stroke-width="1.5" rx="0" />
<rect x="960.7" y="1279.8" width="10.8" height="26.2" fill="#fec432" stroke="#000" stroke-width="1.5" rx="0" />
<rect x="975.0" y="1286.6" width="10.8" height="19.4" fill="#fec432" stroke="#000" stroke-width="1.5" rx="0" />
<rect x="989.3" y="1294.8" width="10.8" height="11.2" fill="#fec432" stroke="#000" stroke-width="1.5" rx="0" />
<rect x="1003.6" y="1293.7" width="10.8" height="12.3" fill="#fec432" stroke="#000" stroke-width="1.5" rx="0" />
<rect x="1017.9" y="1289.9" width="10.8" height="16.1" fill="#fec432" stroke="#000" stroke-width="1.5" rx="0" />
<rect x="1032.2" y="1290.7" width="10.8" height="15.3" fill="#fec432" stroke="#000" stroke-width="1.5" rx="0" />
<rect x="1046.5" y="1294.8" width="10.8" height="11.2" fill="#fec432" stroke="#000" stroke-width="1.5" rx="0" />
<rect x="1060.8" y="1293.7" width="10.8" height="12.3" fill="#fec432" stroke="#000" stroke-width="1.5" rx="0" />
<rect x="1075.1" y="1292.7" width="10.8" height="13.3" fill="#fec432" stroke="#000" stroke-width="1.5" rx="0" />
<rect x="1089.4" y="1294.5" width="10.8" height="11.5" fill="#fec432" stroke="#000" stroke-width="1.5" rx="0" />
<rect x="1103.7" y="1290.4" width="10.8" height="15.6" fill="#fec432" stroke="#000" stroke-width="1.5" rx="0" />
<rect x="849.0" y="1233.2" width="278.0" height="72.8" fill="none" stroke="#1a1a1a" stroke-width="1.9" rx="0" />
<line x1="849.0" y1="1287.8" x2="852.0" y2="1287.8" stroke="#262626" stroke-width="1.2" />
<line x1="1127.0" y1="1287.8" x2="1124.0" y2="1287.8" stroke="#262626" stroke-width="1.2" />
<line x1="849.0" y1="1269.6" x2="852.0" y2="1269.6" stroke="#262626" stroke-width="1.2" />
<line x1="1127.0" y1="1269.6" x2="1124.0" y2="1269.6" stroke="#262626" stroke-width="1.2" />
<line x1="849.0" y1="1251.4" x2="852.0" y2="1251.4" stroke="#262626" stroke-width="1.2" />
<line x1="1127.0" y1="1251.4" x2="1124.0" y2="1251.4" stroke="#262626" stroke-width="1.2" />
<line x1="866.0" y1="1306.0" x2="866.0" y2="1303.0" stroke="#262626" stroke-width="1.2" />
<line x1="866.0" y1="1233.2" x2="866.0" y2="1236.2" stroke="#262626" stroke-width="1.2" />
<text x="866.0" y="1328.5" font-size="17.1" text-anchor="middle" fill="#1a1a1a">1</text>
<line x1="894.6" y1="1306.0" x2="894.6" y2="1303.0" stroke="#262626" stroke-width="1.2" />
<line x1="894.6" y1="1233.2" x2="894.6" y2="1236.2" stroke="#262626" stroke-width="1.2" />
<text x="894.6" y="1328.5" font-size="17.1" text-anchor="middle" fill="#1a1a1a">3</text>
<line x1="923.2" y1="1306.0" x2="923.2" y2="1303.0" stroke="#262626" stroke-width="1.2" />
<line x1="923.2" y1="1233.2" x2="923.2" y2="1236.2" stroke="#262626" stroke-width="1.2" />
<text x="923.2" y="1328.5" font-size="17.1" text-anchor="middle" fill="#1a1a1a">5</text>
<line x1="951.8" y1="1306.0" x2="951.8" y2="1303.0" stroke="#262626" stroke-width="1.2" />
<line x1="951.8" y1="1233.2" x2="951.8" y2="1236.2" stroke="#262626" stroke-width="1.2" />
<text x="951.8" y="1328.5" font-size="17.1" text-anchor="middle" fill="#1a1a1a">7</text>
<line x1="980.4" y1="1306.0" x2="980.4" y2="1303.0" stroke="#262626" stroke-width="1.2" />
<line x1="980.4" y1="1233.2" x2="980.4" y2="1236.2" stroke="#262626" stroke-width="1.2" />
<text x="980.4" y="1328.5" font-size="17.1" text-anchor="middle" fill="#1a1a1a">9</text>
<line x1="1009.0" y1="1306.0" x2="1009.0" y2="1303.0" stroke="#262626" stroke-width="1.2" />
<line x1="1009.0" y1="1233.2" x2="1009.0" y2="1236.2" stroke="#262626" stroke-width="1.2" />
<text x="1009.0" y="1328.5" font-size="17.1" text-anchor="middle" fill="#1a1a1a">11</text>
<line x1="1037.6" y1="1306.0" x2="1037.6" y2="1303.0" stroke="#262626" stroke-width="1.2" />
<line x1="1037.6" y1="1233.2" x2="1037.6" y2="1236.2" stroke="#262626" stroke-width="1.2" />
<text x="1037.6" y="1328.5" font-size="17.1" text-anchor="middle" fill="#1a1a1a">13</text>
<line x1="1066.2" y1="1306.0" x2="1066.2" y2="1303.0" stroke="#262626" stroke-width="1.2" />
<line x1="1066.2" y1="1233.2" x2="1066.2" y2="1236.2" stroke="#262626" stroke-width="1.2" />
<text x="1066.2" y="1328.5" font-size="17.1" text-anchor="middle" fill="#1a1a1a">15</text>
<line x1="1094.8" y1="1306.0" x2="1094.8" y2="1303.0" stroke="#262626" stroke-width="1.2" />
<line x1="1094.8" y1="1233.2" x2="1094.8" y2="1236.2" stroke="#262626" stroke-width="1.2" />
<text x="1094.8" y="1328.5" font-size="17.1" text-anchor="middle" fill="#1a1a1a">17</text>
<text x="843.3" y="1313.0" font-size="17.1" text-anchor="end" fill="#1a1a1a">0</text>
<text x="843.3" y="1276.6" font-size="17.1" text-anchor="end" fill="#1a1a1a">25</text>
<text x="843.3" y="1240.2" font-size="17.1" text-anchor="end" fill="#1a1a1a">50</text>
<text font-size="19.6" text-anchor="middle" fill="#1a1a1a" transform="translate(807.8,1270.0) rotate(-90)">C<tspan font-size="15.0" dy="9.5">2</tspan><tspan dy="-9.5" font-size="19.6">&#8203;</tspan>H<tspan font-size="15.0" dy="9.5">4</tspan><tspan dy="-9.5" font-size="19.6">&#8203;</tspan>/ppm</text>
<text x="988.0" y="1354.8" font-size="19.3" text-anchor="middle" fill="#1a1a1a">Gas number</text>
</svg></body></html>
